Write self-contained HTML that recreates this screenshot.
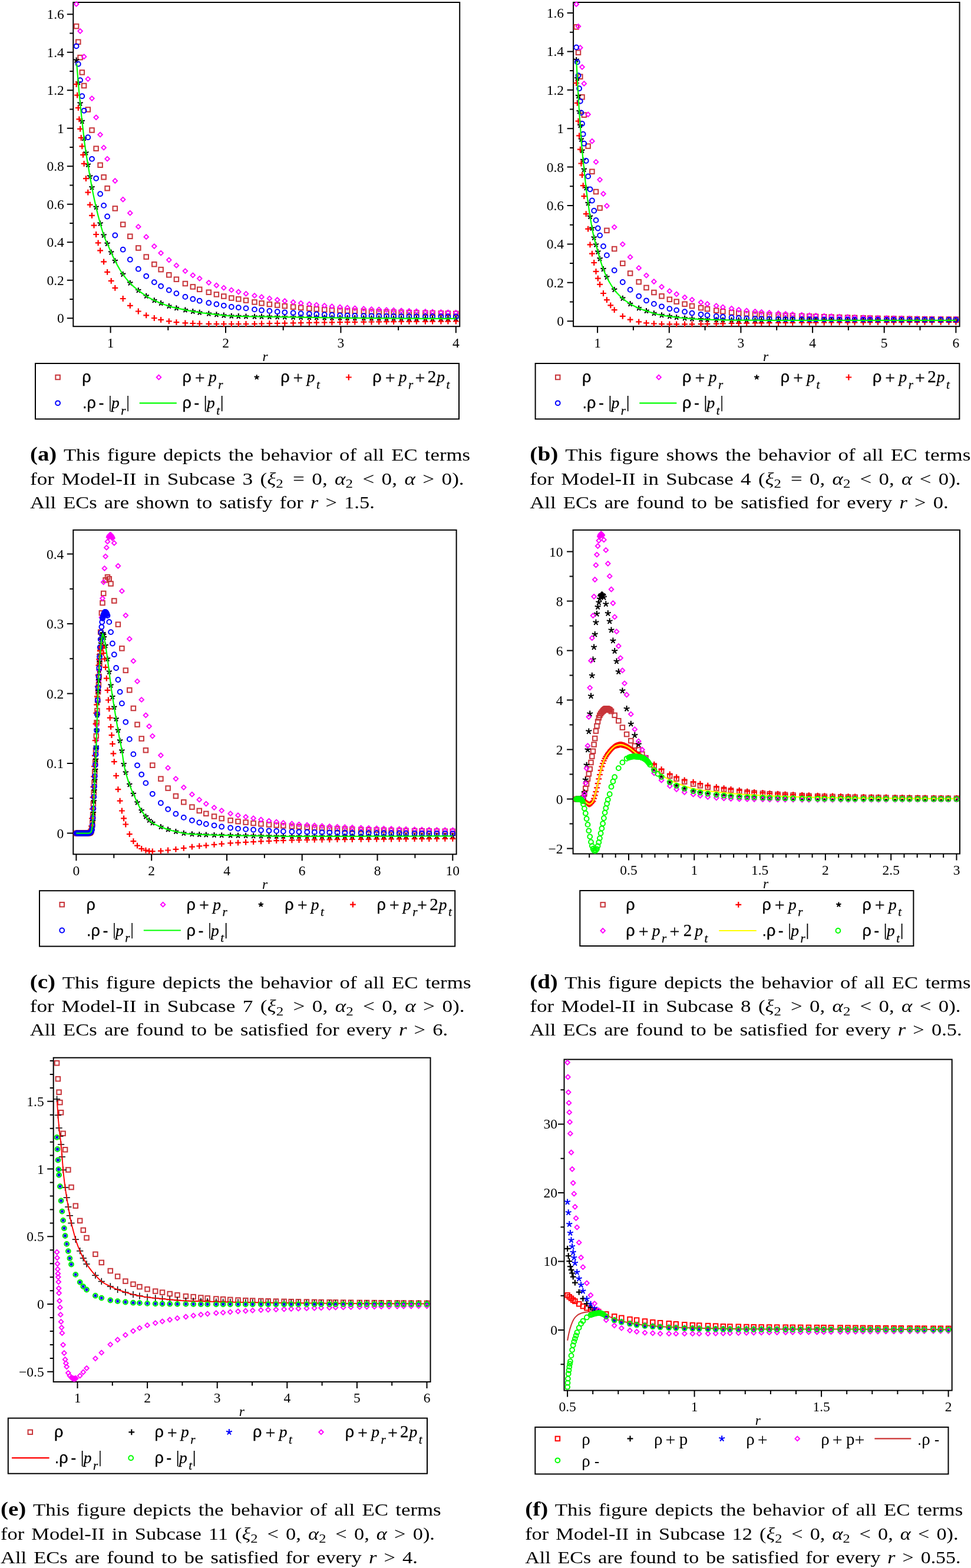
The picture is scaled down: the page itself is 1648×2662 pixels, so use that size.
<!DOCTYPE html>
<html><head><meta charset="utf-8"><title>EC figure</title>
<style>html,body{margin:0;padding:0;background:#fff}svg{display:block}</style></head><body>
<svg width="1648" height="2662" viewBox="0 0 1648 2662">
<rect width="1648" height="2662" fill="#fff"/>
<defs>
<g id="sq"><rect x="-3.75" y="-3.75" width="7.5" height="7.5" fill="none" stroke="currentColor" stroke-width="2"/></g>
<g id="di"><path d="M0 -3.8L3.8 0L0 3.8L-3.8 0Z" fill="none" stroke="currentColor" stroke-width="1.9"/></g>
<g id="ci"><circle r="3.9" fill="none" stroke="currentColor" stroke-width="2"/></g>
<g id="pl"><path d="M-4.9 0H4.9M0 -4.9V4.9" fill="none" stroke="currentColor" stroke-width="2.2"/></g>
<g id="plb"><path d="M-5.6 0H5.6M0 -5.6V5.6" fill="none" stroke="currentColor" stroke-width="1.5"/></g>
<g id="as"><path d="M0 -4.8V0M0 0L-4.6 -1.5M0 0L4.6 -1.5M0 0L-2.8 3.9M0 0L2.8 3.9" fill="none" stroke="currentColor" stroke-width="2.1"/></g>
<g id="asb"><path d="M0 -5.2V0M0 0L-4.9 -1.6M0 0L4.9 -1.6M0 0L-3 4.2M0 0L3 4.2" fill="none" stroke="currentColor" stroke-width="2"/></g>
<g id="asl"><path d="M0 -4.3V0M0 0L-4.1 -1.3M0 0L4.1 -1.3M0 0L-2.5 3.5M0 0L2.5 3.5" fill="none" stroke="currentColor" stroke-width="2.1"/></g>
<g id="ass"><path d="M0 -3.6V3.6M-3.3 -2L3.3 2M-3.3 2L3.3 -2" fill="none" stroke="currentColor" stroke-width="1.6"/></g>
</defs>
<g stroke="#000" stroke-width="2" fill="none">
<rect x="124.3" y="4.0" width="655.9" height="550.2"/>
<path d="M187.6 554.2v11M383.0 554.2v11M578.4 554.2v11M773.8 554.2v11M285.3 554.2v6.5M480.7 554.2v6.5M676.1 554.2v6.5M124.3 540.3h-10.5M124.3 475.8h-10.5M124.3 411.3h-10.5M124.3 346.8h-10.5M124.3 282.3h-10.5M124.3 217.8h-10.5M124.3 153.3h-10.5M124.3 88.8h-10.5M124.3 24.3h-10.5M124.3 508.0h-6M124.3 443.5h-6M124.3 379.0h-6M124.3 314.5h-6M124.3 250.0h-6M124.3 185.5h-6M124.3 121.0h-6M124.3 56.5h-6"/>
</g>
<g font-family="'Liberation Serif',serif" font-size="23.5" fill="#000">
<g text-anchor="middle">
<text x="187.6" y="589.5">1</text>
<text x="383.0" y="589.5">2</text>
<text x="578.4" y="589.5">3</text>
<text x="773.8" y="589.5">4</text>
</g><g text-anchor="end">
<text x="108.8" y="548.2">0</text>
<text x="108.8" y="483.7">0.2</text>
<text x="108.8" y="419.2">0.4</text>
<text x="108.8" y="354.7">0.6</text>
<text x="108.8" y="290.2">0.8</text>
<text x="108.8" y="225.7">1</text>
<text x="108.8" y="161.2">1.2</text>
<text x="108.8" y="96.7">1.4</text>
<text x="108.8" y="32.2">1.6</text>
</g>
<text x="450.0" y="613.0" font-style="italic" font-size="23.5" text-anchor="middle">r</text>
</g>
<g color="#c8353a">
<use href="#sq" x="129.6" y="44.6"/><use href="#sq" x="132.8" y="71.2"/><use href="#sq" x="136.1" y="97.6"/><use href="#sq" x="139.3" y="122.9"/><use href="#sq" x="142.6" y="145.5"/><use href="#sq" x="149.3" y="186.0"/><use href="#sq" x="156.0" y="221.0"/><use href="#sq" x="163.1" y="252.2"/><use href="#sq" x="170.1" y="280.3"/><use href="#sq" x="176.1" y="300.8"/><use href="#sq" x="182.1" y="319.7"/><use href="#sq" x="195.3" y="353.9"/><use href="#sq" x="208.7" y="381.1"/><use href="#sq" x="220.8" y="401.3"/><use href="#sq" x="234.8" y="421.0"/><use href="#sq" x="248.2" y="436.1"/><use href="#sq" x="261.8" y="448.7"/><use href="#sq" x="273.1" y="457.6"/><use href="#sq" x="286.8" y="466.8"/><use href="#sq" x="299.4" y="474.2"/><use href="#sq" x="314.4" y="481.5"/><use href="#sq" x="327.3" y="486.9"/><use href="#sq" x="338.7" y="491.3"/><use href="#sq" x="354.3" y="496.2"/><use href="#sq" x="367.4" y="499.9"/><use href="#sq" x="379.8" y="503.0"/><use href="#sq" x="392.8" y="506.0"/><use href="#sq" x="404.8" y="507.8"/><use href="#sq" x="417.5" y="510.0"/><use href="#sq" x="432.0" y="512.9"/><use href="#sq" x="444.0" y="514.8"/><use href="#sq" x="457.4" y="516.6"/><use href="#sq" x="470.7" y="518.1"/><use href="#sq" x="483.3" y="519.6"/><use href="#sq" x="497.6" y="521.1"/><use href="#sq" x="510.7" y="522.4"/><use href="#sq" x="524.9" y="523.8"/><use href="#sq" x="537.2" y="524.8"/><use href="#sq" x="550.7" y="525.8"/><use href="#sq" x="563.4" y="526.6"/><use href="#sq" x="577.0" y="527.2"/><use href="#sq" x="589.6" y="527.8"/><use href="#sq" x="602.3" y="528.2"/><use href="#sq" x="617.3" y="528.7"/><use href="#sq" x="630.5" y="529.1"/><use href="#sq" x="643.2" y="529.5"/><use href="#sq" x="656.0" y="529.8"/><use href="#sq" x="668.1" y="530.1"/><use href="#sq" x="681.1" y="530.4"/><use href="#sq" x="694.4" y="530.7"/><use href="#sq" x="706.9" y="531.0"/><use href="#sq" x="721.9" y="531.4"/><use href="#sq" x="734.1" y="531.6"/><use href="#sq" x="748.4" y="531.9"/><use href="#sq" x="760.4" y="532.1"/><use href="#sq" x="773.8" y="532.4"/>
</g>
<g color="#ff00ff">
<use href="#di" x="129.6" y="6.9"/><use href="#di" x="136.1" y="52.8"/><use href="#di" x="142.6" y="96.2"/><use href="#di" x="149.3" y="134.1"/><use href="#di" x="156.0" y="167.1"/><use href="#di" x="163.1" y="199.3"/><use href="#di" x="170.1" y="228.6"/><use href="#di" x="176.1" y="250.7"/><use href="#di" x="182.1" y="269.7"/><use href="#di" x="195.3" y="307.0"/><use href="#di" x="208.7" y="338.7"/><use href="#di" x="220.8" y="361.7"/><use href="#di" x="234.8" y="384.9"/><use href="#di" x="248.2" y="402.2"/><use href="#di" x="261.8" y="418.1"/><use href="#di" x="273.1" y="429.6"/><use href="#di" x="286.8" y="441.3"/><use href="#di" x="299.4" y="450.7"/><use href="#di" x="314.4" y="460.1"/><use href="#di" x="327.3" y="467.3"/><use href="#di" x="338.7" y="472.8"/><use href="#di" x="354.3" y="479.8"/><use href="#di" x="367.4" y="484.5"/><use href="#di" x="379.8" y="488.7"/><use href="#di" x="392.8" y="492.4"/><use href="#di" x="404.8" y="495.5"/><use href="#di" x="417.5" y="498.7"/><use href="#di" x="432.0" y="501.9"/><use href="#di" x="444.0" y="504.2"/><use href="#di" x="457.4" y="506.7"/><use href="#di" x="470.7" y="509.0"/><use href="#di" x="483.3" y="511.0"/><use href="#di" x="497.6" y="513.0"/><use href="#di" x="510.7" y="514.6"/><use href="#di" x="524.9" y="516.3"/><use href="#di" x="537.2" y="517.7"/><use href="#di" x="550.7" y="518.9"/><use href="#di" x="563.4" y="520.2"/><use href="#di" x="577.0" y="521.5"/><use href="#di" x="589.6" y="522.4"/><use href="#di" x="602.3" y="523.3"/><use href="#di" x="617.3" y="524.2"/><use href="#di" x="630.5" y="524.9"/><use href="#di" x="643.2" y="525.5"/><use href="#di" x="656.0" y="526.2"/><use href="#di" x="668.1" y="526.7"/><use href="#di" x="681.1" y="527.3"/><use href="#di" x="694.4" y="527.9"/><use href="#di" x="706.9" y="528.4"/><use href="#di" x="721.9" y="529.0"/><use href="#di" x="734.1" y="529.4"/><use href="#di" x="748.4" y="529.9"/><use href="#di" x="760.4" y="530.3"/><use href="#di" x="773.8" y="530.7"/>
</g>
<g color="#000">
<use href="#as" x="129.6" y="102.4"/><use href="#as" x="132.8" y="140.2"/><use href="#as" x="136.1" y="175.6"/><use href="#as" x="139.3" y="205.9"/><use href="#as" x="142.6" y="235.0"/><use href="#as" x="145.9" y="259.5"/><use href="#as" x="149.3" y="279.8"/><use href="#as" x="152.7" y="299.6"/><use href="#as" x="156.0" y="318.3"/><use href="#as" x="163.1" y="351.8"/><use href="#as" x="170.1" y="379.4"/><use href="#as" x="176.1" y="399.4"/><use href="#as" x="182.1" y="413.8"/><use href="#as" x="188.7" y="428.5"/><use href="#as" x="195.3" y="443.0"/><use href="#as" x="208.7" y="465.7"/><use href="#as" x="220.8" y="480.6"/><use href="#as" x="234.8" y="493.0"/><use href="#as" x="248.2" y="502.6"/><use href="#as" x="261.8" y="510.0"/><use href="#as" x="273.1" y="514.8"/><use href="#as" x="286.8" y="519.7"/><use href="#as" x="299.4" y="523.0"/><use href="#as" x="314.4" y="526.3"/><use href="#as" x="327.3" y="528.7"/><use href="#as" x="338.7" y="530.5"/><use href="#as" x="354.3" y="532.6"/><use href="#as" x="367.4" y="534.1"/><use href="#as" x="379.8" y="535.4"/><use href="#as" x="392.8" y="536.5"/><use href="#as" x="404.8" y="536.9"/><use href="#as" x="417.5" y="537.2"/><use href="#as" x="432.0" y="537.5"/><use href="#as" x="444.0" y="537.6"/><use href="#as" x="457.4" y="537.8"/><use href="#as" x="470.7" y="538.0"/><use href="#as" x="483.3" y="538.2"/><use href="#as" x="497.6" y="538.4"/><use href="#as" x="510.7" y="538.7"/><use href="#as" x="524.9" y="538.9"/><use href="#as" x="537.2" y="539.1"/><use href="#as" x="550.7" y="539.3"/><use href="#as" x="563.4" y="539.5"/><use href="#as" x="577.0" y="539.6"/><use href="#as" x="589.6" y="539.8"/><use href="#as" x="602.3" y="539.9"/><use href="#as" x="617.3" y="540.0"/><use href="#as" x="630.5" y="540.2"/><use href="#as" x="643.2" y="540.3"/><use href="#as" x="656.0" y="540.4"/><use href="#as" x="668.1" y="540.5"/><use href="#as" x="681.1" y="540.6"/><use href="#as" x="694.4" y="540.7"/><use href="#as" x="706.9" y="540.7"/><use href="#as" x="721.9" y="540.8"/><use href="#as" x="734.1" y="540.9"/><use href="#as" x="748.4" y="540.9"/><use href="#as" x="760.4" y="540.9"/><use href="#as" x="773.8" y="540.9"/>
</g>
<g color="#ff0000">
<use href="#pl" x="129.6" y="143.0"/><use href="#pl" x="131.2" y="161.6"/><use href="#pl" x="132.8" y="183.2"/><use href="#pl" x="134.4" y="202.3"/><use href="#pl" x="136.1" y="218.8"/><use href="#pl" x="137.7" y="233.9"/><use href="#pl" x="139.3" y="248.4"/><use href="#pl" x="141.0" y="262.9"/><use href="#pl" x="142.6" y="277.9"/><use href="#pl" x="145.9" y="303.2"/><use href="#pl" x="149.3" y="326.6"/><use href="#pl" x="152.7" y="347.7"/><use href="#pl" x="156.0" y="365.9"/><use href="#pl" x="159.5" y="382.6"/><use href="#pl" x="163.1" y="398.0"/><use href="#pl" x="166.6" y="412.3"/><use href="#pl" x="170.1" y="425.4"/><use href="#pl" x="176.1" y="444.4"/><use href="#pl" x="182.1" y="461.8"/><use href="#pl" x="188.7" y="476.9"/><use href="#pl" x="195.3" y="488.8"/><use href="#pl" x="208.7" y="507.0"/><use href="#pl" x="220.8" y="518.8"/><use href="#pl" x="234.8" y="528.5"/><use href="#pl" x="248.2" y="535.3"/><use href="#pl" x="261.8" y="540.0"/><use href="#pl" x="273.1" y="542.9"/><use href="#pl" x="286.8" y="545.4"/><use href="#pl" x="299.4" y="547.1"/><use href="#pl" x="314.4" y="548.4"/><use href="#pl" x="327.3" y="549.0"/><use href="#pl" x="338.7" y="549.5"/><use href="#pl" x="354.3" y="549.9"/><use href="#pl" x="367.4" y="550.0"/><use href="#pl" x="379.8" y="550.0"/><use href="#pl" x="392.8" y="550.0"/><use href="#pl" x="404.8" y="550.0"/><use href="#pl" x="417.5" y="550.0"/><use href="#pl" x="432.0" y="549.8"/><use href="#pl" x="444.0" y="549.5"/><use href="#pl" x="457.4" y="549.2"/><use href="#pl" x="470.7" y="548.8"/><use href="#pl" x="483.3" y="548.6"/><use href="#pl" x="497.6" y="548.4"/><use href="#pl" x="510.7" y="548.1"/><use href="#pl" x="524.9" y="547.9"/><use href="#pl" x="537.2" y="547.7"/><use href="#pl" x="550.7" y="547.5"/><use href="#pl" x="563.4" y="547.3"/><use href="#pl" x="577.0" y="547.1"/><use href="#pl" x="589.6" y="546.9"/><use href="#pl" x="602.3" y="546.8"/><use href="#pl" x="617.3" y="546.6"/><use href="#pl" x="630.5" y="546.5"/><use href="#pl" x="643.2" y="546.3"/><use href="#pl" x="656.0" y="546.2"/><use href="#pl" x="668.1" y="546.1"/><use href="#pl" x="681.1" y="546.0"/><use href="#pl" x="694.4" y="545.9"/><use href="#pl" x="706.9" y="545.8"/><use href="#pl" x="721.9" y="545.8"/><use href="#pl" x="734.1" y="545.7"/><use href="#pl" x="748.4" y="545.6"/><use href="#pl" x="760.4" y="545.6"/><use href="#pl" x="773.8" y="545.5"/>
</g>
<g color="#0000ff">
<use href="#ci" x="129.6" y="78.3"/><use href="#ci" x="132.8" y="108.7"/><use href="#ci" x="136.1" y="136.1"/><use href="#ci" x="139.3" y="163.2"/><use href="#ci" x="142.6" y="187.8"/><use href="#ci" x="149.3" y="233.2"/><use href="#ci" x="156.0" y="269.8"/><use href="#ci" x="163.1" y="302.8"/><use href="#ci" x="170.1" y="329.2"/><use href="#ci" x="176.1" y="348.9"/><use href="#ci" x="182.1" y="367.5"/><use href="#ci" x="195.3" y="399.5"/><use href="#ci" x="208.7" y="423.7"/><use href="#ci" x="220.8" y="440.7"/><use href="#ci" x="234.8" y="456.7"/><use href="#ci" x="248.2" y="468.8"/><use href="#ci" x="261.8" y="479.1"/><use href="#ci" x="273.1" y="485.8"/><use href="#ci" x="286.8" y="492.6"/><use href="#ci" x="299.4" y="498.1"/><use href="#ci" x="314.4" y="503.9"/><use href="#ci" x="327.3" y="507.7"/><use href="#ci" x="338.7" y="510.7"/><use href="#ci" x="354.3" y="514.2"/><use href="#ci" x="367.4" y="516.5"/><use href="#ci" x="379.8" y="518.8"/><use href="#ci" x="392.8" y="521.0"/><use href="#ci" x="404.8" y="522.1"/><use href="#ci" x="417.5" y="523.4"/><use href="#ci" x="432.0" y="525.4"/><use href="#ci" x="444.0" y="526.7"/><use href="#ci" x="457.4" y="527.9"/><use href="#ci" x="470.7" y="529.2"/><use href="#ci" x="483.3" y="530.3"/><use href="#ci" x="497.6" y="531.2"/><use href="#ci" x="510.7" y="532.2"/><use href="#ci" x="524.9" y="532.8"/><use href="#ci" x="537.2" y="533.4"/><use href="#ci" x="550.7" y="534.1"/><use href="#ci" x="563.4" y="534.7"/><use href="#ci" x="577.0" y="535.3"/><use href="#ci" x="589.6" y="535.7"/><use href="#ci" x="602.3" y="536.0"/><use href="#ci" x="617.3" y="536.2"/><use href="#ci" x="630.5" y="536.3"/><use href="#ci" x="643.2" y="536.5"/><use href="#ci" x="656.0" y="536.6"/><use href="#ci" x="668.1" y="536.7"/><use href="#ci" x="681.1" y="536.9"/><use href="#ci" x="694.4" y="537.0"/><use href="#ci" x="706.9" y="537.1"/><use href="#ci" x="721.9" y="537.1"/><use href="#ci" x="734.1" y="537.2"/><use href="#ci" x="748.4" y="537.3"/><use href="#ci" x="760.4" y="537.3"/><use href="#ci" x="773.8" y="537.4"/>
</g>
<polyline points="130.2,108.5 132.3,133.8 134.4,158.5 136.6,180.7 138.7,200.6 140.9,219.5 143.0,238.8 145.2,254.5 147.3,268.0 149.5,280.7 151.6,293.4 153.8,305.9 155.9,317.7 158.0,328.6 160.2,338.9 162.3,348.6 164.5,357.8 166.6,366.4 168.8,374.5 170.9,382.3 173.1,389.7 175.2,396.7 177.4,402.9 179.5,408.2 181.6,412.9 183.8,417.5 185.9,422.3 188.1,427.2 190.2,432.0 192.4,436.7 194.5,441.3 196.7,445.6 198.8,449.6 201.0,453.4 203.1,457.1 205.2,460.5 207.4,463.8 209.5,466.9 211.7,469.8 213.8,472.6 216.0,475.2 218.1,477.7 220.3,480.0 222.4,482.3 224.6,484.4 226.7,486.4 228.8,488.2 231.0,490.0 233.1,491.7 235.3,493.4 237.4,495.0 239.6,496.6 241.7,498.2 243.9,499.7 246.0,501.2 248.2,502.6 250.3,503.9 252.4,505.2 254.6,506.3 256.7,507.5 258.9,508.6 261.0,509.6 263.2,510.6 265.3,511.6 267.5,512.5 269.6,513.4 271.8,514.3 273.9,515.1 276.0,515.9 278.2,516.7 280.3,517.5 282.5,518.2 284.6,519.0 286.8,519.7 288.9,520.4 291.1,521.0 293.2,521.6 295.4,522.1 297.5,522.6 299.6,523.1 301.8,523.5 303.9,524.0 306.1,524.4 308.2,524.9 310.4,525.4 312.5,525.9 314.7,526.3 316.8,526.7 319.0,527.2 321.1,527.6 323.2,528.0 325.4,528.3 327.5,528.7 329.7,529.1 331.8,529.4 334.0,529.7 336.1,530.1 338.3,530.4 340.4,530.7 342.6,531.1 344.7,531.4 346.8,531.6 349.0,531.9 351.1,532.2 353.3,532.4 355.4,532.7 357.6,532.9 359.7,533.2 361.9,533.4 364.0,533.7 366.2,533.9 368.3,534.2 370.4,534.4 372.6,534.6 374.7,534.9 376.9,535.1 379.0,535.3 381.2,535.6 383.3,535.8 385.5,536.0 387.6,536.1 389.8,536.3 391.9,536.4 394.0,536.5 396.2,536.7 398.3,536.7 400.5,536.8 402.6,536.9 404.8,536.9 406.9,537.0 409.1,537.0 411.2,537.1 413.4,537.1 415.5,537.2 417.6,537.2 419.8,537.3 421.9,537.3 424.1,537.3 426.2,537.4 428.4,537.4 430.5,537.5 432.7,537.5 434.8,537.5 437.0,537.5 439.1,537.6 441.2,537.6 443.4,537.6 445.5,537.7 447.7,537.7 449.8,537.7 452.0,537.7 454.1,537.8 456.3,537.8 458.4,537.8 460.6,537.9 462.7,537.9 464.8,537.9 467.0,537.9 469.1,538.0 471.3,538.0 473.4,538.0 475.6,538.1 477.7,538.1 479.9,538.1 482.0,538.2 484.2,538.2 486.3,538.2 488.4,538.3 490.6,538.3 492.7,538.3 494.9,538.4 497.0,538.4 499.2,538.5 501.3,538.5 503.5,538.5 505.6,538.6 507.8,538.6 509.9,538.6 512.0,538.7 514.2,538.7 516.3,538.8 518.5,538.8 520.6,538.8 522.8,538.9 524.9,538.9 527.1,538.9 529.2,539.0 531.4,539.0 533.5,539.0 535.7,539.1 537.8,539.1 539.9,539.1 542.1,539.2 544.2,539.2 546.4,539.2 548.5,539.3 550.7,539.3 552.8,539.3 555.0,539.4 557.1,539.4 559.3,539.4 561.4,539.5 563.5,539.5 565.7,539.5 567.8,539.5 570.0,539.6 572.1,539.6 574.3,539.6 576.4,539.6 578.6,539.7 580.7,539.7 582.9,539.7 585.0,539.7 587.1,539.7 589.3,539.8 591.4,539.8 593.6,539.8 595.7,539.8 597.9,539.8 600.0,539.9 602.2,539.9 604.3,539.9 606.5,539.9 608.6,539.9 610.7,540.0 612.9,540.0 615.0,540.0 617.2,540.0 619.3,540.0 621.5,540.1 623.6,540.1 625.8,540.1 627.9,540.1 630.1,540.1 632.2,540.2 634.3,540.2 636.5,540.2 638.6,540.2 640.8,540.2 642.9,540.3 645.1,540.3 647.2,540.3 649.4,540.3 651.5,540.3 653.7,540.4 655.8,540.4 657.9,540.4 660.1,540.4 662.2,540.4 664.4,540.4 666.5,540.5 668.7,540.5 670.8,540.5 673.0,540.5 675.1,540.5 677.3,540.5 679.4,540.6 681.5,540.6 683.7,540.6 685.8,540.6 688.0,540.6 690.1,540.6 692.3,540.7 694.4,540.7 696.6,540.7 698.7,540.7 700.9,540.7 703.0,540.7 705.1,540.7 707.3,540.7 709.4,540.8 711.6,540.8 713.7,540.8 715.9,540.8 718.0,540.8 720.2,540.8 722.3,540.8 724.5,540.8 726.6,540.8 728.7,540.8 730.9,540.9 733.0,540.9 735.2,540.9 737.3,540.9 739.5,540.9 741.6,540.9 743.8,540.9 745.9,540.9 748.1,540.9 750.2,540.9 752.3,540.9 754.5,540.9 756.6,540.9 758.8,540.9 760.9,540.9 763.1,540.9 765.2,540.9 767.4,540.9 769.5,540.9 771.7,540.9 773.8,540.9" fill="none" stroke="#00ff00" stroke-width="2.2" stroke-linejoin="round"/>
<rect x="60.0" y="617.0" width="719.0" height="94.4" fill="none" stroke="#000" stroke-width="2"/>
<use href="#sq" x="98.1" y="640.5" color="#c8353a"/>
<text x="139.3" y="649.3" font-family="'Liberation Serif',serif" font-size="27.5" fill="#000" stroke="#000" stroke-width="0.25"><tspan font-family="'Liberation Sans',sans-serif" font-size="27" stroke="#000" stroke-width="0.35">ρ</tspan></text>
<use href="#di" x="269.5" y="640.5" color="#ff00ff"/>
<text x="309.5" y="649.3" font-family="'Liberation Serif',serif" font-size="27.5" fill="#000" stroke="#000" stroke-width="0.25"><tspan font-family="'Liberation Sans',sans-serif" font-size="27" stroke="#000" stroke-width="0.35">ρ</tspan><tspan dx="6" font-size="30" dy="1.5">+</tspan><tspan dy="-1.5" font-size="1"> </tspan><tspan dx="6" font-style="italic">p</tspan><tspan dx="2.5" dy="10.5" font-style="italic" font-size="21">r</tspan><tspan dy="-10.5" font-size="1"> </tspan></text>
<use href="#asl" x="435.7" y="640.5" color="#000"/>
<text x="476.2" y="649.3" font-family="'Liberation Serif',serif" font-size="27.5" fill="#000" stroke="#000" stroke-width="0.25"><tspan font-family="'Liberation Sans',sans-serif" font-size="27" stroke="#000" stroke-width="0.35">ρ</tspan><tspan dx="6" font-size="30" dy="1.5">+</tspan><tspan dy="-1.5" font-size="1"> </tspan><tspan dx="6" font-style="italic">p</tspan><tspan dx="2.5" dy="10.5" font-style="italic" font-size="21">t</tspan><tspan dy="-10.5" font-size="1"> </tspan></text>
<use href="#pl" x="591.8" y="640.5" color="#ff0000"/>
<text x="632.3" y="649.3" font-family="'Liberation Serif',serif" font-size="27.5" fill="#000" stroke="#000" stroke-width="0.25"><tspan font-family="'Liberation Sans',sans-serif" font-size="27" stroke="#000" stroke-width="0.35">ρ</tspan><tspan dx="6" font-size="30" dy="1.5">+</tspan><tspan dy="-1.5" font-size="1"> </tspan><tspan dx="6" font-style="italic">p</tspan><tspan dx="2.5" dy="10.5" font-style="italic" font-size="21">r</tspan><tspan dy="-10.5" font-size="1"> </tspan><tspan dx="3" font-size="30" dy="1.5">+</tspan><tspan dy="-1.5" font-size="1"> </tspan><tspan dx="4" font-size="29">2</tspan><tspan dx="1" font-style="italic">p</tspan><tspan dx="2.5" dy="10.5" font-style="italic" font-size="21">t</tspan><tspan dy="-10.5" font-size="1"> </tspan></text>
<use href="#ci" x="98.1" y="684.3" color="#0000ff"/>
<text x="140.0" y="693.3" font-family="'Liberation Serif',serif" font-size="27.5" fill="#000" stroke="#000" stroke-width="0.25"><tspan font-family="'Liberation Sans',sans-serif" font-size="27">.</tspan><tspan font-family="'Liberation Sans',sans-serif" font-size="27" stroke="#000" stroke-width="0.35">ρ</tspan><tspan dx="4.5" font-family="'Liberation Sans',sans-serif" font-size="27">-</tspan><tspan dx="7.5" font-size="29" dy="-1.5">|</tspan><tspan dy="1.5" font-size="1"> </tspan><tspan dx="-1" font-style="italic">p</tspan><tspan dx="2.5" dy="10.5" font-style="italic" font-size="21">r</tspan><tspan dy="-10.5" font-size="1"> </tspan><tspan dx="0.5" font-size="29" dy="-1.5">|</tspan><tspan dy="1.5" font-size="1"> </tspan></text>
<path d="M236.7 684.3H299.8" stroke="#00ff00" stroke-width="2.2" fill="none"/>
<text x="309.5" y="693.3" font-family="'Liberation Serif',serif" font-size="27.5" fill="#000" stroke="#000" stroke-width="0.25"><tspan font-family="'Liberation Sans',sans-serif" font-size="27" stroke="#000" stroke-width="0.35">ρ</tspan><tspan dx="4.5" font-family="'Liberation Sans',sans-serif" font-size="27">-</tspan><tspan dx="7.5" font-size="29" dy="-1.5">|</tspan><tspan dy="1.5" font-size="1"> </tspan><tspan dx="-1" font-style="italic">p</tspan><tspan dx="2.5" dy="10.5" font-style="italic" font-size="21">t</tspan><tspan dy="-10.5" font-size="1"> </tspan><tspan dx="0.5" font-size="29" dy="-1.5">|</tspan><tspan dy="1.5" font-size="1"> </tspan></text>
<text x="51.0" y="782.3" font-family="'Liberation Serif',serif" font-size="29.5" fill="#000" word-spacing="3" textLength="747.0" lengthAdjust="spacingAndGlyphs" xml:space="preserve"><tspan font-weight="bold" font-size="33">(a)</tspan> This figure depicts the behavior of all EC terms</text>
<text x="51.0" y="822.7" font-family="'Liberation Serif',serif" font-size="29.5" fill="#000" word-spacing="3" textLength="736.7" lengthAdjust="spacingAndGlyphs" xml:space="preserve">for Model-II in Subcase 3 (<tspan font-style="italic">ξ</tspan><tspan dy="5.5" font-size="21">2</tspan><tspan dy="-5.5" font-size="1"> </tspan> = 0, <tspan font-style="italic">α</tspan><tspan dy="5.5" font-size="21">2</tspan><tspan dy="-5.5" font-size="1"> </tspan> &lt; 0, <tspan font-style="italic">α</tspan> &gt; 0).</text>
<text x="51.0" y="862.8" font-family="'Liberation Serif',serif" font-size="29.5" fill="#000" word-spacing="3" textLength="584.8" lengthAdjust="spacingAndGlyphs" xml:space="preserve">All ECs are shown to satisfy for <tspan font-style="italic">r</tspan> &gt; 1.5.</text>
<g stroke="#000" stroke-width="2" fill="none">
<rect x="973.1" y="4.0" width="655.5" height="550.2"/>
<path d="M1014.1 554.2v11M1135.8 554.2v11M1257.4 554.2v11M1379.1 554.2v11M1500.7 554.2v11M1622.4 554.2v11M1074.9 554.2v6.5M1196.6 554.2v6.5M1318.2 554.2v6.5M1439.9 554.2v6.5M1561.5 554.2v6.5M973.1 545.2h-10.5M973.1 479.8h-10.5M973.1 414.4h-10.5M973.1 349.0h-10.5M973.1 283.6h-10.5M973.1 218.2h-10.5M973.1 152.8h-10.5M973.1 87.4h-10.5M973.1 22.0h-10.5M973.1 512.5h-6M973.1 447.1h-6M973.1 381.7h-6M973.1 316.3h-6M973.1 250.9h-6M973.1 185.5h-6M973.1 120.1h-6M973.1 54.7h-6"/>
</g>
<g font-family="'Liberation Serif',serif" font-size="23.5" fill="#000">
<g text-anchor="middle">
<text x="1014.1" y="589.5">1</text>
<text x="1135.8" y="589.5">2</text>
<text x="1257.4" y="589.5">3</text>
<text x="1379.1" y="589.5">4</text>
<text x="1500.7" y="589.5">5</text>
<text x="1622.4" y="589.5">6</text>
</g><g text-anchor="end">
<text x="957.1" y="553.1">0</text>
<text x="957.1" y="487.7">0.2</text>
<text x="957.1" y="422.3">0.4</text>
<text x="957.1" y="356.9">0.6</text>
<text x="957.1" y="291.5">0.8</text>
<text x="957.1" y="226.1">1</text>
<text x="957.1" y="160.7">1.2</text>
<text x="957.1" y="95.3">1.4</text>
<text x="957.1" y="29.9">1.6</text>
</g>
<text x="1299.5" y="613.0" font-style="italic" font-size="23.5" text-anchor="middle">r</text>
</g>
<g color="#c8353a">
<use href="#sq" x="978.2" y="45.8"/><use href="#sq" x="981.5" y="89.2"/><use href="#sq" x="984.8" y="130.2"/><use href="#sq" x="988.0" y="164.8"/><use href="#sq" x="991.3" y="195.2"/><use href="#sq" x="998.1" y="248.1"/><use href="#sq" x="1004.9" y="291.3"/><use href="#sq" x="1011.5" y="325.5"/><use href="#sq" x="1018.1" y="353.1"/><use href="#sq" x="1029.9" y="391.3"/><use href="#sq" x="1042.7" y="422.5"/><use href="#sq" x="1056.8" y="447.2"/><use href="#sq" x="1069.6" y="464.0"/><use href="#sq" x="1084.2" y="478.6"/><use href="#sq" x="1097.0" y="488.4"/><use href="#sq" x="1109.9" y="496.5"/><use href="#sq" x="1123.0" y="502.8"/><use href="#sq" x="1136.4" y="508.3"/><use href="#sq" x="1148.2" y="512.1"/><use href="#sq" x="1162.1" y="516.2"/><use href="#sq" x="1174.5" y="519.5"/><use href="#sq" x="1189.6" y="522.6"/><use href="#sq" x="1200.5" y="524.6"/><use href="#sq" x="1215.7" y="527.2"/><use href="#sq" x="1226.9" y="528.8"/><use href="#sq" x="1241.6" y="530.6"/><use href="#sq" x="1253.8" y="531.8"/><use href="#sq" x="1267.2" y="532.7"/><use href="#sq" x="1281.5" y="533.5"/><use href="#sq" x="1292.4" y="534.0"/><use href="#sq" x="1305.7" y="534.5"/><use href="#sq" x="1321.1" y="535.2"/><use href="#sq" x="1333.2" y="535.6"/><use href="#sq" x="1345.2" y="536.1"/><use href="#sq" x="1360.7" y="536.6"/><use href="#sq" x="1373.8" y="537.0"/><use href="#sq" x="1384.7" y="537.4"/><use href="#sq" x="1398.7" y="537.8"/><use href="#sq" x="1411.1" y="538.2"/><use href="#sq" x="1424.7" y="538.6"/><use href="#sq" x="1438.6" y="539.1"/><use href="#sq" x="1450.6" y="539.4"/><use href="#sq" x="1465.1" y="539.8"/><use href="#sq" x="1476.6" y="540.1"/><use href="#sq" x="1490.0" y="540.4"/><use href="#sq" x="1504.9" y="540.7"/><use href="#sq" x="1516.9" y="540.9"/><use href="#sq" x="1530.1" y="541.1"/><use href="#sq" x="1543.7" y="541.3"/><use href="#sq" x="1556.6" y="541.5"/><use href="#sq" x="1569.5" y="541.7"/><use href="#sq" x="1581.7" y="541.8"/><use href="#sq" x="1596.7" y="541.9"/><use href="#sq" x="1610.4" y="542.0"/><use href="#sq" x="1622.4" y="542.1"/>
</g>
<g color="#ff00ff">
<use href="#di" x="978.2" y="7.2"/><use href="#di" x="981.5" y="44.8"/><use href="#di" x="984.8" y="80.9"/><use href="#di" x="988.0" y="113.8"/><use href="#di" x="991.3" y="141.9"/><use href="#di" x="998.1" y="194.3"/><use href="#di" x="1004.9" y="239.7"/><use href="#di" x="1011.5" y="274.9"/><use href="#di" x="1018.1" y="305.1"/><use href="#di" x="1024.0" y="329.0"/><use href="#di" x="1029.9" y="349.5"/><use href="#di" x="1042.7" y="385.6"/><use href="#di" x="1056.8" y="414.6"/><use href="#di" x="1069.6" y="436.4"/><use href="#di" x="1084.2" y="454.9"/><use href="#di" x="1097.0" y="467.6"/><use href="#di" x="1109.9" y="478.0"/><use href="#di" x="1123.0" y="487.0"/><use href="#di" x="1136.4" y="494.2"/><use href="#di" x="1148.2" y="499.3"/><use href="#di" x="1162.1" y="504.8"/><use href="#di" x="1174.5" y="508.8"/><use href="#di" x="1189.6" y="513.3"/><use href="#di" x="1200.5" y="516.0"/><use href="#di" x="1215.7" y="519.2"/><use href="#di" x="1226.9" y="521.4"/><use href="#di" x="1241.6" y="523.7"/><use href="#di" x="1253.8" y="525.8"/><use href="#di" x="1267.2" y="527.4"/><use href="#di" x="1281.5" y="528.8"/><use href="#di" x="1292.4" y="529.8"/><use href="#di" x="1305.7" y="530.9"/><use href="#di" x="1321.1" y="532.0"/><use href="#di" x="1333.2" y="532.8"/><use href="#di" x="1345.2" y="533.6"/><use href="#di" x="1360.7" y="534.6"/><use href="#di" x="1373.8" y="535.3"/><use href="#di" x="1384.7" y="535.8"/><use href="#di" x="1398.7" y="536.4"/><use href="#di" x="1411.1" y="537.0"/><use href="#di" x="1424.7" y="537.6"/><use href="#di" x="1438.6" y="538.1"/><use href="#di" x="1450.6" y="538.6"/><use href="#di" x="1465.1" y="539.1"/><use href="#di" x="1476.6" y="539.4"/><use href="#di" x="1490.0" y="539.7"/><use href="#di" x="1504.9" y="540.0"/><use href="#di" x="1516.9" y="540.3"/><use href="#di" x="1530.1" y="540.5"/><use href="#di" x="1543.7" y="540.7"/><use href="#di" x="1556.6" y="540.9"/><use href="#di" x="1569.5" y="541.1"/><use href="#di" x="1581.7" y="541.2"/><use href="#di" x="1596.7" y="541.3"/><use href="#di" x="1610.4" y="541.4"/><use href="#di" x="1622.4" y="541.4"/>
</g>
<g color="#000">
<use href="#as" x="978.2" y="101.7"/><use href="#as" x="979.8" y="133.2"/><use href="#as" x="981.5" y="163.1"/><use href="#as" x="983.1" y="189.3"/><use href="#as" x="984.8" y="212.9"/><use href="#as" x="986.4" y="236.7"/><use href="#as" x="988.0" y="255.7"/><use href="#as" x="989.7" y="272.0"/><use href="#as" x="991.3" y="287.8"/><use href="#as" x="994.7" y="319.1"/><use href="#as" x="998.1" y="345.1"/><use href="#as" x="1001.5" y="367.7"/><use href="#as" x="1004.9" y="387.5"/><use href="#as" x="1008.2" y="403.6"/><use href="#as" x="1011.5" y="415.5"/><use href="#as" x="1014.8" y="427.6"/><use href="#as" x="1018.1" y="439.3"/><use href="#as" x="1024.0" y="456.9"/><use href="#as" x="1029.9" y="470.6"/><use href="#as" x="1042.7" y="491.8"/><use href="#as" x="1056.8" y="506.6"/><use href="#as" x="1069.6" y="515.9"/><use href="#as" x="1084.2" y="523.2"/><use href="#as" x="1097.0" y="527.8"/><use href="#as" x="1109.9" y="532.0"/><use href="#as" x="1123.0" y="535.1"/><use href="#as" x="1136.4" y="537.1"/><use href="#as" x="1148.2" y="538.7"/><use href="#as" x="1162.1" y="540.2"/><use href="#as" x="1174.5" y="541.2"/><use href="#as" x="1189.6" y="542.1"/><use href="#as" x="1200.5" y="542.5"/><use href="#as" x="1215.7" y="543.0"/><use href="#as" x="1226.9" y="543.2"/><use href="#as" x="1241.6" y="543.5"/><use href="#as" x="1253.8" y="543.6"/><use href="#as" x="1267.2" y="543.7"/><use href="#as" x="1281.5" y="543.7"/><use href="#as" x="1292.4" y="543.8"/><use href="#as" x="1305.7" y="543.8"/><use href="#as" x="1321.1" y="543.8"/><use href="#as" x="1333.2" y="543.9"/><use href="#as" x="1345.2" y="543.9"/><use href="#as" x="1360.7" y="543.9"/><use href="#as" x="1373.8" y="543.9"/><use href="#as" x="1384.7" y="543.9"/><use href="#as" x="1398.7" y="543.9"/><use href="#as" x="1411.1" y="543.9"/><use href="#as" x="1424.7" y="543.9"/><use href="#as" x="1438.6" y="543.9"/><use href="#as" x="1450.6" y="543.9"/><use href="#as" x="1465.1" y="543.9"/><use href="#as" x="1476.6" y="543.9"/><use href="#as" x="1490.0" y="543.9"/><use href="#as" x="1504.9" y="543.9"/><use href="#as" x="1516.9" y="543.9"/><use href="#as" x="1530.1" y="543.9"/><use href="#as" x="1543.7" y="543.9"/><use href="#as" x="1556.6" y="543.9"/><use href="#as" x="1569.5" y="543.9"/><use href="#as" x="1581.7" y="543.9"/><use href="#as" x="1596.7" y="543.9"/><use href="#as" x="1610.4" y="543.9"/><use href="#as" x="1622.4" y="543.9"/>
</g>
<g color="#ff0000">
<use href="#pl" x="978.2" y="141.0"/><use href="#pl" x="979.8" y="174.9"/><use href="#pl" x="981.5" y="205.6"/><use href="#pl" x="983.1" y="230.4"/><use href="#pl" x="984.8" y="253.7"/><use href="#pl" x="986.4" y="277.5"/><use href="#pl" x="988.0" y="297.1"/><use href="#pl" x="989.7" y="315.2"/><use href="#pl" x="991.3" y="333.1"/><use href="#pl" x="994.7" y="363.2"/><use href="#pl" x="998.1" y="388.6"/><use href="#pl" x="1001.5" y="415.4"/><use href="#pl" x="1004.9" y="430.7"/><use href="#pl" x="1008.2" y="446.0"/><use href="#pl" x="1011.5" y="460.9"/><use href="#pl" x="1014.8" y="472.7"/><use href="#pl" x="1018.1" y="482.9"/><use href="#pl" x="1024.0" y="498.0"/><use href="#pl" x="1029.9" y="509.2"/><use href="#pl" x="1036.3" y="518.4"/><use href="#pl" x="1042.7" y="526.1"/><use href="#pl" x="1056.8" y="536.9"/><use href="#pl" x="1069.6" y="542.6"/><use href="#pl" x="1084.2" y="546.3"/><use href="#pl" x="1097.0" y="548.3"/><use href="#pl" x="1109.9" y="549.5"/><use href="#pl" x="1123.0" y="550.2"/><use href="#pl" x="1136.4" y="550.4"/><use href="#pl" x="1148.2" y="550.4"/><use href="#pl" x="1162.1" y="550.4"/><use href="#pl" x="1174.5" y="550.4"/><use href="#pl" x="1189.6" y="550.1"/><use href="#pl" x="1200.5" y="549.9"/><use href="#pl" x="1215.7" y="549.6"/><use href="#pl" x="1226.9" y="549.3"/><use href="#pl" x="1241.6" y="549.0"/><use href="#pl" x="1253.8" y="548.8"/><use href="#pl" x="1267.2" y="548.6"/><use href="#pl" x="1281.5" y="548.5"/><use href="#pl" x="1292.4" y="548.3"/><use href="#pl" x="1305.7" y="548.2"/><use href="#pl" x="1321.1" y="548.0"/><use href="#pl" x="1333.2" y="547.9"/><use href="#pl" x="1345.2" y="547.8"/><use href="#pl" x="1360.7" y="547.7"/><use href="#pl" x="1373.8" y="547.6"/><use href="#pl" x="1384.7" y="547.6"/><use href="#pl" x="1398.7" y="547.5"/><use href="#pl" x="1411.1" y="547.5"/><use href="#pl" x="1424.7" y="547.4"/><use href="#pl" x="1438.6" y="547.4"/><use href="#pl" x="1450.6" y="547.3"/><use href="#pl" x="1465.1" y="547.3"/><use href="#pl" x="1476.6" y="547.2"/><use href="#pl" x="1490.0" y="547.2"/><use href="#pl" x="1504.9" y="547.1"/><use href="#pl" x="1516.9" y="547.1"/><use href="#pl" x="1530.1" y="547.1"/><use href="#pl" x="1543.7" y="547.0"/><use href="#pl" x="1556.6" y="547.0"/><use href="#pl" x="1569.5" y="547.0"/><use href="#pl" x="1581.7" y="546.9"/><use href="#pl" x="1596.7" y="546.9"/><use href="#pl" x="1610.4" y="546.9"/><use href="#pl" x="1622.4" y="546.8"/>
</g>
<g color="#0000ff">
<use href="#ci" x="978.2" y="80.4"/><use href="#ci" x="979.8" y="105.4"/><use href="#ci" x="981.5" y="128.1"/><use href="#ci" x="983.1" y="150.2"/><use href="#ci" x="984.8" y="171.8"/><use href="#ci" x="986.4" y="191.4"/><use href="#ci" x="988.0" y="210.0"/><use href="#ci" x="989.7" y="227.7"/><use href="#ci" x="991.3" y="243.7"/><use href="#ci" x="994.7" y="273.0"/><use href="#ci" x="998.1" y="299.4"/><use href="#ci" x="1001.5" y="321.3"/><use href="#ci" x="1004.9" y="340.5"/><use href="#ci" x="1008.2" y="357.7"/><use href="#ci" x="1011.5" y="373.9"/><use href="#ci" x="1014.8" y="387.5"/><use href="#ci" x="1018.1" y="399.6"/><use href="#ci" x="1024.0" y="418.1"/><use href="#ci" x="1029.9" y="433.4"/><use href="#ci" x="1042.7" y="459.0"/><use href="#ci" x="1056.8" y="479.0"/><use href="#ci" x="1069.6" y="491.9"/><use href="#ci" x="1084.2" y="502.8"/><use href="#ci" x="1097.0" y="510.3"/><use href="#ci" x="1109.9" y="515.9"/><use href="#ci" x="1123.0" y="520.3"/><use href="#ci" x="1136.4" y="524.2"/><use href="#ci" x="1148.2" y="526.6"/><use href="#ci" x="1162.1" y="529.2"/><use href="#ci" x="1174.5" y="531.6"/><use href="#ci" x="1189.6" y="533.8"/><use href="#ci" x="1200.5" y="535.2"/><use href="#ci" x="1215.7" y="537.0"/><use href="#ci" x="1226.9" y="537.8"/><use href="#ci" x="1241.6" y="539.0"/><use href="#ci" x="1253.8" y="539.9"/><use href="#ci" x="1267.2" y="540.6"/><use href="#ci" x="1281.5" y="541.0"/><use href="#ci" x="1292.4" y="541.2"/><use href="#ci" x="1305.7" y="541.5"/><use href="#ci" x="1321.1" y="541.7"/><use href="#ci" x="1333.2" y="541.9"/><use href="#ci" x="1345.2" y="542.0"/><use href="#ci" x="1360.7" y="542.1"/><use href="#ci" x="1373.8" y="542.2"/><use href="#ci" x="1384.7" y="542.3"/><use href="#ci" x="1398.7" y="542.4"/><use href="#ci" x="1411.1" y="542.4"/><use href="#ci" x="1424.7" y="542.5"/><use href="#ci" x="1438.6" y="542.5"/><use href="#ci" x="1450.6" y="542.6"/><use href="#ci" x="1465.1" y="542.6"/><use href="#ci" x="1476.6" y="542.7"/><use href="#ci" x="1490.0" y="542.7"/><use href="#ci" x="1504.9" y="542.8"/><use href="#ci" x="1516.9" y="542.8"/><use href="#ci" x="1530.1" y="542.8"/><use href="#ci" x="1543.7" y="542.9"/><use href="#ci" x="1556.6" y="542.9"/><use href="#ci" x="1569.5" y="543.0"/><use href="#ci" x="1581.7" y="543.0"/><use href="#ci" x="1596.7" y="543.0"/><use href="#ci" x="1610.4" y="543.0"/><use href="#ci" x="1622.4" y="543.1"/>
</g>
<polyline points="978.3,103.8 980.5,145.5 982.6,181.8 984.8,213.2 986.9,243.4 989.1,266.3 991.2,287.0 993.4,307.4 995.5,325.7 997.7,341.9 999.8,356.7 1001.9,370.3 1004.1,382.9 1006.2,394.6 1008.4,404.4 1010.5,412.1 1012.7,419.7 1014.8,427.7 1017.0,435.6 1019.1,442.7 1021.3,449.3 1023.4,455.4 1025.6,461.0 1027.7,466.0 1029.9,470.6 1032.0,474.8 1034.1,478.6 1036.3,482.2 1038.4,485.7 1040.6,488.9 1042.7,492.0 1044.9,494.7 1047.0,497.3 1049.2,499.6 1051.3,501.8 1053.5,503.8 1055.6,505.7 1057.8,507.4 1059.9,509.1 1062.1,510.8 1064.2,512.3 1066.4,513.8 1068.5,515.2 1070.6,516.5 1072.8,517.7 1074.9,518.8 1077.1,519.9 1079.2,521.0 1081.4,522.0 1083.5,522.9 1085.7,523.8 1087.8,524.7 1090.0,525.5 1092.1,526.2 1094.3,526.9 1096.4,527.6 1098.6,528.3 1100.7,529.0 1102.8,529.8 1105.0,530.5 1107.1,531.2 1109.3,531.8 1111.4,532.5 1113.6,533.0 1115.7,533.6 1117.9,534.1 1120.0,534.5 1122.2,535.0 1124.3,535.4 1126.5,535.7 1128.6,536.1 1130.8,536.4 1132.9,536.7 1135.0,536.9 1137.2,537.2 1139.3,537.5 1141.5,537.8 1143.6,538.1 1145.8,538.4 1147.9,538.7 1150.1,538.9 1152.2,539.2 1154.4,539.5 1156.5,539.7 1158.7,539.9 1160.8,540.1 1163.0,540.3 1165.1,540.5 1167.2,540.6 1169.4,540.8 1171.5,541.0 1173.7,541.2 1175.8,541.3 1178.0,541.5 1180.1,541.6 1182.3,541.7 1184.4,541.9 1186.6,542.0 1188.7,542.1 1190.9,542.2 1193.0,542.3 1195.2,542.3 1197.3,542.4 1199.4,542.5 1201.6,542.6 1203.7,542.6 1205.9,542.7 1208.0,542.8 1210.2,542.8 1212.3,542.9 1214.5,543.0 1216.6,543.0 1218.8,543.1 1220.9,543.1 1223.1,543.2 1225.2,543.2 1227.4,543.3 1229.5,543.3 1231.6,543.3 1233.8,543.4 1235.9,543.4 1238.1,543.5 1240.2,543.5 1242.4,543.5 1244.5,543.6 1246.7,543.6 1248.8,543.6 1251.0,543.6 1253.1,543.6 1255.3,543.6 1257.4,543.6 1259.6,543.6 1261.7,543.6 1263.8,543.6 1266.0,543.7 1268.1,543.7 1270.3,543.7 1272.4,543.7 1274.6,543.7 1276.7,543.7 1278.9,543.7 1281.0,543.7 1283.2,543.7 1285.3,543.7 1287.5,543.7 1289.6,543.7 1291.8,543.8 1293.9,543.8 1296.0,543.8 1298.2,543.8 1300.3,543.8 1302.5,543.8 1304.6,543.8 1306.8,543.8 1308.9,543.8 1311.1,543.8 1313.2,543.8 1315.4,543.8 1317.5,543.8 1319.7,543.8 1321.8,543.8 1324.0,543.8 1326.1,543.8 1328.2,543.8 1330.4,543.9 1332.5,543.9 1334.7,543.9 1336.8,543.9 1339.0,543.9 1341.1,543.9 1343.3,543.9 1345.4,543.9 1347.6,543.9 1349.7,543.9 1351.9,543.9 1354.0,543.9 1356.2,543.9 1358.3,543.9 1360.5,543.9 1362.6,543.9 1364.7,543.9 1366.9,543.9 1369.0,543.9 1371.2,543.9 1373.3,543.9 1375.5,543.9 1377.6,543.9 1379.8,543.9 1381.9,543.9 1384.1,543.9 1386.2,543.9 1388.4,543.9 1390.5,543.9 1392.7,543.9 1394.8,543.9 1396.9,543.9 1399.1,543.9 1401.2,543.9 1403.4,543.9 1405.5,543.9 1407.7,543.9 1409.8,543.9 1412.0,543.9 1414.1,543.9 1416.3,543.9 1418.4,543.9 1420.6,543.9 1422.7,543.9 1424.9,543.9 1427.0,543.9 1429.1,543.9 1431.3,543.9 1433.4,543.9 1435.6,543.9 1437.7,543.9 1439.9,543.9 1442.0,543.9 1444.2,543.9 1446.3,543.9 1448.5,543.9 1450.6,543.9 1452.8,543.9 1454.9,543.9 1457.1,543.9 1459.2,543.9 1461.3,543.9 1463.5,543.9 1465.6,543.9 1467.8,543.9 1469.9,543.9 1472.1,543.9 1474.2,543.9 1476.4,543.9 1478.5,543.9 1480.7,543.9 1482.8,543.9 1485.0,543.9 1487.1,543.9 1489.3,543.9 1491.4,543.9 1493.5,543.9 1495.7,543.9 1497.8,543.9 1500.0,543.9 1502.1,543.9 1504.3,543.9 1506.4,543.9 1508.6,543.9 1510.7,543.9 1512.9,543.9 1515.0,543.9 1517.2,543.9 1519.3,543.9 1521.5,543.9 1523.6,543.9 1525.7,543.9 1527.9,543.9 1530.0,543.9 1532.2,543.9 1534.3,543.9 1536.5,543.9 1538.6,543.9 1540.8,543.9 1542.9,543.9 1545.1,543.9 1547.2,543.9 1549.4,543.9 1551.5,543.9 1553.7,543.9 1555.8,543.9 1557.9,543.9 1560.1,543.9 1562.2,543.9 1564.4,543.9 1566.5,543.9 1568.7,543.9 1570.8,543.9 1573.0,543.9 1575.1,543.9 1577.3,543.9 1579.4,543.9 1581.6,543.9 1583.7,543.9 1585.9,543.9 1588.0,543.9 1590.1,543.9 1592.3,543.9 1594.4,543.9 1596.6,543.9 1598.7,543.9 1600.9,543.9 1603.0,543.9 1605.2,543.9 1607.3,543.9 1609.5,543.9 1611.6,543.9 1613.8,543.9 1615.9,543.9 1618.1,543.9 1620.2,543.9 1622.4,543.9" fill="none" stroke="#00ff00" stroke-width="2.2" stroke-linejoin="round"/>
<rect x="908.6" y="617.0" width="719.8" height="94.4" fill="none" stroke="#000" stroke-width="2"/>
<use href="#sq" x="946.7" y="640.5" color="#c8353a"/>
<text x="987.9" y="649.3" font-family="'Liberation Serif',serif" font-size="27.5" fill="#000" stroke="#000" stroke-width="0.25"><tspan font-family="'Liberation Sans',sans-serif" font-size="27" stroke="#000" stroke-width="0.35">ρ</tspan></text>
<use href="#di" x="1118.1" y="640.5" color="#ff00ff"/>
<text x="1158.1" y="649.3" font-family="'Liberation Serif',serif" font-size="27.5" fill="#000" stroke="#000" stroke-width="0.25"><tspan font-family="'Liberation Sans',sans-serif" font-size="27" stroke="#000" stroke-width="0.35">ρ</tspan><tspan dx="6" font-size="30" dy="1.5">+</tspan><tspan dy="-1.5" font-size="1"> </tspan><tspan dx="6" font-style="italic">p</tspan><tspan dx="2.5" dy="10.5" font-style="italic" font-size="21">r</tspan><tspan dy="-10.5" font-size="1"> </tspan></text>
<use href="#asl" x="1284.3" y="640.5" color="#000"/>
<text x="1324.8" y="649.3" font-family="'Liberation Serif',serif" font-size="27.5" fill="#000" stroke="#000" stroke-width="0.25"><tspan font-family="'Liberation Sans',sans-serif" font-size="27" stroke="#000" stroke-width="0.35">ρ</tspan><tspan dx="6" font-size="30" dy="1.5">+</tspan><tspan dy="-1.5" font-size="1"> </tspan><tspan dx="6" font-style="italic">p</tspan><tspan dx="2.5" dy="10.5" font-style="italic" font-size="21">t</tspan><tspan dy="-10.5" font-size="1"> </tspan></text>
<use href="#pl" x="1440.4" y="640.5" color="#ff0000"/>
<text x="1480.9" y="649.3" font-family="'Liberation Serif',serif" font-size="27.5" fill="#000" stroke="#000" stroke-width="0.25"><tspan font-family="'Liberation Sans',sans-serif" font-size="27" stroke="#000" stroke-width="0.35">ρ</tspan><tspan dx="6" font-size="30" dy="1.5">+</tspan><tspan dy="-1.5" font-size="1"> </tspan><tspan dx="6" font-style="italic">p</tspan><tspan dx="2.5" dy="10.5" font-style="italic" font-size="21">r</tspan><tspan dy="-10.5" font-size="1"> </tspan><tspan dx="3" font-size="30" dy="1.5">+</tspan><tspan dy="-1.5" font-size="1"> </tspan><tspan dx="4" font-size="29">2</tspan><tspan dx="1" font-style="italic">p</tspan><tspan dx="2.5" dy="10.5" font-style="italic" font-size="21">t</tspan><tspan dy="-10.5" font-size="1"> </tspan></text>
<use href="#ci" x="946.7" y="684.3" color="#0000ff"/>
<text x="988.6" y="693.3" font-family="'Liberation Serif',serif" font-size="27.5" fill="#000" stroke="#000" stroke-width="0.25"><tspan font-family="'Liberation Sans',sans-serif" font-size="27">.</tspan><tspan font-family="'Liberation Sans',sans-serif" font-size="27" stroke="#000" stroke-width="0.35">ρ</tspan><tspan dx="4.5" font-family="'Liberation Sans',sans-serif" font-size="27">-</tspan><tspan dx="7.5" font-size="29" dy="-1.5">|</tspan><tspan dy="1.5" font-size="1"> </tspan><tspan dx="-1" font-style="italic">p</tspan><tspan dx="2.5" dy="10.5" font-style="italic" font-size="21">r</tspan><tspan dy="-10.5" font-size="1"> </tspan><tspan dx="0.5" font-size="29" dy="-1.5">|</tspan><tspan dy="1.5" font-size="1"> </tspan></text>
<path d="M1085.3 684.3H1148.4" stroke="#00ff00" stroke-width="2.2" fill="none"/>
<text x="1158.1" y="693.3" font-family="'Liberation Serif',serif" font-size="27.5" fill="#000" stroke="#000" stroke-width="0.25"><tspan font-family="'Liberation Sans',sans-serif" font-size="27" stroke="#000" stroke-width="0.35">ρ</tspan><tspan dx="4.5" font-family="'Liberation Sans',sans-serif" font-size="27">-</tspan><tspan dx="7.5" font-size="29" dy="-1.5">|</tspan><tspan dy="1.5" font-size="1"> </tspan><tspan dx="-1" font-style="italic">p</tspan><tspan dx="2.5" dy="10.5" font-style="italic" font-size="21">t</tspan><tspan dy="-10.5" font-size="1"> </tspan><tspan dx="0.5" font-size="29" dy="-1.5">|</tspan><tspan dy="1.5" font-size="1"> </tspan></text>
<text x="899.3" y="782.3" font-family="'Liberation Serif',serif" font-size="29.5" fill="#000" word-spacing="3" textLength="748.2" lengthAdjust="spacingAndGlyphs" xml:space="preserve"><tspan font-weight="bold" font-size="33">(b)</tspan> This figure shows the behavior of all EC terms</text>
<text x="899.3" y="822.7" font-family="'Liberation Serif',serif" font-size="29.5" fill="#000" word-spacing="3" textLength="731.3" lengthAdjust="spacingAndGlyphs" xml:space="preserve">for Model-II in Subcase 4 (<tspan font-style="italic">ξ</tspan><tspan dy="5.5" font-size="21">2</tspan><tspan dy="-5.5" font-size="1"> </tspan> = 0, <tspan font-style="italic">α</tspan><tspan dy="5.5" font-size="21">2</tspan><tspan dy="-5.5" font-size="1"> </tspan> &lt; 0, <tspan font-style="italic">α</tspan> &lt; 0).</text>
<text x="899.3" y="862.8" font-family="'Liberation Serif',serif" font-size="29.5" fill="#000" word-spacing="3" textLength="710.5" lengthAdjust="spacingAndGlyphs" xml:space="preserve">All ECs are found to be satisfied for every <tspan font-style="italic">r</tspan> &gt; 0.</text>
<g stroke="#000" stroke-width="2" fill="none">
<rect x="124.3" y="899.8" width="650.3" height="550.5"/>
<path d="M129.4 1450.3v11M257.2 1450.3v11M385.0 1450.3v11M512.7 1450.3v11M640.5 1450.3v11M768.3 1450.3v11M193.3 1450.3v6.5M321.1 1450.3v6.5M448.9 1450.3v6.5M576.6 1450.3v6.5M704.4 1450.3v6.5M124.3 1414.6h-10.5M124.3 1296.1h-10.5M124.3 1177.6h-10.5M124.3 1059.1h-10.5M124.3 940.6h-10.5M124.3 1355.3h-6M124.3 1236.8h-6M124.3 1118.3h-6M124.3 999.8h-6"/>
</g>
<g font-family="'Liberation Serif',serif" font-size="23.5" fill="#000">
<g text-anchor="middle">
<text x="129.4" y="1485.6">0</text>
<text x="257.2" y="1485.6">2</text>
<text x="385.0" y="1485.6">4</text>
<text x="512.7" y="1485.6">6</text>
<text x="640.5" y="1485.6">8</text>
<text x="768.3" y="1485.6">10</text>
</g><g text-anchor="end">
<text x="108.3" y="1422.5">0</text>
<text x="108.3" y="1304.0">0.1</text>
<text x="108.3" y="1185.5">0.2</text>
<text x="108.3" y="1067.0">0.3</text>
<text x="108.3" y="948.5">0.4</text>
</g>
<text x="449.7" y="1509.0" font-style="italic" font-size="23.5" text-anchor="middle">r</text>
</g>
<g color="#c8353a">
<use href="#sq" x="129.4" y="1414.6"/><use href="#sq" x="130.2" y="1414.6"/><use href="#sq" x="131.0" y="1414.6"/><use href="#sq" x="131.7" y="1414.6"/><use href="#sq" x="132.5" y="1414.6"/><use href="#sq" x="133.3" y="1414.6"/><use href="#sq" x="134.1" y="1414.6"/><use href="#sq" x="134.8" y="1414.6"/><use href="#sq" x="135.6" y="1414.6"/><use href="#sq" x="136.4" y="1414.6"/><use href="#sq" x="137.2" y="1414.6"/><use href="#sq" x="137.9" y="1414.6"/><use href="#sq" x="138.7" y="1414.6"/><use href="#sq" x="139.5" y="1414.6"/><use href="#sq" x="140.3" y="1414.6"/><use href="#sq" x="141.0" y="1414.6"/><use href="#sq" x="141.8" y="1414.6"/><use href="#sq" x="142.7" y="1414.6"/><use href="#sq" x="143.6" y="1414.6"/><use href="#sq" x="144.5" y="1414.6"/><use href="#sq" x="145.3" y="1414.6"/><use href="#sq" x="146.2" y="1414.6"/><use href="#sq" x="147.1" y="1414.6"/><use href="#sq" x="148.0" y="1414.6"/><use href="#sq" x="148.9" y="1414.6"/><use href="#sq" x="149.8" y="1414.6"/><use href="#sq" x="150.7" y="1414.5"/><use href="#sq" x="151.5" y="1414.2"/><use href="#sq" x="152.4" y="1413.8"/><use href="#sq" x="153.3" y="1413.2"/><use href="#sq" x="154.2" y="1412.1"/><use href="#sq" x="155.1" y="1410.2"/><use href="#sq" x="156.0" y="1406.5"/><use href="#sq" x="156.8" y="1396.8"/><use href="#sq" x="157.6" y="1383.6"/><use href="#sq" x="158.4" y="1364.7"/><use href="#sq" x="159.2" y="1345.9"/><use href="#sq" x="160.0" y="1328.4"/><use href="#sq" x="160.8" y="1310.8"/><use href="#sq" x="161.7" y="1293.3"/><use href="#sq" x="162.5" y="1273.7"/><use href="#sq" x="163.3" y="1249.5"/><use href="#sq" x="164.1" y="1226.7"/><use href="#sq" x="164.9" y="1206.6"/><use href="#sq" x="165.7" y="1188.7"/><use href="#sq" x="166.6" y="1174.5"/><use href="#sq" x="167.4" y="1162.4"/><use href="#sq" x="168.2" y="1148.4"/><use href="#sq" x="169.0" y="1127.4"/><use href="#sq" x="170.7" y="1073.1"/><use href="#sq" x="172.4" y="1040.7"/><use href="#sq" x="174.0" y="1023.6"/><use href="#sq" x="175.7" y="1007.4"/><use href="#sq" x="179.1" y="984.8"/><use href="#sq" x="182.5" y="979.7"/><use href="#sq" x="185.3" y="982.7"/><use href="#sq" x="188.1" y="991.0"/><use href="#sq" x="193.8" y="1020.0"/><use href="#sq" x="200.4" y="1060.1"/><use href="#sq" x="206.9" y="1100.8"/><use href="#sq" x="213.3" y="1138.1"/><use href="#sq" x="219.8" y="1171.6"/><use href="#sq" x="226.4" y="1202.5"/><use href="#sq" x="233.0" y="1230.1"/><use href="#sq" x="240.2" y="1254.0"/><use href="#sq" x="247.4" y="1273.7"/><use href="#sq" x="258.8" y="1299.2"/><use href="#sq" x="272.9" y="1322.2"/><use href="#sq" x="285.1" y="1338.1"/><use href="#sq" x="298.4" y="1351.5"/><use href="#sq" x="311.8" y="1361.8"/><use href="#sq" x="325.9" y="1370.1"/><use href="#sq" x="338.3" y="1376.4"/><use href="#sq" x="349.8" y="1381.3"/><use href="#sq" x="363.5" y="1386.0"/><use href="#sq" x="376.2" y="1389.6"/><use href="#sq" x="391.1" y="1392.8"/><use href="#sq" x="404.0" y="1394.6"/><use href="#sq" x="417.1" y="1396.1"/><use href="#sq" x="430.1" y="1397.6"/><use href="#sq" x="443.0" y="1398.8"/><use href="#sq" x="456.5" y="1400.0"/><use href="#sq" x="469.2" y="1401.0"/><use href="#sq" x="480.8" y="1401.9"/><use href="#sq" x="495.4" y="1402.9"/><use href="#sq" x="507.5" y="1403.6"/><use href="#sq" x="521.2" y="1404.4"/><use href="#sq" x="533.8" y="1405.1"/><use href="#sq" x="546.5" y="1405.7"/><use href="#sq" x="559.3" y="1406.4"/><use href="#sq" x="572.5" y="1407.0"/><use href="#sq" x="585.3" y="1407.5"/><use href="#sq" x="597.8" y="1408.0"/><use href="#sq" x="612.7" y="1408.5"/><use href="#sq" x="625.7" y="1408.9"/><use href="#sq" x="639.2" y="1409.2"/><use href="#sq" x="651.4" y="1409.5"/><use href="#sq" x="664.1" y="1409.8"/><use href="#sq" x="677.7" y="1410.1"/><use href="#sq" x="689.1" y="1410.4"/><use href="#sq" x="703.6" y="1410.6"/><use href="#sq" x="716.0" y="1410.8"/><use href="#sq" x="728.3" y="1411.0"/><use href="#sq" x="741.4" y="1411.2"/><use href="#sq" x="755.3" y="1411.3"/><use href="#sq" x="768.3" y="1411.4"/>
</g>
<g color="#ff00ff">
<use href="#di" x="129.4" y="1414.6"/><use href="#di" x="130.2" y="1414.6"/><use href="#di" x="131.0" y="1414.6"/><use href="#di" x="131.7" y="1414.6"/><use href="#di" x="132.5" y="1414.6"/><use href="#di" x="133.3" y="1414.6"/><use href="#di" x="134.1" y="1414.6"/><use href="#di" x="134.8" y="1414.6"/><use href="#di" x="135.6" y="1414.6"/><use href="#di" x="136.4" y="1414.6"/><use href="#di" x="137.2" y="1414.6"/><use href="#di" x="137.9" y="1414.6"/><use href="#di" x="138.7" y="1414.6"/><use href="#di" x="139.5" y="1414.6"/><use href="#di" x="140.3" y="1414.6"/><use href="#di" x="141.0" y="1414.6"/><use href="#di" x="141.8" y="1414.6"/><use href="#di" x="142.7" y="1414.6"/><use href="#di" x="143.6" y="1414.6"/><use href="#di" x="144.5" y="1414.6"/><use href="#di" x="145.3" y="1414.6"/><use href="#di" x="146.2" y="1414.6"/><use href="#di" x="147.1" y="1414.6"/><use href="#di" x="148.0" y="1414.6"/><use href="#di" x="148.9" y="1414.6"/><use href="#di" x="149.8" y="1414.6"/><use href="#di" x="150.7" y="1414.6"/><use href="#di" x="151.5" y="1414.3"/><use href="#di" x="152.4" y="1414.0"/><use href="#di" x="153.3" y="1413.4"/><use href="#di" x="154.2" y="1412.6"/><use href="#di" x="155.1" y="1411.0"/><use href="#di" x="156.0" y="1408.5"/><use href="#di" x="156.8" y="1401.3"/><use href="#di" x="157.6" y="1388.9"/><use href="#di" x="158.4" y="1372.7"/><use href="#di" x="159.2" y="1352.9"/><use href="#di" x="160.0" y="1335.2"/><use href="#di" x="160.8" y="1317.7"/><use href="#di" x="161.7" y="1300.4"/><use href="#di" x="162.5" y="1282.1"/><use href="#di" x="163.3" y="1256.8"/><use href="#di" x="164.1" y="1231.1"/><use href="#di" x="164.9" y="1210.4"/><use href="#di" x="165.7" y="1191.3"/><use href="#di" x="166.6" y="1173.1"/><use href="#di" x="167.4" y="1155.8"/><use href="#di" x="168.2" y="1138.3"/><use href="#di" x="169.0" y="1120.7"/><use href="#di" x="170.7" y="1084.2"/><use href="#di" x="172.4" y="1048.2"/><use href="#di" x="174.0" y="1015.8"/><use href="#di" x="175.7" y="988.3"/><use href="#di" x="177.4" y="964.9"/><use href="#di" x="179.1" y="944.6"/><use href="#di" x="180.8" y="929.7"/><use href="#di" x="182.5" y="919.4"/><use href="#di" x="184.6" y="912.2"/><use href="#di" x="184.9" y="911.3"/><use href="#di" x="185.3" y="910.5"/><use href="#di" x="185.6" y="909.7"/><use href="#di" x="186.0" y="909.1"/><use href="#di" x="186.4" y="908.6"/><use href="#di" x="186.7" y="908.3"/><use href="#di" x="187.1" y="908.0"/><use href="#di" x="187.4" y="908.0"/><use href="#di" x="187.8" y="908.2"/><use href="#di" x="188.1" y="908.5"/><use href="#di" x="188.5" y="908.9"/><use href="#di" x="188.8" y="909.5"/><use href="#di" x="189.2" y="910.1"/><use href="#di" x="189.5" y="910.8"/><use href="#di" x="189.9" y="911.6"/><use href="#di" x="190.2" y="912.3"/><use href="#di" x="190.6" y="913.1"/><use href="#di" x="190.9" y="913.8"/><use href="#di" x="193.8" y="921.9"/><use href="#di" x="200.4" y="960.8"/><use href="#di" x="206.9" y="1003.4"/><use href="#di" x="213.3" y="1044.8"/><use href="#di" x="219.8" y="1084.7"/><use href="#di" x="226.4" y="1122.2"/><use href="#di" x="233.0" y="1156.7"/><use href="#di" x="240.2" y="1187.9"/><use href="#di" x="247.4" y="1214.3"/><use href="#di" x="253.1" y="1233.1"/><use href="#di" x="258.8" y="1249.6"/><use href="#di" x="272.9" y="1282.3"/><use href="#di" x="285.1" y="1303.7"/><use href="#di" x="298.4" y="1322.1"/><use href="#di" x="311.8" y="1336.8"/><use href="#di" x="325.9" y="1348.7"/><use href="#di" x="338.3" y="1357.7"/><use href="#di" x="349.8" y="1364.6"/><use href="#di" x="363.5" y="1371.1"/><use href="#di" x="376.2" y="1376.1"/><use href="#di" x="391.1" y="1381.2"/><use href="#di" x="404.0" y="1384.2"/><use href="#di" x="417.1" y="1386.8"/><use href="#di" x="430.1" y="1389.2"/><use href="#di" x="443.0" y="1391.5"/><use href="#di" x="456.5" y="1393.6"/><use href="#di" x="469.2" y="1395.4"/><use href="#di" x="480.8" y="1396.9"/><use href="#di" x="495.4" y="1398.5"/><use href="#di" x="507.5" y="1399.6"/><use href="#di" x="521.2" y="1400.6"/><use href="#di" x="533.8" y="1401.5"/><use href="#di" x="546.5" y="1402.3"/><use href="#di" x="559.3" y="1403.0"/><use href="#di" x="572.5" y="1403.7"/><use href="#di" x="585.3" y="1404.2"/><use href="#di" x="597.8" y="1404.8"/><use href="#di" x="612.7" y="1405.4"/><use href="#di" x="625.7" y="1405.8"/><use href="#di" x="639.2" y="1406.3"/><use href="#di" x="651.4" y="1406.6"/><use href="#di" x="664.1" y="1407.0"/><use href="#di" x="677.7" y="1407.4"/><use href="#di" x="689.1" y="1407.7"/><use href="#di" x="703.6" y="1408.1"/><use href="#di" x="716.0" y="1408.4"/><use href="#di" x="728.3" y="1408.7"/><use href="#di" x="741.4" y="1408.9"/><use href="#di" x="755.3" y="1409.1"/><use href="#di" x="768.3" y="1409.3"/>
</g>
<g color="#000">
<use href="#as" x="129.4" y="1414.6"/><use href="#as" x="130.2" y="1414.6"/><use href="#as" x="131.0" y="1414.6"/><use href="#as" x="131.7" y="1414.6"/><use href="#as" x="132.5" y="1414.6"/><use href="#as" x="133.3" y="1414.6"/><use href="#as" x="134.1" y="1414.6"/><use href="#as" x="134.8" y="1414.6"/><use href="#as" x="135.6" y="1414.6"/><use href="#as" x="136.4" y="1414.6"/><use href="#as" x="137.2" y="1414.6"/><use href="#as" x="137.9" y="1414.6"/><use href="#as" x="138.7" y="1414.6"/><use href="#as" x="139.5" y="1414.6"/><use href="#as" x="140.3" y="1414.6"/><use href="#as" x="141.0" y="1414.6"/><use href="#as" x="141.8" y="1414.6"/><use href="#as" x="142.7" y="1414.6"/><use href="#as" x="143.6" y="1414.6"/><use href="#as" x="144.5" y="1414.6"/><use href="#as" x="145.3" y="1414.6"/><use href="#as" x="146.2" y="1414.6"/><use href="#as" x="147.1" y="1414.6"/><use href="#as" x="148.0" y="1414.6"/><use href="#as" x="148.9" y="1414.6"/><use href="#as" x="149.8" y="1414.6"/><use href="#as" x="150.7" y="1414.6"/><use href="#as" x="151.5" y="1414.4"/><use href="#as" x="152.4" y="1414.1"/><use href="#as" x="153.3" y="1413.6"/><use href="#as" x="154.2" y="1413.0"/><use href="#as" x="155.1" y="1411.7"/><use href="#as" x="156.0" y="1409.5"/><use href="#as" x="156.8" y="1404.9"/><use href="#as" x="157.6" y="1394.1"/><use href="#as" x="158.4" y="1380.1"/><use href="#as" x="159.2" y="1360.3"/><use href="#as" x="160.0" y="1342.1"/><use href="#as" x="160.8" y="1324.6"/><use href="#as" x="161.7" y="1307.1"/><use href="#as" x="162.5" y="1289.7"/><use href="#as" x="163.3" y="1267.8"/><use href="#as" x="164.1" y="1239.0"/><use href="#as" x="164.9" y="1214.1"/><use href="#as" x="165.7" y="1192.5"/><use href="#as" x="166.6" y="1173.1"/><use href="#as" x="167.4" y="1155.0"/><use href="#as" x="168.2" y="1138.1"/><use href="#as" x="169.0" y="1123.4"/><use href="#as" x="169.8" y="1111.4"/><use href="#as" x="170.7" y="1101.2"/><use href="#as" x="171.5" y="1092.7"/><use href="#as" x="172.4" y="1086.1"/><use href="#as" x="173.2" y="1079.9"/><use href="#as" x="174.0" y="1075.7"/><use href="#as" x="174.9" y="1075.3"/><use href="#as" x="175.7" y="1077.9"/><use href="#as" x="176.6" y="1082.2"/><use href="#as" x="179.1" y="1096.1"/><use href="#as" x="182.5" y="1118.6"/><use href="#as" x="185.3" y="1140.6"/><use href="#as" x="188.1" y="1163.5"/><use href="#as" x="190.9" y="1183.1"/><use href="#as" x="193.8" y="1200.7"/><use href="#as" x="197.1" y="1220.5"/><use href="#as" x="200.4" y="1239.8"/><use href="#as" x="203.6" y="1257.6"/><use href="#as" x="206.9" y="1274.6"/><use href="#as" x="210.1" y="1297.3"/><use href="#as" x="213.3" y="1311.5"/><use href="#as" x="219.8" y="1331.9"/><use href="#as" x="226.4" y="1348.1"/><use href="#as" x="233.0" y="1362.5"/><use href="#as" x="240.2" y="1376.3"/><use href="#as" x="247.4" y="1386.3"/><use href="#as" x="253.1" y="1392.6"/><use href="#as" x="258.8" y="1397.1"/><use href="#as" x="272.9" y="1403.8"/><use href="#as" x="285.1" y="1408.2"/><use href="#as" x="298.4" y="1411.7"/><use href="#as" x="311.8" y="1414.6"/><use href="#as" x="325.9" y="1416.1"/><use href="#as" x="338.3" y="1416.8"/><use href="#as" x="349.8" y="1417.2"/><use href="#as" x="363.5" y="1417.7"/><use href="#as" x="376.2" y="1418.0"/><use href="#as" x="391.1" y="1418.3"/><use href="#as" x="404.0" y="1418.6"/><use href="#as" x="417.1" y="1418.8"/><use href="#as" x="430.1" y="1419.1"/><use href="#as" x="443.0" y="1419.3"/><use href="#as" x="456.5" y="1419.5"/><use href="#as" x="469.2" y="1419.7"/><use href="#as" x="480.8" y="1419.8"/><use href="#as" x="495.4" y="1419.9"/><use href="#as" x="507.5" y="1419.9"/><use href="#as" x="521.2" y="1419.9"/><use href="#as" x="533.8" y="1419.9"/><use href="#as" x="546.5" y="1419.9"/><use href="#as" x="559.3" y="1419.9"/><use href="#as" x="572.5" y="1419.9"/><use href="#as" x="585.3" y="1419.8"/><use href="#as" x="597.8" y="1419.8"/><use href="#as" x="612.7" y="1419.8"/><use href="#as" x="625.7" y="1419.7"/><use href="#as" x="639.2" y="1419.7"/><use href="#as" x="651.4" y="1419.7"/><use href="#as" x="664.1" y="1419.6"/><use href="#as" x="677.7" y="1419.6"/><use href="#as" x="689.1" y="1419.6"/><use href="#as" x="703.6" y="1419.5"/><use href="#as" x="716.0" y="1419.5"/><use href="#as" x="728.3" y="1419.5"/><use href="#as" x="741.4" y="1419.4"/><use href="#as" x="755.3" y="1419.4"/><use href="#as" x="768.3" y="1419.3"/>
</g>
<g color="#ff0000">
<use href="#pl" x="129.4" y="1414.6"/><use href="#pl" x="130.2" y="1414.6"/><use href="#pl" x="131.0" y="1414.6"/><use href="#pl" x="131.7" y="1414.6"/><use href="#pl" x="132.5" y="1414.6"/><use href="#pl" x="133.3" y="1414.6"/><use href="#pl" x="134.1" y="1414.6"/><use href="#pl" x="134.8" y="1414.6"/><use href="#pl" x="135.6" y="1414.6"/><use href="#pl" x="136.4" y="1414.6"/><use href="#pl" x="137.2" y="1414.6"/><use href="#pl" x="137.9" y="1414.6"/><use href="#pl" x="138.7" y="1414.6"/><use href="#pl" x="139.5" y="1414.6"/><use href="#pl" x="140.3" y="1414.6"/><use href="#pl" x="141.0" y="1414.6"/><use href="#pl" x="141.8" y="1414.6"/><use href="#pl" x="142.7" y="1414.6"/><use href="#pl" x="143.6" y="1414.6"/><use href="#pl" x="144.5" y="1414.6"/><use href="#pl" x="145.3" y="1414.6"/><use href="#pl" x="146.2" y="1414.6"/><use href="#pl" x="147.1" y="1414.6"/><use href="#pl" x="148.0" y="1414.6"/><use href="#pl" x="148.9" y="1414.6"/><use href="#pl" x="149.8" y="1414.4"/><use href="#pl" x="150.7" y="1414.0"/><use href="#pl" x="151.5" y="1413.6"/><use href="#pl" x="152.4" y="1412.8"/><use href="#pl" x="153.3" y="1411.4"/><use href="#pl" x="154.2" y="1409.1"/><use href="#pl" x="155.1" y="1402.5"/><use href="#pl" x="156.0" y="1389.5"/><use href="#pl" x="156.8" y="1373.5"/><use href="#pl" x="157.6" y="1353.6"/><use href="#pl" x="158.4" y="1335.9"/><use href="#pl" x="159.2" y="1318.4"/><use href="#pl" x="160.0" y="1301.1"/><use href="#pl" x="160.8" y="1282.9"/><use href="#pl" x="161.7" y="1257.2"/><use href="#pl" x="162.5" y="1228.8"/><use href="#pl" x="163.3" y="1210.6"/><use href="#pl" x="164.1" y="1196.3"/><use href="#pl" x="164.9" y="1182.4"/><use href="#pl" x="165.7" y="1165.5"/><use href="#pl" x="166.6" y="1146.2"/><use href="#pl" x="167.4" y="1129.6"/><use href="#pl" x="168.2" y="1119.2"/><use href="#pl" x="169.0" y="1111.2"/><use href="#pl" x="169.8" y="1105.1"/><use href="#pl" x="170.3" y="1103.1"/><use href="#pl" x="170.7" y="1101.4"/><use href="#pl" x="171.1" y="1099.9"/><use href="#pl" x="171.5" y="1098.5"/><use href="#pl" x="171.9" y="1097.6"/><use href="#pl" x="172.4" y="1097.1"/><use href="#pl" x="172.8" y="1097.1"/><use href="#pl" x="173.2" y="1097.7"/><use href="#pl" x="173.6" y="1098.8"/><use href="#pl" x="174.0" y="1100.3"/><use href="#pl" x="175.7" y="1108.8"/><use href="#pl" x="177.4" y="1118.6"/><use href="#pl" x="179.1" y="1132.8"/><use href="#pl" x="180.8" y="1151.7"/><use href="#pl" x="182.5" y="1171.8"/><use href="#pl" x="183.9" y="1188.5"/><use href="#pl" x="185.3" y="1203.3"/><use href="#pl" x="186.7" y="1218.6"/><use href="#pl" x="188.1" y="1233.9"/><use href="#pl" x="189.5" y="1248.2"/><use href="#pl" x="190.9" y="1262.9"/><use href="#pl" x="192.4" y="1279.4"/><use href="#pl" x="193.8" y="1293.2"/><use href="#pl" x="197.1" y="1317.0"/><use href="#pl" x="200.4" y="1340.2"/><use href="#pl" x="203.6" y="1359.6"/><use href="#pl" x="206.9" y="1376.5"/><use href="#pl" x="210.1" y="1389.3"/><use href="#pl" x="213.3" y="1399.5"/><use href="#pl" x="219.8" y="1416.1"/><use href="#pl" x="226.4" y="1428.2"/><use href="#pl" x="233.0" y="1435.7"/><use href="#pl" x="240.2" y="1440.9"/><use href="#pl" x="247.4" y="1443.7"/><use href="#pl" x="253.1" y="1444.9"/><use href="#pl" x="258.8" y="1445.3"/><use href="#pl" x="272.9" y="1444.6"/><use href="#pl" x="285.1" y="1443.5"/><use href="#pl" x="298.4" y="1441.9"/><use href="#pl" x="311.8" y="1439.9"/><use href="#pl" x="325.9" y="1437.6"/><use href="#pl" x="338.3" y="1436.4"/><use href="#pl" x="349.8" y="1435.4"/><use href="#pl" x="363.5" y="1433.9"/><use href="#pl" x="376.2" y="1432.6"/><use href="#pl" x="391.1" y="1431.4"/><use href="#pl" x="404.0" y="1430.6"/><use href="#pl" x="417.1" y="1429.8"/><use href="#pl" x="430.1" y="1429.1"/><use href="#pl" x="443.0" y="1428.4"/><use href="#pl" x="456.5" y="1427.8"/><use href="#pl" x="469.2" y="1427.2"/><use href="#pl" x="480.8" y="1426.8"/><use href="#pl" x="495.4" y="1426.4"/><use href="#pl" x="507.5" y="1426.1"/><use href="#pl" x="521.2" y="1425.8"/><use href="#pl" x="533.8" y="1425.7"/><use href="#pl" x="546.5" y="1425.5"/><use href="#pl" x="559.3" y="1425.4"/><use href="#pl" x="572.5" y="1425.2"/><use href="#pl" x="585.3" y="1425.1"/><use href="#pl" x="597.8" y="1425.0"/><use href="#pl" x="612.7" y="1424.9"/><use href="#pl" x="625.7" y="1424.8"/><use href="#pl" x="639.2" y="1424.7"/><use href="#pl" x="651.4" y="1424.6"/><use href="#pl" x="664.1" y="1424.5"/><use href="#pl" x="677.7" y="1424.4"/><use href="#pl" x="689.1" y="1424.3"/><use href="#pl" x="703.6" y="1424.2"/><use href="#pl" x="716.0" y="1424.1"/><use href="#pl" x="728.3" y="1424.1"/><use href="#pl" x="741.4" y="1424.0"/><use href="#pl" x="755.3" y="1423.9"/><use href="#pl" x="768.3" y="1423.8"/>
</g>
<g color="#0000ff">
<use href="#ci" x="129.4" y="1414.6"/><use href="#ci" x="130.2" y="1414.6"/><use href="#ci" x="131.0" y="1414.6"/><use href="#ci" x="131.7" y="1414.6"/><use href="#ci" x="132.5" y="1414.6"/><use href="#ci" x="133.3" y="1414.6"/><use href="#ci" x="134.1" y="1414.6"/><use href="#ci" x="134.8" y="1414.6"/><use href="#ci" x="135.6" y="1414.6"/><use href="#ci" x="136.4" y="1414.6"/><use href="#ci" x="137.2" y="1414.6"/><use href="#ci" x="137.9" y="1414.6"/><use href="#ci" x="138.7" y="1414.6"/><use href="#ci" x="139.5" y="1414.6"/><use href="#ci" x="140.3" y="1414.6"/><use href="#ci" x="141.0" y="1414.6"/><use href="#ci" x="141.8" y="1414.6"/><use href="#ci" x="142.7" y="1414.6"/><use href="#ci" x="143.6" y="1414.6"/><use href="#ci" x="144.5" y="1414.6"/><use href="#ci" x="145.3" y="1414.6"/><use href="#ci" x="146.2" y="1414.6"/><use href="#ci" x="147.1" y="1414.6"/><use href="#ci" x="148.0" y="1414.6"/><use href="#ci" x="148.9" y="1414.6"/><use href="#ci" x="149.8" y="1414.6"/><use href="#ci" x="150.7" y="1414.6"/><use href="#ci" x="151.5" y="1414.3"/><use href="#ci" x="152.4" y="1414.0"/><use href="#ci" x="153.3" y="1413.4"/><use href="#ci" x="154.2" y="1412.6"/><use href="#ci" x="155.1" y="1411.0"/><use href="#ci" x="156.0" y="1408.5"/><use href="#ci" x="156.8" y="1401.3"/><use href="#ci" x="157.6" y="1388.9"/><use href="#ci" x="158.4" y="1372.7"/><use href="#ci" x="159.2" y="1352.9"/><use href="#ci" x="160.0" y="1335.2"/><use href="#ci" x="160.8" y="1317.7"/><use href="#ci" x="161.7" y="1298.6"/><use href="#ci" x="162.5" y="1280.7"/><use href="#ci" x="163.3" y="1270.1"/><use href="#ci" x="164.1" y="1240.1"/><use href="#ci" x="164.9" y="1212.8"/><use href="#ci" x="165.7" y="1188.7"/><use href="#ci" x="166.6" y="1166.7"/><use href="#ci" x="167.4" y="1148.5"/><use href="#ci" x="168.2" y="1134.0"/><use href="#ci" x="169.0" y="1115.0"/><use href="#ci" x="169.8" y="1098.7"/><use href="#ci" x="170.7" y="1085.4"/><use href="#ci" x="171.5" y="1073.9"/><use href="#ci" x="172.4" y="1064.3"/><use href="#ci" x="173.2" y="1056.0"/><use href="#ci" x="174.0" y="1049.9"/><use href="#ci" x="174.5" y="1048.3"/><use href="#ci" x="174.9" y="1046.7"/><use href="#ci" x="175.3" y="1045.2"/><use href="#ci" x="175.7" y="1043.8"/><use href="#ci" x="176.2" y="1042.6"/><use href="#ci" x="176.6" y="1041.5"/><use href="#ci" x="177.0" y="1040.6"/><use href="#ci" x="177.4" y="1039.9"/><use href="#ci" x="177.8" y="1039.3"/><use href="#ci" x="178.3" y="1039.0"/><use href="#ci" x="178.7" y="1039.0"/><use href="#ci" x="179.1" y="1039.1"/><use href="#ci" x="179.5" y="1039.4"/><use href="#ci" x="179.9" y="1039.9"/><use href="#ci" x="180.4" y="1040.5"/><use href="#ci" x="180.8" y="1041.3"/><use href="#ci" x="181.2" y="1042.1"/><use href="#ci" x="181.6" y="1043.1"/><use href="#ci" x="182.5" y="1045.1"/><use href="#ci" x="185.3" y="1055.9"/><use href="#ci" x="188.1" y="1073.1"/><use href="#ci" x="190.9" y="1092.5"/><use href="#ci" x="193.8" y="1111.2"/><use href="#ci" x="197.1" y="1134.0"/><use href="#ci" x="200.4" y="1154.0"/><use href="#ci" x="203.6" y="1174.6"/><use href="#ci" x="206.9" y="1194.2"/><use href="#ci" x="213.3" y="1225.8"/><use href="#ci" x="219.8" y="1254.9"/><use href="#ci" x="226.4" y="1280.4"/><use href="#ci" x="233.0" y="1299.3"/><use href="#ci" x="240.2" y="1314.8"/><use href="#ci" x="247.4" y="1329.4"/><use href="#ci" x="258.8" y="1347.8"/><use href="#ci" x="272.9" y="1363.2"/><use href="#ci" x="285.1" y="1373.8"/><use href="#ci" x="298.4" y="1381.7"/><use href="#ci" x="311.8" y="1387.9"/><use href="#ci" x="325.9" y="1392.8"/><use href="#ci" x="338.3" y="1396.5"/><use href="#ci" x="349.8" y="1399.0"/><use href="#ci" x="363.5" y="1401.3"/><use href="#ci" x="376.2" y="1403.5"/><use href="#ci" x="391.1" y="1405.5"/><use href="#ci" x="404.0" y="1406.8"/><use href="#ci" x="417.1" y="1407.8"/><use href="#ci" x="430.1" y="1408.7"/><use href="#ci" x="443.0" y="1409.5"/><use href="#ci" x="456.5" y="1410.3"/><use href="#ci" x="469.2" y="1410.9"/><use href="#ci" x="480.8" y="1411.5"/><use href="#ci" x="495.4" y="1412.0"/><use href="#ci" x="507.5" y="1412.3"/><use href="#ci" x="521.2" y="1412.7"/><use href="#ci" x="533.8" y="1412.9"/><use href="#ci" x="546.5" y="1413.1"/><use href="#ci" x="559.3" y="1413.3"/><use href="#ci" x="572.5" y="1413.5"/><use href="#ci" x="585.3" y="1413.7"/><use href="#ci" x="597.8" y="1413.8"/><use href="#ci" x="612.7" y="1414.0"/><use href="#ci" x="625.7" y="1414.1"/><use href="#ci" x="639.2" y="1414.2"/><use href="#ci" x="651.4" y="1414.3"/><use href="#ci" x="664.1" y="1414.4"/><use href="#ci" x="677.7" y="1414.6"/><use href="#ci" x="689.1" y="1414.6"/><use href="#ci" x="703.6" y="1414.8"/><use href="#ci" x="716.0" y="1414.8"/><use href="#ci" x="728.3" y="1414.9"/><use href="#ci" x="741.4" y="1415.0"/><use href="#ci" x="755.3" y="1415.0"/><use href="#ci" x="768.3" y="1415.1"/>
</g>
<polyline points="129.4,1414.6 131.5,1414.6 133.7,1414.6 135.8,1414.6 137.9,1414.6 140.0,1414.6 142.2,1414.6 144.3,1414.6 146.4,1414.6 148.6,1414.6 150.7,1414.6 152.8,1413.9 155.0,1411.9 157.1,1401.4 159.2,1360.4 161.3,1313.9 163.5,1261.6 165.6,1195.9 167.7,1147.2 169.9,1111.1 172.0,1088.9 174.1,1075.5 176.3,1080.4 178.4,1092.0 180.5,1105.1 182.6,1119.9 184.8,1136.3 186.9,1153.9 189.0,1170.2 191.2,1184.5 193.3,1197.7 195.4,1210.6 197.5,1223.4 199.7,1235.9 201.8,1248.0 203.9,1259.1 206.1,1269.8 208.2,1283.4 210.3,1298.3 212.5,1308.0 214.6,1316.0 216.7,1322.9 218.8,1329.3 221.0,1335.2 223.1,1340.6 225.2,1345.6 227.4,1350.3 229.5,1354.9 231.6,1359.5 233.8,1364.1 235.9,1368.5 238.0,1372.6 240.1,1376.2 242.3,1379.4 244.4,1382.4 246.5,1385.2 248.7,1387.9 250.8,1390.3 252.9,1392.5 255.1,1394.4 257.2,1396.0 259.3,1397.4 261.4,1398.6 263.6,1399.8 265.7,1400.8 267.8,1401.8 270.0,1402.7 272.1,1403.5 274.2,1404.3 276.3,1405.1 278.5,1405.9 280.6,1406.7 282.7,1407.4 284.9,1408.1 287.0,1408.7 289.1,1409.4 291.3,1410.0 293.4,1410.5 295.5,1411.0 297.6,1411.5 299.8,1412.0 301.9,1412.5 304.0,1413.0 306.2,1413.5 308.3,1413.9 310.4,1414.4 312.6,1414.7 314.7,1415.1 316.8,1415.4 318.9,1415.6 321.1,1415.8 323.2,1415.9 325.3,1416.1 327.5,1416.2 329.6,1416.3 331.7,1416.4 333.8,1416.5 336.0,1416.7 338.1,1416.8 340.2,1416.9 342.4,1416.9 344.5,1417.0 346.6,1417.1 348.8,1417.2 350.9,1417.3 353.0,1417.3 355.1,1417.4 357.3,1417.5 359.4,1417.5 361.5,1417.6 363.7,1417.7 365.8,1417.7 367.9,1417.8 370.1,1417.8 372.2,1417.9 374.3,1417.9 376.4,1418.0 378.6,1418.0 380.7,1418.1 382.8,1418.1 385.0,1418.2 387.1,1418.2 389.2,1418.2 391.3,1418.3 393.5,1418.3 395.6,1418.4 397.7,1418.4 399.9,1418.5 402.0,1418.5 404.1,1418.6 406.3,1418.6 408.4,1418.6 410.5,1418.7 412.6,1418.7 414.8,1418.8 416.9,1418.8 419.0,1418.9 421.2,1418.9 423.3,1418.9 425.4,1419.0 427.6,1419.0 429.7,1419.1 431.8,1419.1 433.9,1419.1 436.1,1419.2 438.2,1419.2 440.3,1419.2 442.5,1419.3 444.6,1419.3 446.7,1419.4 448.9,1419.4 451.0,1419.4 453.1,1419.4 455.2,1419.5 457.4,1419.5 459.5,1419.5 461.6,1419.6 463.8,1419.6 465.9,1419.6 468.0,1419.6 470.1,1419.7 472.3,1419.7 474.4,1419.7 476.5,1419.7 478.7,1419.8 480.8,1419.8 482.9,1419.8 485.1,1419.8 487.2,1419.8 489.3,1419.8 491.4,1419.9 493.6,1419.9 495.7,1419.9 497.8,1419.9 500.0,1419.9 502.1,1419.9 504.2,1419.9 506.4,1419.9 508.5,1419.9 510.6,1419.9 512.7,1419.9 514.9,1419.9 517.0,1419.9 519.1,1419.9 521.3,1419.9 523.4,1419.9 525.5,1419.9 527.6,1419.9 529.8,1419.9 531.9,1419.9 534.0,1419.9 536.2,1419.9 538.3,1419.9 540.4,1419.9 542.6,1419.9 544.7,1419.9 546.8,1419.9 548.9,1419.9 551.1,1419.9 553.2,1419.9 555.3,1419.9 557.5,1419.9 559.6,1419.9 561.7,1419.9 563.9,1419.9 566.0,1419.9 568.1,1419.9 570.2,1419.9 572.4,1419.9 574.5,1419.9 576.6,1419.8 578.8,1419.8 580.9,1419.8 583.0,1419.8 585.1,1419.8 587.3,1419.8 589.4,1419.8 591.5,1419.8 593.7,1419.8 595.8,1419.8 597.9,1419.8 600.1,1419.8 602.2,1419.8 604.3,1419.8 606.4,1419.8 608.6,1419.8 610.7,1419.8 612.8,1419.8 615.0,1419.8 617.1,1419.8 619.2,1419.7 621.4,1419.7 623.5,1419.7 625.6,1419.7 627.7,1419.7 629.9,1419.7 632.0,1419.7 634.1,1419.7 636.3,1419.7 638.4,1419.7 640.5,1419.7 642.6,1419.7 644.8,1419.7 646.9,1419.7 649.0,1419.7 651.2,1419.7 653.3,1419.7 655.4,1419.7 657.6,1419.7 659.7,1419.7 661.8,1419.6 663.9,1419.6 666.1,1419.6 668.2,1419.6 670.3,1419.6 672.5,1419.6 674.6,1419.6 676.7,1419.6 678.9,1419.6 681.0,1419.6 683.1,1419.6 685.2,1419.6 687.4,1419.6 689.5,1419.6 691.6,1419.6 693.8,1419.6 695.9,1419.6 698.0,1419.6 700.2,1419.5 702.3,1419.5 704.4,1419.5 706.5,1419.5 708.7,1419.5 710.8,1419.5 712.9,1419.5 715.1,1419.5 717.2,1419.5 719.3,1419.5 721.4,1419.5 723.6,1419.5 725.7,1419.5 727.8,1419.5 730.0,1419.5 732.1,1419.5 734.2,1419.4 736.4,1419.4 738.5,1419.4 740.6,1419.4 742.7,1419.4 744.9,1419.4 747.0,1419.4 749.1,1419.4 751.3,1419.4 753.4,1419.4 755.5,1419.4 757.7,1419.4 759.8,1419.4 761.9,1419.4 764.0,1419.4 766.2,1419.3 768.3,1419.3" fill="none" stroke="#00ff00" stroke-width="2.2" stroke-linejoin="round"/>
<rect x="67.0" y="1512.2" width="705.2" height="94.4" fill="none" stroke="#000" stroke-width="2"/>
<use href="#sq" x="105.2" y="1535.7" color="#c8353a"/>
<text x="146.4" y="1544.5" font-family="'Liberation Serif',serif" font-size="27.5" fill="#000" stroke="#000" stroke-width="0.25"><tspan font-family="'Liberation Sans',sans-serif" font-size="27" stroke="#000" stroke-width="0.35">ρ</tspan></text>
<use href="#di" x="276.6" y="1535.7" color="#ff00ff"/>
<text x="316.6" y="1544.5" font-family="'Liberation Serif',serif" font-size="27.5" fill="#000" stroke="#000" stroke-width="0.25"><tspan font-family="'Liberation Sans',sans-serif" font-size="27" stroke="#000" stroke-width="0.35">ρ</tspan><tspan dx="6" font-size="30" dy="1.5">+</tspan><tspan dy="-1.5" font-size="1"> </tspan><tspan dx="6" font-style="italic">p</tspan><tspan dx="2.5" dy="10.5" font-style="italic" font-size="21">r</tspan><tspan dy="-10.5" font-size="1"> </tspan></text>
<use href="#asl" x="442.8" y="1535.7" color="#000"/>
<text x="483.3" y="1544.5" font-family="'Liberation Serif',serif" font-size="27.5" fill="#000" stroke="#000" stroke-width="0.25"><tspan font-family="'Liberation Sans',sans-serif" font-size="27" stroke="#000" stroke-width="0.35">ρ</tspan><tspan dx="6" font-size="30" dy="1.5">+</tspan><tspan dy="-1.5" font-size="1"> </tspan><tspan dx="6" font-style="italic">p</tspan><tspan dx="2.5" dy="10.5" font-style="italic" font-size="21">t</tspan><tspan dy="-10.5" font-size="1"> </tspan></text>
<use href="#pl" x="598.9" y="1535.7" color="#ff0000"/>
<text x="639.4" y="1544.5" font-family="'Liberation Serif',serif" font-size="27.5" fill="#000" stroke="#000" stroke-width="0.25"><tspan font-family="'Liberation Sans',sans-serif" font-size="27" stroke="#000" stroke-width="0.35">ρ</tspan><tspan dx="6" font-size="30" dy="1.5">+</tspan><tspan dy="-1.5" font-size="1"> </tspan><tspan dx="6" font-style="italic">p</tspan><tspan dx="2.5" dy="10.5" font-style="italic" font-size="21">r</tspan><tspan dy="-10.5" font-size="1"> </tspan><tspan dx="-0.5" font-size="30" dy="1.5">+</tspan><tspan dy="-1.5" font-size="1"> </tspan><tspan dx="4" font-size="29">2</tspan><tspan dx="1" font-style="italic">p</tspan><tspan dx="2.5" dy="10.5" font-style="italic" font-size="21">t</tspan><tspan dy="-10.5" font-size="1"> </tspan></text>
<use href="#ci" x="105.2" y="1579.5" color="#0000ff"/>
<text x="147.1" y="1588.5" font-family="'Liberation Serif',serif" font-size="27.5" fill="#000" stroke="#000" stroke-width="0.25"><tspan font-family="'Liberation Sans',sans-serif" font-size="27">.</tspan><tspan font-family="'Liberation Sans',sans-serif" font-size="27" stroke="#000" stroke-width="0.35">ρ</tspan><tspan dx="4.5" font-family="'Liberation Sans',sans-serif" font-size="27">-</tspan><tspan dx="7.5" font-size="29" dy="-1.5">|</tspan><tspan dy="1.5" font-size="1"> </tspan><tspan dx="-1" font-style="italic">p</tspan><tspan dx="2.5" dy="10.5" font-style="italic" font-size="21">r</tspan><tspan dy="-10.5" font-size="1"> </tspan><tspan dx="0.5" font-size="29" dy="-1.5">|</tspan><tspan dy="1.5" font-size="1"> </tspan></text>
<path d="M243.8 1579.5H306.9" stroke="#00ff00" stroke-width="2.2" fill="none"/>
<text x="316.6" y="1588.5" font-family="'Liberation Serif',serif" font-size="27.5" fill="#000" stroke="#000" stroke-width="0.25"><tspan font-family="'Liberation Sans',sans-serif" font-size="27" stroke="#000" stroke-width="0.35">ρ</tspan><tspan dx="4.5" font-family="'Liberation Sans',sans-serif" font-size="27">-</tspan><tspan dx="7.5" font-size="29" dy="-1.5">|</tspan><tspan dy="1.5" font-size="1"> </tspan><tspan dx="-1" font-style="italic">p</tspan><tspan dx="2.5" dy="10.5" font-style="italic" font-size="21">t</tspan><tspan dy="-10.5" font-size="1"> </tspan><tspan dx="0.5" font-size="29" dy="-1.5">|</tspan><tspan dy="1.5" font-size="1"> </tspan></text>
<text x="50.7" y="1677.6" font-family="'Liberation Serif',serif" font-size="29.5" fill="#000" word-spacing="3" textLength="748.8" lengthAdjust="spacingAndGlyphs" xml:space="preserve"><tspan font-weight="bold" font-size="33">(c)</tspan> This figure depicts the behavior of all EC terms</text>
<text x="50.7" y="1718.0" font-family="'Liberation Serif',serif" font-size="29.5" fill="#000" word-spacing="3" textLength="737.9" lengthAdjust="spacingAndGlyphs" xml:space="preserve">for Model-II in Subcase 7 (<tspan font-style="italic">ξ</tspan><tspan dy="5.5" font-size="21">2</tspan><tspan dy="-5.5" font-size="1"> </tspan> &gt; 0, <tspan font-style="italic">α</tspan><tspan dy="5.5" font-size="21">2</tspan><tspan dy="-5.5" font-size="1"> </tspan> &lt; 0, <tspan font-style="italic">α</tspan> &gt; 0).</text>
<text x="50.7" y="1757.9" font-family="'Liberation Serif',serif" font-size="29.5" fill="#000" word-spacing="3" textLength="709.5" lengthAdjust="spacingAndGlyphs" xml:space="preserve">All ECs are found to be satisfied for every <tspan font-style="italic">r</tspan> &gt; 6.</text>
<g stroke="#000" stroke-width="2" fill="none">
<rect x="972.6" y="899.8" width="656.4" height="549.7"/>
<path d="M1067.0 1449.5v11M1178.3 1449.5v11M1289.6 1449.5v11M1400.9 1449.5v11M1512.2 1449.5v11M1623.5 1449.5v11M1000.2 1449.5v6.5M1022.5 1449.5v6.5M1044.7 1449.5v6.5M1089.3 1449.5v6.5M1111.5 1449.5v6.5M1133.8 1449.5v6.5M1156.0 1449.5v6.5M1200.6 1449.5v6.5M1222.8 1449.5v6.5M1245.1 1449.5v6.5M1267.3 1449.5v6.5M1311.9 1449.5v6.5M1334.1 1449.5v6.5M1356.4 1449.5v6.5M1378.6 1449.5v6.5M1423.2 1449.5v6.5M1445.4 1449.5v6.5M1467.7 1449.5v6.5M1489.9 1449.5v6.5M1534.5 1449.5v6.5M1556.7 1449.5v6.5M1579.0 1449.5v6.5M1601.2 1449.5v6.5M972.6 1440.6h-10.5M972.6 1356.6h-10.5M972.6 1272.6h-10.5M972.6 1188.6h-10.5M972.6 1104.6h-10.5M972.6 1020.6h-10.5M972.6 936.6h-10.5M972.6 1398.6h-6M972.6 1314.6h-6M972.6 1230.6h-6M972.6 1146.6h-6M972.6 1062.6h-6M972.6 978.6h-6"/>
</g>
<g font-family="'Liberation Serif',serif" font-size="23.5" fill="#000">
<g text-anchor="middle">
<text x="1067.0" y="1484.8">0.5</text>
<text x="1178.3" y="1484.8">1</text>
<text x="1289.6" y="1484.8">1.5</text>
<text x="1400.9" y="1484.8">2</text>
<text x="1512.2" y="1484.8">2.5</text>
<text x="1623.5" y="1484.8">3</text>
</g><g text-anchor="end">
<text x="955.6" y="1448.5">−2</text>
<text x="955.6" y="1364.5">0</text>
<text x="955.6" y="1280.5">2</text>
<text x="955.6" y="1196.5">4</text>
<text x="955.6" y="1112.5">6</text>
<text x="955.6" y="1028.5">8</text>
<text x="955.6" y="944.5">10</text>
</g>
<text x="1299.6" y="1508.0" font-style="italic" font-size="23.5" text-anchor="middle">r</text>
</g>
<g color="#c8353a">
<use href="#sq" x="978.0" y="1356.6"/><use href="#sq" x="979.5" y="1356.6"/><use href="#sq" x="981.0" y="1356.6"/><use href="#sq" x="982.5" y="1356.6"/><use href="#sq" x="984.0" y="1356.6"/><use href="#sq" x="985.5" y="1356.6"/><use href="#sq" x="987.1" y="1356.6"/><use href="#sq" x="988.6" y="1356.6"/><use href="#sq" x="990.1" y="1354.8"/><use href="#sq" x="991.9" y="1347.7"/><use href="#sq" x="993.8" y="1338.6"/><use href="#sq" x="995.6" y="1331.0"/><use href="#sq" x="997.5" y="1322.1"/><use href="#sq" x="999.3" y="1313.8"/><use href="#sq" x="1001.2" y="1305.6"/><use href="#sq" x="1003.0" y="1294.5"/><use href="#sq" x="1004.8" y="1284.1"/><use href="#sq" x="1006.5" y="1275.3"/><use href="#sq" x="1008.1" y="1264.0"/><use href="#sq" x="1009.7" y="1253.6"/><use href="#sq" x="1011.4" y="1241.1"/><use href="#sq" x="1013.0" y="1232.6"/><use href="#sq" x="1014.6" y="1225.1"/><use href="#sq" x="1016.3" y="1218.6"/><use href="#sq" x="1017.9" y="1214.4"/><use href="#sq" x="1019.6" y="1211.4"/><use href="#sq" x="1021.4" y="1209.1"/><use href="#sq" x="1023.1" y="1207.3"/><use href="#sq" x="1024.0" y="1206.4"/><use href="#sq" x="1024.9" y="1205.6"/><use href="#sq" x="1025.7" y="1204.8"/><use href="#sq" x="1026.6" y="1204.0"/><use href="#sq" x="1027.5" y="1203.5"/><use href="#sq" x="1028.3" y="1203.1"/><use href="#sq" x="1029.2" y="1202.9"/><use href="#sq" x="1030.1" y="1203.0"/><use href="#sq" x="1030.9" y="1203.2"/><use href="#sq" x="1031.8" y="1203.6"/><use href="#sq" x="1032.5" y="1204.0"/><use href="#sq" x="1033.2" y="1204.4"/><use href="#sq" x="1034.0" y="1204.8"/><use href="#sq" x="1034.7" y="1205.2"/><use href="#sq" x="1035.4" y="1205.7"/><use href="#sq" x="1037.5" y="1207.6"/><use href="#sq" x="1043.2" y="1214.3"/><use href="#sq" x="1049.8" y="1223.7"/><use href="#sq" x="1056.4" y="1235.1"/><use href="#sq" x="1063.6" y="1246.6"/><use href="#sq" x="1070.8" y="1257.6"/><use href="#sq" x="1077.3" y="1266.3"/><use href="#sq" x="1083.8" y="1273.0"/><use href="#sq" x="1089.9" y="1280.2"/><use href="#sq" x="1096.0" y="1286.6"/><use href="#sq" x="1110.2" y="1300.0"/><use href="#sq" x="1122.6" y="1309.1"/><use href="#sq" x="1136.8" y="1317.3"/><use href="#sq" x="1148.2" y="1322.2"/><use href="#sq" x="1161.7" y="1327.1"/><use href="#sq" x="1176.6" y="1331.0"/><use href="#sq" x="1188.4" y="1333.8"/><use href="#sq" x="1201.3" y="1336.6"/><use href="#sq" x="1215.9" y="1338.8"/><use href="#sq" x="1228.6" y="1340.4"/><use href="#sq" x="1240.5" y="1342.0"/><use href="#sq" x="1254.8" y="1343.6"/><use href="#sq" x="1268.2" y="1345.0"/><use href="#sq" x="1280.1" y="1346.0"/><use href="#sq" x="1294.5" y="1347.0"/><use href="#sq" x="1306.3" y="1347.7"/><use href="#sq" x="1320.1" y="1348.6"/><use href="#sq" x="1332.6" y="1349.3"/><use href="#sq" x="1346.1" y="1350.0"/><use href="#sq" x="1361.3" y="1350.7"/><use href="#sq" x="1372.9" y="1351.2"/><use href="#sq" x="1387.7" y="1351.7"/><use href="#sq" x="1399.4" y="1352.1"/><use href="#sq" x="1413.0" y="1352.4"/><use href="#sq" x="1426.9" y="1352.8"/><use href="#sq" x="1439.6" y="1353.1"/><use href="#sq" x="1451.2" y="1353.3"/><use href="#sq" x="1465.6" y="1353.6"/><use href="#sq" x="1478.9" y="1353.8"/><use href="#sq" x="1490.9" y="1354.0"/><use href="#sq" x="1503.9" y="1354.2"/><use href="#sq" x="1519.1" y="1354.4"/><use href="#sq" x="1531.3" y="1354.5"/><use href="#sq" x="1543.6" y="1354.7"/><use href="#sq" x="1557.5" y="1354.8"/><use href="#sq" x="1570.1" y="1355.0"/><use href="#sq" x="1584.8" y="1355.1"/><use href="#sq" x="1597.2" y="1355.2"/><use href="#sq" x="1609.3" y="1355.3"/><use href="#sq" x="1623.5" y="1355.3"/>
</g>
<g color="#ff0000">
<use href="#pl" x="978.0" y="1356.6"/><use href="#pl" x="979.5" y="1356.6"/><use href="#pl" x="981.0" y="1356.7"/><use href="#pl" x="982.5" y="1356.9"/><use href="#pl" x="984.0" y="1357.1"/><use href="#pl" x="985.5" y="1357.4"/><use href="#pl" x="987.1" y="1357.7"/><use href="#pl" x="988.6" y="1358.4"/><use href="#pl" x="990.1" y="1359.3"/><use href="#pl" x="991.9" y="1360.4"/><use href="#pl" x="993.8" y="1361.5"/><use href="#pl" x="995.6" y="1362.9"/><use href="#pl" x="997.5" y="1364.3"/><use href="#pl" x="999.3" y="1365.3"/><use href="#pl" x="1001.2" y="1365.3"/><use href="#pl" x="1003.0" y="1364.2"/><use href="#pl" x="1004.8" y="1362.5"/><use href="#pl" x="1006.5" y="1360.3"/><use href="#pl" x="1008.1" y="1355.7"/><use href="#pl" x="1009.7" y="1350.3"/><use href="#pl" x="1011.4" y="1344.2"/><use href="#pl" x="1013.0" y="1337.4"/><use href="#pl" x="1014.6" y="1330.2"/><use href="#pl" x="1016.3" y="1322.4"/><use href="#pl" x="1017.9" y="1315.1"/><use href="#pl" x="1019.6" y="1307.9"/><use href="#pl" x="1021.4" y="1301.4"/><use href="#pl" x="1023.1" y="1296.0"/><use href="#pl" x="1024.9" y="1291.5"/><use href="#pl" x="1026.6" y="1287.6"/><use href="#pl" x="1028.3" y="1284.3"/><use href="#pl" x="1030.1" y="1281.5"/><use href="#pl" x="1031.8" y="1279.1"/><use href="#pl" x="1033.2" y="1277.3"/><use href="#pl" x="1034.7" y="1275.5"/><use href="#pl" x="1036.1" y="1273.7"/><use href="#pl" x="1037.5" y="1272.1"/><use href="#pl" x="1038.9" y="1270.7"/><use href="#pl" x="1040.4" y="1269.4"/><use href="#pl" x="1041.8" y="1268.1"/><use href="#pl" x="1043.2" y="1267.1"/><use href="#pl" x="1044.9" y="1266.2"/><use href="#pl" x="1046.5" y="1265.6"/><use href="#pl" x="1047.3" y="1265.3"/><use href="#pl" x="1048.2" y="1265.1"/><use href="#pl" x="1049.0" y="1264.8"/><use href="#pl" x="1049.8" y="1264.6"/><use href="#pl" x="1050.6" y="1264.5"/><use href="#pl" x="1051.4" y="1264.3"/><use href="#pl" x="1052.3" y="1264.2"/><use href="#pl" x="1053.1" y="1264.2"/><use href="#pl" x="1053.9" y="1264.2"/><use href="#pl" x="1054.7" y="1264.3"/><use href="#pl" x="1055.5" y="1264.4"/><use href="#pl" x="1056.4" y="1264.6"/><use href="#pl" x="1057.3" y="1264.8"/><use href="#pl" x="1058.2" y="1265.1"/><use href="#pl" x="1059.1" y="1265.4"/><use href="#pl" x="1060.0" y="1265.7"/><use href="#pl" x="1061.8" y="1266.4"/><use href="#pl" x="1063.6" y="1267.2"/><use href="#pl" x="1065.4" y="1268.1"/><use href="#pl" x="1067.2" y="1269.2"/><use href="#pl" x="1069.0" y="1270.4"/><use href="#pl" x="1070.8" y="1271.7"/><use href="#pl" x="1072.4" y="1272.9"/><use href="#pl" x="1074.0" y="1274.2"/><use href="#pl" x="1075.7" y="1275.6"/><use href="#pl" x="1077.3" y="1276.9"/><use href="#pl" x="1078.9" y="1278.2"/><use href="#pl" x="1080.5" y="1279.4"/><use href="#pl" x="1082.1" y="1280.6"/><use href="#pl" x="1083.8" y="1281.6"/><use href="#pl" x="1085.3" y="1282.6"/><use href="#pl" x="1086.8" y="1283.6"/><use href="#pl" x="1088.4" y="1284.5"/><use href="#pl" x="1089.9" y="1285.5"/><use href="#pl" x="1091.4" y="1286.4"/><use href="#pl" x="1093.0" y="1287.4"/><use href="#pl" x="1094.5" y="1288.3"/><use href="#pl" x="1096.0" y="1289.2"/><use href="#pl" x="1097.8" y="1290.3"/><use href="#pl" x="1110.2" y="1297.6"/><use href="#pl" x="1122.6" y="1306.1"/><use href="#pl" x="1136.8" y="1314.4"/><use href="#pl" x="1148.2" y="1319.3"/><use href="#pl" x="1161.7" y="1324.3"/><use href="#pl" x="1176.6" y="1327.7"/><use href="#pl" x="1188.4" y="1330.6"/><use href="#pl" x="1201.3" y="1333.7"/><use href="#pl" x="1215.9" y="1336.2"/><use href="#pl" x="1228.6" y="1338.2"/><use href="#pl" x="1240.5" y="1339.8"/><use href="#pl" x="1254.8" y="1341.6"/><use href="#pl" x="1268.2" y="1343.5"/><use href="#pl" x="1280.1" y="1344.8"/><use href="#pl" x="1294.5" y="1346.0"/><use href="#pl" x="1306.3" y="1346.8"/><use href="#pl" x="1320.1" y="1347.7"/><use href="#pl" x="1332.6" y="1348.4"/><use href="#pl" x="1346.1" y="1349.1"/><use href="#pl" x="1361.3" y="1349.7"/><use href="#pl" x="1372.9" y="1350.2"/><use href="#pl" x="1387.7" y="1350.7"/><use href="#pl" x="1399.4" y="1351.1"/><use href="#pl" x="1413.0" y="1351.5"/><use href="#pl" x="1426.9" y="1351.9"/><use href="#pl" x="1439.6" y="1352.2"/><use href="#pl" x="1451.2" y="1352.5"/><use href="#pl" x="1465.6" y="1352.8"/><use href="#pl" x="1478.9" y="1353.1"/><use href="#pl" x="1490.9" y="1353.3"/><use href="#pl" x="1503.9" y="1353.5"/><use href="#pl" x="1519.1" y="1353.8"/><use href="#pl" x="1531.3" y="1353.9"/><use href="#pl" x="1543.6" y="1354.1"/><use href="#pl" x="1557.5" y="1354.3"/><use href="#pl" x="1570.1" y="1354.4"/><use href="#pl" x="1584.8" y="1354.6"/><use href="#pl" x="1597.2" y="1354.7"/><use href="#pl" x="1609.3" y="1354.8"/><use href="#pl" x="1623.5" y="1354.9"/>
</g>
<g color="#000">
<use href="#asb" x="978.0" y="1356.6"/><use href="#asb" x="979.5" y="1356.6"/><use href="#asb" x="981.0" y="1356.6"/><use href="#asb" x="982.5" y="1356.6"/><use href="#asb" x="984.0" y="1356.6"/><use href="#asb" x="985.5" y="1356.6"/><use href="#asb" x="987.1" y="1356.6"/><use href="#asb" x="988.6" y="1355.6"/><use href="#asb" x="990.1" y="1353.1"/><use href="#asb" x="991.9" y="1345.5"/><use href="#asb" x="993.8" y="1323.9"/><use href="#asb" x="995.6" y="1298.9"/><use href="#asb" x="997.5" y="1272.8"/><use href="#asb" x="999.3" y="1241.6"/><use href="#asb" x="1001.2" y="1211.7"/><use href="#asb" x="1003.0" y="1181.6"/><use href="#asb" x="1004.8" y="1147.0"/><use href="#asb" x="1006.5" y="1119.6"/><use href="#asb" x="1008.1" y="1098.7"/><use href="#asb" x="1009.7" y="1076.9"/><use href="#asb" x="1011.4" y="1056.6"/><use href="#asb" x="1013.0" y="1042.1"/><use href="#asb" x="1014.6" y="1030.3"/><use href="#asb" x="1016.3" y="1022.7"/><use href="#asb" x="1017.9" y="1016.8"/><use href="#asb" x="1019.2" y="1012.9"/><use href="#asb" x="1019.6" y="1011.9"/><use href="#asb" x="1020.1" y="1011.1"/><use href="#asb" x="1020.5" y="1010.4"/><use href="#asb" x="1020.9" y="1010.0"/><use href="#asb" x="1021.4" y="1009.7"/><use href="#asb" x="1021.8" y="1009.7"/><use href="#asb" x="1022.2" y="1009.9"/><use href="#asb" x="1022.7" y="1010.3"/><use href="#asb" x="1023.1" y="1010.8"/><use href="#asb" x="1023.5" y="1011.5"/><use href="#asb" x="1024.9" y="1014.1"/><use href="#asb" x="1028.3" y="1025.5"/><use href="#asb" x="1031.8" y="1041.3"/><use href="#asb" x="1034.7" y="1054.7"/><use href="#asb" x="1037.5" y="1069.7"/><use href="#asb" x="1040.4" y="1087.8"/><use href="#asb" x="1043.2" y="1105.3"/><use href="#asb" x="1046.5" y="1122.7"/><use href="#asb" x="1049.8" y="1140.3"/><use href="#asb" x="1056.4" y="1172.6"/><use href="#asb" x="1063.6" y="1203.2"/><use href="#asb" x="1070.8" y="1229.0"/><use href="#asb" x="1077.3" y="1248.3"/><use href="#asb" x="1083.8" y="1263.8"/><use href="#asb" x="1096.0" y="1288.2"/><use href="#asb" x="1110.2" y="1307.7"/><use href="#asb" x="1122.6" y="1318.9"/><use href="#asb" x="1136.8" y="1328.0"/><use href="#asb" x="1148.2" y="1333.8"/><use href="#asb" x="1161.7" y="1338.9"/><use href="#asb" x="1176.6" y="1343.2"/><use href="#asb" x="1188.4" y="1345.5"/><use href="#asb" x="1201.3" y="1347.5"/><use href="#asb" x="1215.9" y="1349.4"/><use href="#asb" x="1228.6" y="1350.7"/><use href="#asb" x="1240.5" y="1351.9"/><use href="#asb" x="1254.8" y="1352.8"/><use href="#asb" x="1268.2" y="1353.4"/><use href="#asb" x="1280.1" y="1353.8"/><use href="#asb" x="1294.5" y="1354.3"/><use href="#asb" x="1306.3" y="1354.6"/><use href="#asb" x="1320.1" y="1354.9"/><use href="#asb" x="1332.6" y="1355.2"/><use href="#asb" x="1346.1" y="1355.5"/><use href="#asb" x="1361.3" y="1355.7"/><use href="#asb" x="1372.9" y="1355.9"/><use href="#asb" x="1387.7" y="1356.0"/><use href="#asb" x="1399.4" y="1356.1"/><use href="#asb" x="1413.0" y="1356.1"/><use href="#asb" x="1426.9" y="1356.2"/><use href="#asb" x="1439.6" y="1356.3"/><use href="#asb" x="1451.2" y="1356.3"/><use href="#asb" x="1465.6" y="1356.3"/><use href="#asb" x="1478.9" y="1356.4"/><use href="#asb" x="1490.9" y="1356.4"/><use href="#asb" x="1503.9" y="1356.4"/><use href="#asb" x="1519.1" y="1356.5"/><use href="#asb" x="1531.3" y="1356.5"/><use href="#asb" x="1543.6" y="1356.5"/><use href="#asb" x="1557.5" y="1356.6"/><use href="#asb" x="1570.1" y="1356.6"/><use href="#asb" x="1584.8" y="1356.6"/><use href="#asb" x="1597.2" y="1356.6"/><use href="#asb" x="1609.3" y="1356.6"/><use href="#asb" x="1623.5" y="1356.6"/>
</g>
<g color="#ff00ff">
<use href="#di" x="978.0" y="1356.6"/><use href="#di" x="979.5" y="1356.6"/><use href="#di" x="981.0" y="1356.6"/><use href="#di" x="982.5" y="1356.6"/><use href="#di" x="984.0" y="1356.6"/><use href="#di" x="985.5" y="1356.6"/><use href="#di" x="987.1" y="1356.6"/><use href="#di" x="988.6" y="1355.5"/><use href="#di" x="990.1" y="1353.1"/><use href="#di" x="991.9" y="1347.5"/><use href="#di" x="993.8" y="1329.6"/><use href="#di" x="995.6" y="1304.5"/><use href="#di" x="997.5" y="1266.2"/><use href="#di" x="999.3" y="1217.0"/><use href="#di" x="1001.2" y="1167.6"/><use href="#di" x="1003.0" y="1121.7"/><use href="#di" x="1004.8" y="1083.2"/><use href="#di" x="1006.5" y="1045.1"/><use href="#di" x="1008.1" y="1012.8"/><use href="#di" x="1009.7" y="984.0"/><use href="#di" x="1011.4" y="959.4"/><use href="#di" x="1013.0" y="941.6"/><use href="#di" x="1014.6" y="927.0"/><use href="#di" x="1016.3" y="917.8"/><use href="#di" x="1017.9" y="911.1"/><use href="#di" x="1018.3" y="909.6"/><use href="#di" x="1018.8" y="908.4"/><use href="#di" x="1019.2" y="907.4"/><use href="#di" x="1019.6" y="906.7"/><use href="#di" x="1020.1" y="906.4"/><use href="#di" x="1020.5" y="906.4"/><use href="#di" x="1020.9" y="906.7"/><use href="#di" x="1021.4" y="907.2"/><use href="#di" x="1021.8" y="908.0"/><use href="#di" x="1022.2" y="908.9"/><use href="#di" x="1024.9" y="916.4"/><use href="#di" x="1028.3" y="933.9"/><use href="#di" x="1031.8" y="956.8"/><use href="#di" x="1034.7" y="978.2"/><use href="#di" x="1037.5" y="1000.5"/><use href="#di" x="1040.4" y="1024.0"/><use href="#di" x="1043.2" y="1047.4"/><use href="#di" x="1046.5" y="1072.2"/><use href="#di" x="1049.8" y="1096.8"/><use href="#di" x="1053.1" y="1117.1"/><use href="#di" x="1056.4" y="1138.2"/><use href="#di" x="1060.0" y="1160.1"/><use href="#di" x="1063.6" y="1179.5"/><use href="#di" x="1070.8" y="1212.4"/><use href="#di" x="1077.3" y="1238.2"/><use href="#di" x="1083.8" y="1258.4"/><use href="#di" x="1089.9" y="1272.7"/><use href="#di" x="1096.0" y="1286.3"/><use href="#di" x="1110.2" y="1312.6"/><use href="#di" x="1122.6" y="1324.7"/><use href="#di" x="1136.8" y="1334.4"/><use href="#di" x="1148.2" y="1340.1"/><use href="#di" x="1161.7" y="1345.0"/><use href="#di" x="1176.6" y="1348.7"/><use href="#di" x="1188.4" y="1350.9"/><use href="#di" x="1201.3" y="1353.0"/><use href="#di" x="1215.9" y="1354.6"/><use href="#di" x="1228.6" y="1355.4"/><use href="#di" x="1240.5" y="1356.2"/><use href="#di" x="1254.8" y="1356.7"/><use href="#di" x="1268.2" y="1356.9"/><use href="#di" x="1280.1" y="1357.1"/><use href="#di" x="1294.5" y="1357.2"/><use href="#di" x="1306.3" y="1357.4"/><use href="#di" x="1320.1" y="1357.5"/><use href="#di" x="1332.6" y="1357.6"/><use href="#di" x="1346.1" y="1357.7"/><use href="#di" x="1361.3" y="1357.8"/><use href="#di" x="1372.9" y="1357.8"/><use href="#di" x="1387.7" y="1357.8"/><use href="#di" x="1399.4" y="1357.9"/><use href="#di" x="1413.0" y="1357.9"/><use href="#di" x="1426.9" y="1357.9"/><use href="#di" x="1439.6" y="1357.9"/><use href="#di" x="1451.2" y="1357.9"/><use href="#di" x="1465.6" y="1357.8"/><use href="#di" x="1478.9" y="1357.8"/><use href="#di" x="1490.9" y="1357.8"/><use href="#di" x="1503.9" y="1357.8"/><use href="#di" x="1519.1" y="1357.8"/><use href="#di" x="1531.3" y="1357.8"/><use href="#di" x="1543.6" y="1357.7"/><use href="#di" x="1557.5" y="1357.7"/><use href="#di" x="1570.1" y="1357.7"/><use href="#di" x="1584.8" y="1357.6"/><use href="#di" x="1597.2" y="1357.6"/><use href="#di" x="1609.3" y="1357.5"/><use href="#di" x="1623.5" y="1357.4"/>
</g>
<polyline points="978.0,1356.6 980.1,1356.7 982.3,1356.9 984.4,1357.2 986.6,1357.6 988.7,1358.5 990.9,1359.7 993.0,1361.1 995.2,1362.5 997.3,1364.2 999.5,1365.3 1001.6,1365.1 1003.8,1363.6 1005.9,1361.2 1008.1,1355.8 1010.2,1348.5 1012.4,1340.0 1014.5,1330.6 1016.7,1320.3 1018.8,1311.1 1021.0,1302.7 1023.1,1295.9 1025.3,1290.4 1027.5,1285.9 1029.6,1282.2 1031.8,1279.2 1033.9,1276.4 1036.1,1273.8 1038.2,1271.4 1040.4,1269.4 1042.5,1267.6 1044.7,1266.3 1046.8,1265.5 1049.0,1264.8 1051.1,1264.4 1053.3,1264.2 1055.4,1264.4 1057.6,1264.9 1059.7,1265.7 1061.9,1266.5 1064.0,1267.4 1066.2,1268.6 1068.3,1270.0 1070.5,1271.4 1072.6,1273.0 1074.8,1274.8 1076.9,1276.6 1079.1,1278.3 1081.2,1280.0 1083.4,1281.5 1085.5,1283.1 1087.7,1284.6 1089.9,1286.1 1092.0,1287.7 1094.2,1289.2 1096.3,1290.8 1098.5,1292.4 1100.6,1294.1 1102.8,1296.0 1104.9,1298.2 1107.1,1300.5 1109.2,1302.8 1111.4,1305.0 1113.5,1307.0 1115.7,1308.9 1117.8,1310.8 1120.0,1312.6 1122.1,1314.4 1124.3,1316.1 1126.4,1317.8 1128.6,1319.3 1130.7,1320.8 1132.9,1322.1 1135.0,1323.3 1137.2,1324.4 1139.3,1325.5 1141.5,1326.5 1143.6,1327.4 1145.8,1328.3 1148.0,1329.2 1150.1,1330.0 1152.3,1330.8 1154.4,1331.6 1156.6,1332.4 1158.7,1333.2 1160.9,1334.0 1163.0,1334.8 1165.2,1335.5 1167.3,1336.2 1169.5,1336.9 1171.6,1337.6 1173.8,1338.2 1175.9,1338.7 1178.1,1339.2 1180.2,1339.6 1182.4,1340.0 1184.5,1340.4 1186.7,1340.7 1188.8,1341.1 1191.0,1341.4 1193.1,1341.8 1195.3,1342.1 1197.4,1342.4 1199.6,1342.6 1201.7,1342.9 1203.9,1343.2 1206.1,1343.4 1208.2,1343.7 1210.4,1343.9 1212.5,1344.2 1214.7,1344.4 1216.8,1344.6 1219.0,1344.9 1221.1,1345.1 1223.3,1345.3 1225.4,1345.5 1227.6,1345.7 1229.7,1345.9 1231.9,1346.2 1234.0,1346.4 1236.2,1346.6 1238.3,1346.8 1240.5,1347.0 1242.6,1347.2 1244.8,1347.3 1246.9,1347.5 1249.1,1347.7 1251.2,1347.9 1253.4,1348.0 1255.5,1348.2 1257.7,1348.4 1259.8,1348.5 1262.0,1348.7 1264.1,1348.8 1266.3,1349.0 1268.5,1349.1 1270.6,1349.2 1272.8,1349.4 1274.9,1349.5 1277.1,1349.6 1279.2,1349.7 1281.4,1349.8 1283.5,1349.9 1285.7,1350.0 1287.8,1350.1 1290.0,1350.3 1292.1,1350.4 1294.3,1350.5 1296.4,1350.6 1298.6,1350.7 1300.7,1350.8 1302.9,1350.9 1305.0,1351.0 1307.2,1351.1 1309.3,1351.2 1311.5,1351.3 1313.6,1351.4 1315.8,1351.5 1317.9,1351.5 1320.1,1351.6 1322.2,1351.7 1324.4,1351.8 1326.6,1351.9 1328.7,1352.0 1330.9,1352.1 1333.0,1352.2 1335.2,1352.2 1337.3,1352.3 1339.5,1352.4 1341.6,1352.5 1343.8,1352.6 1345.9,1352.6 1348.1,1352.7 1350.2,1352.8 1352.4,1352.9 1354.5,1352.9 1356.7,1353.0 1358.8,1353.1 1361.0,1353.1 1363.1,1353.2 1365.3,1353.3 1367.4,1353.3 1369.6,1353.4 1371.7,1353.4 1373.9,1353.5 1376.0,1353.5 1378.2,1353.6 1380.3,1353.7 1382.5,1353.7 1384.7,1353.8 1386.8,1353.8 1389.0,1353.9 1391.1,1353.9 1393.3,1353.9 1395.4,1354.0 1397.6,1354.0 1399.7,1354.1 1401.9,1354.1 1404.0,1354.1 1406.2,1354.2 1408.3,1354.2 1410.5,1354.2 1412.6,1354.3 1414.8,1354.3 1416.9,1354.3 1419.1,1354.4 1421.2,1354.4 1423.4,1354.4 1425.5,1354.5 1427.7,1354.5 1429.8,1354.5 1432.0,1354.5 1434.1,1354.6 1436.3,1354.6 1438.4,1354.6 1440.6,1354.7 1442.7,1354.7 1444.9,1354.7 1447.1,1354.7 1449.2,1354.8 1451.4,1354.8 1453.5,1354.8 1455.7,1354.8 1457.8,1354.9 1460.0,1354.9 1462.1,1354.9 1464.3,1354.9 1466.4,1354.9 1468.6,1355.0 1470.7,1355.0 1472.9,1355.0 1475.0,1355.0 1477.2,1355.0 1479.3,1355.1 1481.5,1355.1 1483.6,1355.1 1485.8,1355.1 1487.9,1355.1 1490.1,1355.2 1492.2,1355.2 1494.4,1355.2 1496.5,1355.2 1498.7,1355.2 1500.8,1355.3 1503.0,1355.3 1505.2,1355.3 1507.3,1355.3 1509.5,1355.3 1511.6,1355.3 1513.8,1355.4 1515.9,1355.4 1518.1,1355.4 1520.2,1355.4 1522.4,1355.4 1524.5,1355.4 1526.7,1355.4 1528.8,1355.5 1531.0,1355.5 1533.1,1355.5 1535.3,1355.5 1537.4,1355.5 1539.6,1355.5 1541.7,1355.6 1543.9,1355.6 1546.0,1355.6 1548.2,1355.6 1550.3,1355.6 1552.5,1355.6 1554.6,1355.6 1556.8,1355.7 1558.9,1355.7 1561.1,1355.7 1563.2,1355.7 1565.4,1355.7 1567.6,1355.7 1569.7,1355.7 1571.9,1355.7 1574.0,1355.8 1576.2,1355.8 1578.3,1355.8 1580.5,1355.8 1582.6,1355.8 1584.8,1355.8 1586.9,1355.8 1589.1,1355.8 1591.2,1355.8 1593.4,1355.9 1595.5,1355.9 1597.7,1355.9 1599.8,1355.9 1602.0,1355.9 1604.1,1355.9 1606.3,1355.9 1608.4,1355.9 1610.6,1355.9 1612.7,1355.9 1614.9,1355.9 1617.0,1356.0 1619.2,1356.0 1621.3,1356.0 1623.5,1356.0" fill="none" stroke="#ffff00" stroke-width="2.2" stroke-linejoin="round"/>
<g color="#00ff00">
<use href="#ci" x="978.0" y="1356.6"/><use href="#ci" x="978.3" y="1356.6"/><use href="#ci" x="978.7" y="1356.6"/><use href="#ci" x="979.1" y="1356.6"/><use href="#ci" x="979.5" y="1356.6"/><use href="#ci" x="979.9" y="1356.6"/><use href="#ci" x="980.2" y="1356.6"/><use href="#ci" x="980.6" y="1356.6"/><use href="#ci" x="981.0" y="1356.6"/><use href="#ci" x="981.4" y="1356.6"/><use href="#ci" x="981.8" y="1356.6"/><use href="#ci" x="982.1" y="1356.6"/><use href="#ci" x="982.5" y="1356.6"/><use href="#ci" x="982.9" y="1356.6"/><use href="#ci" x="983.3" y="1356.6"/><use href="#ci" x="983.6" y="1356.6"/><use href="#ci" x="984.0" y="1356.6"/><use href="#ci" x="984.4" y="1356.6"/><use href="#ci" x="984.8" y="1356.6"/><use href="#ci" x="985.2" y="1356.7"/><use href="#ci" x="985.5" y="1356.8"/><use href="#ci" x="985.9" y="1357.1"/><use href="#ci" x="986.3" y="1357.4"/><use href="#ci" x="986.7" y="1357.7"/><use href="#ci" x="987.1" y="1358.2"/><use href="#ci" x="988.6" y="1360.2"/><use href="#ci" x="990.1" y="1365.2"/><use href="#ci" x="991.9" y="1372.6"/><use href="#ci" x="993.8" y="1380.7"/><use href="#ci" x="995.6" y="1390.0"/><use href="#ci" x="997.5" y="1399.9"/><use href="#ci" x="999.3" y="1410.3"/><use href="#ci" x="1001.2" y="1420.3"/><use href="#ci" x="1003.0" y="1429.4"/><use href="#ci" x="1004.8" y="1436.1"/><use href="#ci" x="1006.5" y="1441.0"/><use href="#ci" x="1008.1" y="1444.0"/><use href="#ci" x="1009.7" y="1444.7"/><use href="#ci" x="1011.4" y="1443.5"/><use href="#ci" x="1013.0" y="1441.3"/><use href="#ci" x="1014.6" y="1436.3"/><use href="#ci" x="1016.3" y="1430.0"/><use href="#ci" x="1017.9" y="1423.1"/><use href="#ci" x="1019.6" y="1414.7"/><use href="#ci" x="1021.4" y="1406.4"/><use href="#ci" x="1023.1" y="1398.2"/><use href="#ci" x="1024.9" y="1389.0"/><use href="#ci" x="1026.6" y="1379.6"/><use href="#ci" x="1028.3" y="1371.9"/><use href="#ci" x="1030.1" y="1364.5"/><use href="#ci" x="1031.8" y="1357.6"/><use href="#ci" x="1034.7" y="1348.2"/><use href="#ci" x="1037.5" y="1335.7"/><use href="#ci" x="1040.4" y="1326.7"/><use href="#ci" x="1043.2" y="1319.2"/><use href="#ci" x="1049.8" y="1304.1"/><use href="#ci" x="1056.4" y="1294.4"/><use href="#ci" x="1063.6" y="1287.8"/><use href="#ci" x="1067.2" y="1286.1"/><use href="#ci" x="1068.1" y="1285.8"/><use href="#ci" x="1069.0" y="1285.5"/><use href="#ci" x="1069.9" y="1285.2"/><use href="#ci" x="1070.8" y="1285.0"/><use href="#ci" x="1071.6" y="1284.8"/><use href="#ci" x="1072.4" y="1284.6"/><use href="#ci" x="1073.2" y="1284.5"/><use href="#ci" x="1074.0" y="1284.4"/><use href="#ci" x="1074.9" y="1284.4"/><use href="#ci" x="1075.7" y="1284.4"/><use href="#ci" x="1076.5" y="1284.4"/><use href="#ci" x="1077.3" y="1284.4"/><use href="#ci" x="1078.1" y="1284.4"/><use href="#ci" x="1078.9" y="1284.5"/><use href="#ci" x="1079.7" y="1284.5"/><use href="#ci" x="1080.5" y="1284.6"/><use href="#ci" x="1081.3" y="1284.7"/><use href="#ci" x="1082.1" y="1284.7"/><use href="#ci" x="1083.0" y="1284.8"/><use href="#ci" x="1083.8" y="1284.9"/><use href="#ci" x="1084.5" y="1285.0"/><use href="#ci" x="1085.3" y="1285.1"/><use href="#ci" x="1086.1" y="1285.2"/><use href="#ci" x="1086.8" y="1285.4"/><use href="#ci" x="1087.6" y="1285.5"/><use href="#ci" x="1088.4" y="1285.8"/><use href="#ci" x="1089.1" y="1286.0"/><use href="#ci" x="1089.9" y="1286.3"/><use href="#ci" x="1090.7" y="1286.6"/><use href="#ci" x="1091.4" y="1287.0"/><use href="#ci" x="1092.2" y="1287.3"/><use href="#ci" x="1093.0" y="1287.7"/><use href="#ci" x="1093.7" y="1288.1"/><use href="#ci" x="1094.5" y="1288.6"/><use href="#ci" x="1095.2" y="1289.2"/><use href="#ci" x="1096.0" y="1289.8"/><use href="#ci" x="1096.9" y="1290.6"/><use href="#ci" x="1097.8" y="1291.4"/><use href="#ci" x="1098.7" y="1292.4"/><use href="#ci" x="1099.6" y="1293.3"/><use href="#ci" x="1100.4" y="1294.4"/><use href="#ci" x="1101.3" y="1295.6"/><use href="#ci" x="1103.1" y="1298.2"/><use href="#ci" x="1110.2" y="1307.7"/><use href="#ci" x="1116.4" y="1313.8"/><use href="#ci" x="1122.6" y="1318.9"/><use href="#ci" x="1136.8" y="1328.0"/><use href="#ci" x="1148.2" y="1333.8"/><use href="#ci" x="1161.7" y="1338.9"/><use href="#ci" x="1176.6" y="1343.2"/><use href="#ci" x="1188.4" y="1345.5"/><use href="#ci" x="1201.3" y="1347.5"/><use href="#ci" x="1215.9" y="1349.4"/><use href="#ci" x="1228.6" y="1350.7"/><use href="#ci" x="1240.5" y="1351.9"/><use href="#ci" x="1254.8" y="1352.8"/><use href="#ci" x="1268.2" y="1353.4"/><use href="#ci" x="1280.1" y="1353.8"/><use href="#ci" x="1294.5" y="1354.3"/><use href="#ci" x="1306.3" y="1354.6"/><use href="#ci" x="1320.1" y="1354.9"/><use href="#ci" x="1332.6" y="1355.2"/><use href="#ci" x="1346.1" y="1355.5"/><use href="#ci" x="1361.3" y="1355.7"/><use href="#ci" x="1372.9" y="1355.9"/><use href="#ci" x="1387.7" y="1356.0"/><use href="#ci" x="1399.4" y="1356.1"/><use href="#ci" x="1413.0" y="1356.1"/><use href="#ci" x="1426.9" y="1356.2"/><use href="#ci" x="1439.6" y="1356.3"/><use href="#ci" x="1451.2" y="1356.3"/><use href="#ci" x="1465.6" y="1356.3"/><use href="#ci" x="1478.9" y="1356.4"/><use href="#ci" x="1490.9" y="1356.4"/><use href="#ci" x="1503.9" y="1356.4"/><use href="#ci" x="1519.1" y="1356.5"/><use href="#ci" x="1531.3" y="1356.5"/><use href="#ci" x="1543.6" y="1356.5"/><use href="#ci" x="1557.5" y="1356.6"/><use href="#ci" x="1570.1" y="1356.6"/><use href="#ci" x="1584.8" y="1356.6"/><use href="#ci" x="1597.2" y="1356.6"/><use href="#ci" x="1609.3" y="1356.6"/><use href="#ci" x="1623.5" y="1356.6"/>
</g>
<rect x="984.3" y="1512.0" width="566.1" height="94.0" fill="none" stroke="#000" stroke-width="2"/>
<use href="#sq" x="1023.2" y="1535.9" color="#c8353a"/>
<text x="1062.3" y="1544.7" font-family="'Liberation Serif',serif" font-size="27.5" fill="#000" stroke="#000" stroke-width="0.25"><tspan font-family="'Liberation Sans',sans-serif" font-size="27" stroke="#000" stroke-width="0.35">ρ</tspan></text>
<use href="#pl" x="1253.3" y="1535.9" color="#ff0000"/>
<text x="1293.4" y="1544.7" font-family="'Liberation Serif',serif" font-size="27.5" fill="#000" stroke="#000" stroke-width="0.25"><tspan font-family="'Liberation Sans',sans-serif" font-size="27" stroke="#000" stroke-width="0.35">ρ</tspan><tspan dx="6" font-size="30" dy="1.5">+</tspan><tspan dy="-1.5" font-size="1"> </tspan><tspan dx="6" font-style="italic">p</tspan><tspan dx="2.5" dy="10.5" font-style="italic" font-size="21">r</tspan><tspan dy="-10.5" font-size="1"> </tspan></text>
<use href="#asl" x="1423.4" y="1535.9" color="#000"/>
<text x="1463.5" y="1544.7" font-family="'Liberation Serif',serif" font-size="27.5" fill="#000" stroke="#000" stroke-width="0.25"><tspan font-family="'Liberation Sans',sans-serif" font-size="27" stroke="#000" stroke-width="0.35">ρ</tspan><tspan dx="6" font-size="30" dy="1.5">+</tspan><tspan dy="-1.5" font-size="1"> </tspan><tspan dx="6" font-style="italic">p</tspan><tspan dx="2.5" dy="10.5" font-style="italic" font-size="21">t</tspan><tspan dy="-10.5" font-size="1"> </tspan></text>
<use href="#di" x="1023.2" y="1580.0" color="#ff00ff"/>
<text x="1062.3" y="1589.0" font-family="'Liberation Serif',serif" font-size="27.5" fill="#000" stroke="#000" stroke-width="0.25"><tspan font-family="'Liberation Sans',sans-serif" font-size="27" stroke="#000" stroke-width="0.35">ρ</tspan><tspan dx="6" font-size="30" dy="1.5">+</tspan><tspan dy="-1.5" font-size="1"> </tspan><tspan dx="6" font-style="italic">p</tspan><tspan dx="2.5" dy="10.5" font-style="italic" font-size="21">r</tspan><tspan dy="-10.5" font-size="1"> </tspan><tspan dx="5" font-size="30" dy="1.5">+</tspan><tspan dy="-1.5" font-size="1"> </tspan><tspan dx="6" font-size="29">2</tspan><tspan dx="5" font-style="italic">p</tspan><tspan dx="2.5" dy="10.5" font-style="italic" font-size="21">t</tspan><tspan dy="-10.5" font-size="1"> </tspan></text>
<path d="M1220.3 1580.0H1283.8" stroke="#ffff00" stroke-width="2.2" fill="none"/>
<text x="1293.4" y="1589.0" font-family="'Liberation Serif',serif" font-size="27.5" fill="#000" stroke="#000" stroke-width="0.25"><tspan font-family="'Liberation Sans',sans-serif" font-size="27">.</tspan><tspan font-family="'Liberation Sans',sans-serif" font-size="27" stroke="#000" stroke-width="0.35">ρ</tspan><tspan dx="4.5" font-family="'Liberation Sans',sans-serif" font-size="27">-</tspan><tspan dx="7.5" font-size="29" dy="-1.5">|</tspan><tspan dy="1.5" font-size="1"> </tspan><tspan dx="-1" font-style="italic">p</tspan><tspan dx="2.5" dy="10.5" font-style="italic" font-size="21">r</tspan><tspan dy="-10.5" font-size="1"> </tspan><tspan dx="0.5" font-size="29" dy="-1.5">|</tspan><tspan dy="1.5" font-size="1"> </tspan></text>
<use href="#ci" x="1422.4" y="1580.0" color="#00ff00"/>
<text x="1463.5" y="1589.0" font-family="'Liberation Serif',serif" font-size="27.5" fill="#000" stroke="#000" stroke-width="0.25"><tspan font-family="'Liberation Sans',sans-serif" font-size="27" stroke="#000" stroke-width="0.35">ρ</tspan><tspan dx="4.5" font-family="'Liberation Sans',sans-serif" font-size="27">-</tspan><tspan dx="7.5" font-size="29" dy="-1.5">|</tspan><tspan dy="1.5" font-size="1"> </tspan><tspan dx="-1" font-style="italic">p</tspan><tspan dx="2.5" dy="10.5" font-style="italic" font-size="21">t</tspan><tspan dy="-10.5" font-size="1"> </tspan><tspan dx="0.5" font-size="29" dy="-1.5">|</tspan><tspan dy="1.5" font-size="1"> </tspan></text>
<text x="899.3" y="1677.6" font-family="'Liberation Serif',serif" font-size="29.5" fill="#000" word-spacing="3" textLength="748.2" lengthAdjust="spacingAndGlyphs" xml:space="preserve"><tspan font-weight="bold" font-size="33">(d)</tspan> This figure depicts the behavior of all EC terms</text>
<text x="899.3" y="1718.0" font-family="'Liberation Serif',serif" font-size="29.5" fill="#000" word-spacing="3" textLength="731.3" lengthAdjust="spacingAndGlyphs" xml:space="preserve">for Model-II in Subcase 8 (<tspan font-style="italic">ξ</tspan><tspan dy="5.5" font-size="21">2</tspan><tspan dy="-5.5" font-size="1"> </tspan> &gt; 0, <tspan font-style="italic">α</tspan><tspan dy="5.5" font-size="21">2</tspan><tspan dy="-5.5" font-size="1"> </tspan> &lt; 0, <tspan font-style="italic">α</tspan> &lt; 0).</text>
<text x="899.3" y="1757.9" font-family="'Liberation Serif',serif" font-size="29.5" fill="#000" word-spacing="3" textLength="733.4" lengthAdjust="spacingAndGlyphs" xml:space="preserve">All ECs are found to be satisfied for every <tspan font-style="italic">r</tspan> &gt; 0.5.</text>
<g stroke="#000" stroke-width="2" fill="none">
<rect x="90.7" y="1795.7" width="639.8" height="550.3"/>
<path d="M131.5 2346.0v11M250.1 2346.0v11M368.7 2346.0v11M487.3 2346.0v11M605.9 2346.0v11M724.5 2346.0v11M190.8 2346.0v6.5M309.4 2346.0v6.5M428.0 2346.0v6.5M546.6 2346.0v6.5M665.2 2346.0v6.5M90.7 2328.8h-10.5M90.7 2214.1h-10.5M90.7 2099.3h-10.5M90.7 1984.6h-10.5M90.7 1869.8h-10.5M90.7 2305.9h-6M90.7 2282.9h-6M90.7 2260.0h-6M90.7 2237.0h-6M90.7 2191.2h-6M90.7 2168.2h-6M90.7 2145.2h-6M90.7 2122.3h-6M90.7 2076.4h-6M90.7 2053.4h-6M90.7 2030.5h-6M90.7 2007.5h-6M90.7 1961.6h-6M90.7 1938.7h-6M90.7 1915.8h-6M90.7 1892.8h-6M90.7 1846.9h-6M90.7 1823.9h-6M90.7 1801.0h-6"/>
</g>
<g font-family="'Liberation Serif',serif" font-size="23.5" fill="#000">
<g text-anchor="middle">
<text x="131.5" y="2381.3">1</text>
<text x="250.1" y="2381.3">2</text>
<text x="368.7" y="2381.3">3</text>
<text x="487.3" y="2381.3">4</text>
<text x="605.9" y="2381.3">5</text>
<text x="724.5" y="2381.3">6</text>
</g><g text-anchor="end">
<text x="74.7" y="2336.8">−0.5</text>
<text x="74.7" y="2222.0">0</text>
<text x="74.7" y="2107.2">0.5</text>
<text x="74.7" y="1992.5">1</text>
<text x="74.7" y="1877.8">1.5</text>
</g>
<text x="410.4" y="2404.0" font-style="italic" font-size="23.5" text-anchor="middle">r</text>
</g>
<g color="#c8353a">
<use href="#sq" x="96.6" y="1804.8"/><use href="#sq" x="98.4" y="1831.7"/><use href="#sq" x="100.1" y="1854.2"/><use href="#sq" x="101.9" y="1871.6"/><use href="#sq" x="103.6" y="1888.7"/><use href="#sq" x="107.1" y="1924.3"/><use href="#sq" x="110.6" y="1951.8"/><use href="#sq" x="115.8" y="1986.0"/><use href="#sq" x="121.0" y="2015.6"/><use href="#sq" x="128.3" y="2047.2"/><use href="#sq" x="135.7" y="2072.4"/><use href="#sq" x="141.3" y="2088.4"/><use href="#sq" x="147.0" y="2101.5"/><use href="#sq" x="161.9" y="2129.3"/><use href="#sq" x="172.3" y="2143.4"/><use href="#sq" x="187.3" y="2157.5"/><use href="#sq" x="199.6" y="2167.0"/><use href="#sq" x="212.9" y="2175.1"/><use href="#sq" x="226.0" y="2180.2"/><use href="#sq" x="236.9" y="2184.6"/><use href="#sq" x="250.0" y="2188.7"/><use href="#sq" x="263.7" y="2192.1"/><use href="#sq" x="275.5" y="2194.1"/><use href="#sq" x="288.2" y="2196.5"/><use href="#sq" x="301.0" y="2198.6"/><use href="#sq" x="315.4" y="2200.6"/><use href="#sq" x="328.2" y="2201.6"/><use href="#sq" x="340.9" y="2203.0"/><use href="#sq" x="352.2" y="2203.9"/><use href="#sq" x="366.8" y="2205.0"/><use href="#sq" x="378.6" y="2205.6"/><use href="#sq" x="390.7" y="2206.4"/><use href="#sq" x="404.0" y="2207.1"/><use href="#sq" x="416.8" y="2207.7"/><use href="#sq" x="428.7" y="2208.1"/><use href="#sq" x="442.8" y="2208.5"/><use href="#sq" x="455.1" y="2208.8"/><use href="#sq" x="468.4" y="2209.1"/><use href="#sq" x="482.1" y="2209.4"/><use href="#sq" x="494.2" y="2209.7"/><use href="#sq" x="506.4" y="2209.9"/><use href="#sq" x="520.4" y="2210.1"/><use href="#sq" x="533.6" y="2210.4"/><use href="#sq" x="545.1" y="2210.6"/><use href="#sq" x="559.1" y="2210.8"/><use href="#sq" x="569.5" y="2210.9"/><use href="#sq" x="582.6" y="2211.1"/><use href="#sq" x="595.5" y="2211.2"/><use href="#sq" x="610.3" y="2211.4"/><use href="#sq" x="622.5" y="2211.5"/><use href="#sq" x="635.4" y="2211.6"/><use href="#sq" x="647.1" y="2211.7"/><use href="#sq" x="660.4" y="2211.9"/><use href="#sq" x="674.2" y="2212.0"/><use href="#sq" x="685.0" y="2212.0"/><use href="#sq" x="697.9" y="2212.1"/><use href="#sq" x="710.5" y="2212.2"/><use href="#sq" x="724.5" y="2212.3"/>
</g>
<g color="#000">
<use href="#plb" x="96.6" y="1866.1"/><use href="#plb" x="98.4" y="1893.3"/><use href="#plb" x="100.1" y="1914.9"/><use href="#plb" x="101.9" y="1929.0"/><use href="#plb" x="103.6" y="1943.0"/><use href="#plb" x="105.4" y="1963.9"/><use href="#plb" x="107.1" y="1986.2"/><use href="#plb" x="110.6" y="2016.0"/><use href="#plb" x="113.2" y="2033.3"/><use href="#plb" x="115.8" y="2048.9"/><use href="#plb" x="118.4" y="2063.8"/><use href="#plb" x="121.0" y="2076.5"/><use href="#plb" x="128.3" y="2104.2"/><use href="#plb" x="135.7" y="2123.7"/><use href="#plb" x="141.3" y="2135.9"/><use href="#plb" x="147.0" y="2145.9"/><use href="#plb" x="161.9" y="2165.2"/><use href="#plb" x="172.3" y="2175.4"/><use href="#plb" x="187.3" y="2183.9"/><use href="#plb" x="199.6" y="2189.3"/><use href="#plb" x="212.9" y="2193.9"/><use href="#plb" x="226.0" y="2197.7"/><use href="#plb" x="236.9" y="2200.1"/><use href="#plb" x="250.0" y="2202.2"/><use href="#plb" x="263.7" y="2203.8"/><use href="#plb" x="275.5" y="2205.0"/><use href="#plb" x="288.2" y="2206.4"/><use href="#plb" x="301.0" y="2207.4"/><use href="#plb" x="315.4" y="2208.4"/><use href="#plb" x="328.2" y="2208.9"/><use href="#plb" x="340.9" y="2209.2"/><use href="#plb" x="352.2" y="2209.5"/><use href="#plb" x="366.8" y="2210.1"/><use href="#plb" x="378.6" y="2210.4"/><use href="#plb" x="390.7" y="2210.6"/><use href="#plb" x="404.0" y="2210.8"/><use href="#plb" x="416.8" y="2211.0"/><use href="#plb" x="428.7" y="2211.2"/><use href="#plb" x="442.8" y="2211.4"/><use href="#plb" x="455.1" y="2211.6"/><use href="#plb" x="468.4" y="2211.8"/><use href="#plb" x="482.1" y="2212.0"/><use href="#plb" x="494.2" y="2212.1"/><use href="#plb" x="506.4" y="2212.2"/><use href="#plb" x="520.4" y="2212.4"/><use href="#plb" x="533.6" y="2212.5"/><use href="#plb" x="545.1" y="2212.6"/><use href="#plb" x="559.1" y="2212.7"/><use href="#plb" x="569.5" y="2212.7"/><use href="#plb" x="582.6" y="2212.8"/><use href="#plb" x="595.5" y="2212.9"/><use href="#plb" x="610.3" y="2213.0"/><use href="#plb" x="622.5" y="2213.0"/><use href="#plb" x="635.4" y="2213.1"/><use href="#plb" x="647.1" y="2213.2"/><use href="#plb" x="660.4" y="2213.2"/><use href="#plb" x="674.2" y="2213.3"/><use href="#plb" x="685.0" y="2213.3"/><use href="#plb" x="697.9" y="2213.3"/><use href="#plb" x="710.5" y="2213.4"/><use href="#plb" x="724.5" y="2213.4"/>
</g>
<polyline points="96.9,1869.8 99.0,1901.0 101.1,1923.2 103.1,1938.2 105.2,1962.0 107.3,1988.4 109.4,2007.1 111.5,2022.1 113.6,2035.6 115.7,2048.1 117.8,2060.2 119.9,2071.6 122.0,2080.4 124.1,2088.5 126.2,2096.6 128.3,2103.9 130.3,2110.2 132.4,2115.9 134.5,2121.0 136.6,2125.9 138.7,2130.5 140.8,2134.8 142.9,2138.8 145.0,2142.5 147.1,2146.0 149.2,2149.2 151.3,2152.1 153.4,2154.9 155.4,2157.6 157.5,2160.2 159.6,2162.6 161.7,2164.9 163.8,2167.2 165.9,2169.4 168.0,2171.5 170.1,2173.5 172.2,2175.3 174.3,2176.9 176.4,2178.2 178.5,2179.5 180.6,2180.6 182.6,2181.7 184.7,2182.7 186.8,2183.7 188.9,2184.7 191.0,2185.6 193.1,2186.6 195.2,2187.5 197.3,2188.4 199.4,2189.2 201.5,2190.0 203.6,2190.8 205.7,2191.5 207.8,2192.2 209.8,2192.9 211.9,2193.6 214.0,2194.2 216.1,2194.8 218.2,2195.5 220.3,2196.1 222.4,2196.7 224.5,2197.3 226.6,2197.8 228.7,2198.3 230.8,2198.8 232.9,2199.3 234.9,2199.7 237.0,2200.1 239.1,2200.5 241.2,2200.9 243.3,2201.2 245.4,2201.6 247.5,2201.9 249.6,2202.2 251.7,2202.5 253.8,2202.7 255.9,2203.0 258.0,2203.2 260.1,2203.4 262.1,2203.7 264.2,2203.9 266.3,2204.1 268.4,2204.3 270.5,2204.5 272.6,2204.7 274.7,2205.0 276.8,2205.2 278.9,2205.4 281.0,2205.6 283.1,2205.8 285.2,2206.1 287.3,2206.3 289.3,2206.5 291.4,2206.6 293.5,2206.8 295.6,2207.0 297.7,2207.2 299.8,2207.3 301.9,2207.5 304.0,2207.7 306.1,2207.8 308.2,2208.0 310.3,2208.1 312.4,2208.3 314.4,2208.4 316.5,2208.5 318.6,2208.6 320.7,2208.7 322.8,2208.7 324.9,2208.8 327.0,2208.8 329.1,2208.9 331.2,2208.9 333.3,2209.0 335.4,2209.0 337.5,2209.1 339.6,2209.1 341.6,2209.2 343.7,2209.2 345.8,2209.3 347.9,2209.4 350.0,2209.5 352.1,2209.5 354.2,2209.6 356.3,2209.7 358.4,2209.8 360.5,2209.9 362.6,2209.9 364.7,2210.0 366.8,2210.1 368.8,2210.1 370.9,2210.2 373.0,2210.2 375.1,2210.3 377.2,2210.3 379.3,2210.4 381.4,2210.4 383.5,2210.4 385.6,2210.5 387.7,2210.5 389.8,2210.5 391.9,2210.6 393.9,2210.6 396.0,2210.6 398.1,2210.7 400.2,2210.7 402.3,2210.7 404.4,2210.8 406.5,2210.8 408.6,2210.8 410.7,2210.9 412.8,2210.9 414.9,2211.0 417.0,2211.0 419.1,2211.0 421.1,2211.1 423.2,2211.1 425.3,2211.1 427.4,2211.2 429.5,2211.2 431.6,2211.2 433.7,2211.3 435.8,2211.3 437.9,2211.3 440.0,2211.4 442.1,2211.4 444.2,2211.4 446.3,2211.5 448.3,2211.5 450.4,2211.5 452.5,2211.6 454.6,2211.6 456.7,2211.6 458.8,2211.7 460.9,2211.7 463.0,2211.7 465.1,2211.8 467.2,2211.8 469.3,2211.8 471.4,2211.8 473.4,2211.9 475.5,2211.9 477.6,2211.9 479.7,2212.0 481.8,2212.0 483.9,2212.0 486.0,2212.0 488.1,2212.0 490.2,2212.1 492.3,2212.1 494.4,2212.1 496.5,2212.1 498.6,2212.1 500.6,2212.2 502.7,2212.2 504.8,2212.2 506.9,2212.2 509.0,2212.2 511.1,2212.3 513.2,2212.3 515.3,2212.3 517.4,2212.3 519.5,2212.3 521.6,2212.4 523.7,2212.4 525.8,2212.4 527.8,2212.4 529.9,2212.4 532.0,2212.5 534.1,2212.5 536.2,2212.5 538.3,2212.5 540.4,2212.5 542.5,2212.5 544.6,2212.6 546.7,2212.6 548.8,2212.6 550.9,2212.6 552.9,2212.6 555.0,2212.6 557.1,2212.7 559.2,2212.7 561.3,2212.7 563.4,2212.7 565.5,2212.7 567.6,2212.7 569.7,2212.7 571.8,2212.8 573.9,2212.8 576.0,2212.8 578.1,2212.8 580.1,2212.8 582.2,2212.8 584.3,2212.8 586.4,2212.8 588.5,2212.9 590.6,2212.9 592.7,2212.9 594.8,2212.9 596.9,2212.9 599.0,2212.9 601.1,2212.9 603.2,2212.9 605.3,2212.9 607.3,2213.0 609.4,2213.0 611.5,2213.0 613.6,2213.0 615.7,2213.0 617.8,2213.0 619.9,2213.0 622.0,2213.0 624.1,2213.0 626.2,2213.1 628.3,2213.1 630.4,2213.1 632.4,2213.1 634.5,2213.1 636.6,2213.1 638.7,2213.1 640.8,2213.1 642.9,2213.1 645.0,2213.1 647.1,2213.2 649.2,2213.2 651.3,2213.2 653.4,2213.2 655.5,2213.2 657.6,2213.2 659.6,2213.2 661.7,2213.2 663.8,2213.2 665.9,2213.2 668.0,2213.2 670.1,2213.2 672.2,2213.3 674.3,2213.3 676.4,2213.3 678.5,2213.3 680.6,2213.3 682.7,2213.3 684.8,2213.3 686.8,2213.3 688.9,2213.3 691.0,2213.3 693.1,2213.3 695.2,2213.3 697.3,2213.3 699.4,2213.3 701.5,2213.4 703.6,2213.4 705.7,2213.4 707.8,2213.4 709.9,2213.4 711.9,2213.4 714.0,2213.4 716.1,2213.4 718.2,2213.4 720.3,2213.4 722.4,2213.4 724.5,2213.4" fill="none" stroke="#ff0000" stroke-width="1.9" stroke-linejoin="round"/>
<g color="#0000ff">
<use href="#ass" x="96.6" y="1930.9"/><use href="#ass" x="97.5" y="1951.0"/><use href="#ass" x="98.4" y="1969.5"/><use href="#ass" x="99.3" y="1985.2"/><use href="#ass" x="100.1" y="1994.8"/><use href="#ass" x="101.9" y="2014.2"/><use href="#ass" x="103.6" y="2038.5"/><use href="#ass" x="105.4" y="2056.6"/><use href="#ass" x="107.1" y="2071.9"/><use href="#ass" x="108.9" y="2085.2"/><use href="#ass" x="110.6" y="2098.0"/><use href="#ass" x="113.2" y="2111.9"/><use href="#ass" x="115.8" y="2124.1"/><use href="#ass" x="118.4" y="2136.2"/><use href="#ass" x="121.0" y="2146.5"/><use href="#ass" x="128.3" y="2163.9"/><use href="#ass" x="135.7" y="2176.8"/><use href="#ass" x="141.3" y="2184.1"/><use href="#ass" x="147.0" y="2189.5"/><use href="#ass" x="161.9" y="2199.7"/><use href="#ass" x="172.3" y="2203.6"/><use href="#ass" x="187.3" y="2207.5"/><use href="#ass" x="199.6" y="2209.1"/><use href="#ass" x="212.9" y="2210.5"/><use href="#ass" x="226.0" y="2211.7"/><use href="#ass" x="236.9" y="2212.1"/><use href="#ass" x="250.0" y="2212.9"/><use href="#ass" x="263.7" y="2213.3"/><use href="#ass" x="275.5" y="2213.5"/><use href="#ass" x="288.2" y="2213.7"/><use href="#ass" x="301.0" y="2213.8"/><use href="#ass" x="315.4" y="2213.9"/><use href="#ass" x="328.2" y="2214.1"/><use href="#ass" x="340.9" y="2214.2"/><use href="#ass" x="352.2" y="2214.3"/><use href="#ass" x="366.8" y="2214.3"/><use href="#ass" x="378.6" y="2214.3"/><use href="#ass" x="390.7" y="2214.3"/><use href="#ass" x="404.0" y="2214.3"/><use href="#ass" x="416.8" y="2214.3"/><use href="#ass" x="428.7" y="2214.3"/><use href="#ass" x="442.8" y="2214.3"/><use href="#ass" x="455.1" y="2214.3"/><use href="#ass" x="468.4" y="2214.3"/><use href="#ass" x="482.1" y="2214.3"/><use href="#ass" x="494.2" y="2214.3"/><use href="#ass" x="506.4" y="2214.3"/><use href="#ass" x="520.4" y="2214.3"/><use href="#ass" x="533.6" y="2214.3"/><use href="#ass" x="545.1" y="2214.3"/><use href="#ass" x="559.1" y="2214.3"/><use href="#ass" x="569.5" y="2214.3"/><use href="#ass" x="582.6" y="2214.3"/><use href="#ass" x="595.5" y="2214.3"/><use href="#ass" x="610.3" y="2214.3"/><use href="#ass" x="622.5" y="2214.2"/><use href="#ass" x="635.4" y="2214.2"/><use href="#ass" x="647.1" y="2214.2"/><use href="#ass" x="660.4" y="2214.2"/><use href="#ass" x="674.2" y="2214.2"/><use href="#ass" x="685.0" y="2214.2"/><use href="#ass" x="697.9" y="2214.1"/><use href="#ass" x="710.5" y="2214.1"/><use href="#ass" x="724.5" y="2214.1"/>
</g>
<g color="#ff00ff">
<use href="#di" x="96.6" y="2125.7"/><use href="#di" x="97.1" y="2135.4"/><use href="#di" x="97.5" y="2145.5"/><use href="#di" x="97.9" y="2154.7"/><use href="#di" x="98.4" y="2162.2"/><use href="#di" x="98.8" y="2168.1"/><use href="#di" x="99.3" y="2176.3"/><use href="#di" x="99.7" y="2187.1"/><use href="#di" x="100.1" y="2195.3"/><use href="#di" x="101.0" y="2208.5"/><use href="#di" x="101.9" y="2219.7"/><use href="#di" x="102.8" y="2231.9"/><use href="#di" x="103.6" y="2243.9"/><use href="#di" x="104.5" y="2253.8"/><use href="#di" x="105.4" y="2263.2"/><use href="#di" x="107.1" y="2283.1"/><use href="#di" x="108.9" y="2297.0"/><use href="#di" x="110.6" y="2308.0"/><use href="#di" x="111.9" y="2314.4"/><use href="#di" x="113.2" y="2320.3"/><use href="#di" x="115.8" y="2330.8"/><use href="#di" x="118.4" y="2335.6"/><use href="#di" x="121.0" y="2338.5"/><use href="#di" x="122.4" y="2339.6"/><use href="#di" x="122.8" y="2339.9"/><use href="#di" x="123.3" y="2340.1"/><use href="#di" x="123.8" y="2340.4"/><use href="#di" x="124.2" y="2340.5"/><use href="#di" x="124.7" y="2340.7"/><use href="#di" x="125.1" y="2340.7"/><use href="#di" x="125.6" y="2340.8"/><use href="#di" x="126.1" y="2340.8"/><use href="#di" x="126.5" y="2340.7"/><use href="#di" x="127.0" y="2340.6"/><use href="#di" x="127.4" y="2340.5"/><use href="#di" x="127.9" y="2340.4"/><use href="#di" x="128.3" y="2340.2"/><use href="#di" x="128.8" y="2340.0"/><use href="#di" x="135.7" y="2335.6"/><use href="#di" x="141.3" y="2329.5"/><use href="#di" x="147.0" y="2322.8"/><use href="#di" x="161.9" y="2306.3"/><use href="#di" x="172.3" y="2296.4"/><use href="#di" x="187.3" y="2282.6"/><use href="#di" x="199.6" y="2274.5"/><use href="#di" x="212.9" y="2266.4"/><use href="#di" x="226.0" y="2259.6"/><use href="#di" x="236.9" y="2254.6"/><use href="#di" x="250.0" y="2249.9"/><use href="#di" x="263.7" y="2246.1"/><use href="#di" x="275.5" y="2243.3"/><use href="#di" x="288.2" y="2240.5"/><use href="#di" x="301.0" y="2237.9"/><use href="#di" x="315.4" y="2235.5"/><use href="#di" x="328.2" y="2233.5"/><use href="#di" x="340.9" y="2231.8"/><use href="#di" x="352.2" y="2230.5"/><use href="#di" x="366.8" y="2229.2"/><use href="#di" x="378.6" y="2228.4"/><use href="#di" x="390.7" y="2227.3"/><use href="#di" x="404.0" y="2226.3"/><use href="#di" x="416.8" y="2225.5"/><use href="#di" x="428.7" y="2224.8"/><use href="#di" x="442.8" y="2224.1"/><use href="#di" x="455.1" y="2223.6"/><use href="#di" x="468.4" y="2223.1"/><use href="#di" x="482.1" y="2222.6"/><use href="#di" x="494.2" y="2222.1"/><use href="#di" x="506.4" y="2221.7"/><use href="#di" x="520.4" y="2221.2"/><use href="#di" x="533.6" y="2220.8"/><use href="#di" x="545.1" y="2220.4"/><use href="#di" x="559.1" y="2220.0"/><use href="#di" x="569.5" y="2219.7"/><use href="#di" x="582.6" y="2219.4"/><use href="#di" x="595.5" y="2219.1"/><use href="#di" x="610.3" y="2218.8"/><use href="#di" x="622.5" y="2218.6"/><use href="#di" x="635.4" y="2218.4"/><use href="#di" x="647.1" y="2218.2"/><use href="#di" x="660.4" y="2218.0"/><use href="#di" x="674.2" y="2217.8"/><use href="#di" x="685.0" y="2217.7"/><use href="#di" x="697.9" y="2217.5"/><use href="#di" x="710.5" y="2217.4"/><use href="#di" x="724.5" y="2217.3"/>
</g>
<g color="#00ff00">
<use href="#ci" x="96.6" y="1930.9"/><use href="#ci" x="97.5" y="1951.0"/><use href="#ci" x="98.4" y="1969.5"/><use href="#ci" x="99.3" y="1985.2"/><use href="#ci" x="100.1" y="1994.8"/><use href="#ci" x="101.9" y="2014.2"/><use href="#ci" x="103.6" y="2038.5"/><use href="#ci" x="105.4" y="2056.6"/><use href="#ci" x="107.1" y="2071.9"/><use href="#ci" x="108.9" y="2085.2"/><use href="#ci" x="110.6" y="2098.0"/><use href="#ci" x="113.2" y="2111.9"/><use href="#ci" x="115.8" y="2124.1"/><use href="#ci" x="118.4" y="2136.2"/><use href="#ci" x="121.0" y="2146.5"/><use href="#ci" x="128.3" y="2163.9"/><use href="#ci" x="135.7" y="2176.8"/><use href="#ci" x="141.3" y="2184.1"/><use href="#ci" x="147.0" y="2189.5"/><use href="#ci" x="161.9" y="2199.7"/><use href="#ci" x="172.3" y="2203.6"/><use href="#ci" x="187.3" y="2207.5"/><use href="#ci" x="199.6" y="2209.1"/><use href="#ci" x="212.9" y="2210.5"/><use href="#ci" x="226.0" y="2211.7"/><use href="#ci" x="236.9" y="2212.1"/><use href="#ci" x="250.0" y="2212.9"/><use href="#ci" x="263.7" y="2213.3"/><use href="#ci" x="275.5" y="2213.5"/><use href="#ci" x="288.2" y="2213.7"/><use href="#ci" x="301.0" y="2213.8"/><use href="#ci" x="315.4" y="2213.9"/><use href="#ci" x="328.2" y="2214.1"/><use href="#ci" x="340.9" y="2214.2"/><use href="#ci" x="352.2" y="2214.3"/><use href="#ci" x="366.8" y="2214.3"/><use href="#ci" x="378.6" y="2214.3"/><use href="#ci" x="390.7" y="2214.3"/><use href="#ci" x="404.0" y="2214.3"/><use href="#ci" x="416.8" y="2214.3"/><use href="#ci" x="428.7" y="2214.3"/><use href="#ci" x="442.8" y="2214.3"/><use href="#ci" x="455.1" y="2214.3"/><use href="#ci" x="468.4" y="2214.3"/><use href="#ci" x="482.1" y="2214.3"/><use href="#ci" x="494.2" y="2214.3"/><use href="#ci" x="506.4" y="2214.3"/><use href="#ci" x="520.4" y="2214.3"/><use href="#ci" x="533.6" y="2214.3"/><use href="#ci" x="545.1" y="2214.3"/><use href="#ci" x="559.1" y="2214.3"/><use href="#ci" x="569.5" y="2214.3"/><use href="#ci" x="582.6" y="2214.3"/><use href="#ci" x="595.5" y="2214.3"/><use href="#ci" x="610.3" y="2214.3"/><use href="#ci" x="622.5" y="2214.2"/><use href="#ci" x="635.4" y="2214.2"/><use href="#ci" x="647.1" y="2214.2"/><use href="#ci" x="660.4" y="2214.2"/><use href="#ci" x="674.2" y="2214.2"/><use href="#ci" x="685.0" y="2214.2"/><use href="#ci" x="697.9" y="2214.1"/><use href="#ci" x="710.5" y="2214.1"/><use href="#ci" x="724.5" y="2214.1"/>
</g>
<rect x="13.8" y="2407.6" width="711.2" height="94.1" fill="none" stroke="#000" stroke-width="2"/>
<use href="#sq" x="51.3" y="2431.3" color="#c8353a"/>
<text x="92.1" y="2440.1" font-family="'Liberation Serif',serif" font-size="27.5" fill="#000" stroke="#000" stroke-width="0.25"><tspan font-family="'Liberation Sans',sans-serif" font-size="27" stroke="#000" stroke-width="0.35">ρ</tspan></text>
<use href="#pl" x="223.3" y="2431.3" color="#000"/>
<text x="262.5" y="2440.1" font-family="'Liberation Serif',serif" font-size="27.5" fill="#000" stroke="#000" stroke-width="0.25"><tspan font-family="'Liberation Sans',sans-serif" font-size="27" stroke="#000" stroke-width="0.35">ρ</tspan><tspan dx="6" font-size="30" dy="1.5">+</tspan><tspan dy="-1.5" font-size="1"> </tspan><tspan dx="6" font-style="italic">p</tspan><tspan dx="2.5" dy="10.5" font-style="italic" font-size="21">r</tspan><tspan dy="-10.5" font-size="1"> </tspan></text>
<use href="#asb" x="388.9" y="2431.3" color="#0000ff"/>
<text x="429.1" y="2440.1" font-family="'Liberation Serif',serif" font-size="27.5" fill="#000" stroke="#000" stroke-width="0.25"><tspan font-family="'Liberation Sans',sans-serif" font-size="27" stroke="#000" stroke-width="0.35">ρ</tspan><tspan dx="6" font-size="30" dy="1.5">+</tspan><tspan dy="-1.5" font-size="1"> </tspan><tspan dx="6" font-style="italic">p</tspan><tspan dx="2.5" dy="10.5" font-style="italic" font-size="21">t</tspan><tspan dy="-10.5" font-size="1"> </tspan></text>
<use href="#di" x="545.0" y="2431.3" color="#ff00ff"/>
<text x="585.7" y="2440.1" font-family="'Liberation Serif',serif" font-size="27.5" fill="#000" stroke="#000" stroke-width="0.25"><tspan font-family="'Liberation Sans',sans-serif" font-size="27" stroke="#000" stroke-width="0.35">ρ</tspan><tspan dx="6" font-size="30" dy="1.5">+</tspan><tspan dy="-1.5" font-size="1"> </tspan><tspan dx="6" font-style="italic">p</tspan><tspan dx="2.5" dy="10.5" font-style="italic" font-size="21">r</tspan><tspan dy="-10.5" font-size="1"> </tspan><tspan dx="3" font-size="30" dy="1.5">+</tspan><tspan dy="-1.5" font-size="1"> </tspan><tspan dx="4" font-size="29">2</tspan><tspan dx="1" font-style="italic">p</tspan><tspan dx="2.5" dy="10.5" font-style="italic" font-size="21">t</tspan><tspan dy="-10.5" font-size="1"> </tspan></text>
<path d="M20.0 2475.2H83.6" stroke="#ff0000" stroke-width="2.2" fill="none"/>
<text x="92.8" y="2484.2" font-family="'Liberation Serif',serif" font-size="27.5" fill="#000" stroke="#000" stroke-width="0.25"><tspan font-family="'Liberation Sans',sans-serif" font-size="27">.</tspan><tspan font-family="'Liberation Sans',sans-serif" font-size="27" stroke="#000" stroke-width="0.35">ρ</tspan><tspan dx="4.5" font-family="'Liberation Sans',sans-serif" font-size="27">-</tspan><tspan dx="7.5" font-size="29" dy="-1.5">|</tspan><tspan dy="1.5" font-size="1"> </tspan><tspan dx="-1" font-style="italic">p</tspan><tspan dx="2.5" dy="10.5" font-style="italic" font-size="21">r</tspan><tspan dy="-10.5" font-size="1"> </tspan><tspan dx="0.5" font-size="29" dy="-1.5">|</tspan><tspan dy="1.5" font-size="1"> </tspan></text>
<use href="#ci" x="222.2" y="2475.2" color="#00ff00"/>
<text x="262.5" y="2484.2" font-family="'Liberation Serif',serif" font-size="27.5" fill="#000" stroke="#000" stroke-width="0.25"><tspan font-family="'Liberation Sans',sans-serif" font-size="27" stroke="#000" stroke-width="0.35">ρ</tspan><tspan dx="4.5" font-family="'Liberation Sans',sans-serif" font-size="27">-</tspan><tspan dx="7.5" font-size="29" dy="-1.5">|</tspan><tspan dy="1.5" font-size="1"> </tspan><tspan dx="-1" font-style="italic">p</tspan><tspan dx="2.5" dy="10.5" font-style="italic" font-size="21">t</tspan><tspan dy="-10.5" font-size="1"> </tspan><tspan dx="0.5" font-size="29" dy="-1.5">|</tspan><tspan dy="1.5" font-size="1"> </tspan></text>
<text x="1.0" y="2573.0" font-family="'Liberation Serif',serif" font-size="29.5" fill="#000" word-spacing="3" textLength="747.7" lengthAdjust="spacingAndGlyphs" xml:space="preserve"><tspan font-weight="bold" font-size="33">(e)</tspan> This figure depicts the behavior of all EC terms</text>
<text x="1.0" y="2613.7" font-family="'Liberation Serif',serif" font-size="29.5" fill="#000" word-spacing="3" textLength="737.0" lengthAdjust="spacingAndGlyphs" xml:space="preserve">for Model-II in Subcase 11 (<tspan font-style="italic">ξ</tspan><tspan dy="5.5" font-size="21">2</tspan><tspan dy="-5.5" font-size="1"> </tspan> &lt; 0, <tspan font-style="italic">α</tspan><tspan dy="5.5" font-size="21">2</tspan><tspan dy="-5.5" font-size="1"> </tspan> &lt; 0, <tspan font-style="italic">α</tspan> &gt; 0).</text>
<text x="1.0" y="2653.7" font-family="'Liberation Serif',serif" font-size="29.5" fill="#000" word-spacing="3" textLength="708.0" lengthAdjust="spacingAndGlyphs" xml:space="preserve">All ECs are found to be satisfied for every <tspan font-style="italic">r</tspan> &gt; 4.</text>
<g stroke="#000" stroke-width="2" fill="none">
<rect x="957.5" y="1798.6" width="658.2" height="562.0"/>
<path d="M963.1 2360.6v11M1178.6 2360.6v11M1394.1 2360.6v11M1609.6 2360.6v11M1006.2 2360.6v6.5M1049.3 2360.6v6.5M1092.4 2360.6v6.5M1135.5 2360.6v6.5M1221.7 2360.6v6.5M1264.8 2360.6v6.5M1307.9 2360.6v6.5M1351.0 2360.6v6.5M1437.2 2360.6v6.5M1480.3 2360.6v6.5M1523.4 2360.6v6.5M1566.5 2360.6v6.5M957.5 2257.9h-10.5M957.5 2141.4h-10.5M957.5 2024.9h-10.5M957.5 1908.4h-10.5M957.5 2316.2h-6M957.5 2199.7h-6M957.5 2083.2h-6M957.5 1966.7h-6M957.5 1850.2h-6"/>
</g>
<g font-family="'Liberation Serif',serif" font-size="23.5" fill="#000">
<g text-anchor="middle">
<text x="963.1" y="2395.9">0.5</text>
<text x="1178.6" y="2395.9">1</text>
<text x="1394.1" y="2395.9">1.5</text>
<text x="1609.6" y="2395.9">2</text>
</g><g text-anchor="end">
<text x="946.0" y="2265.8">0</text>
<text x="946.0" y="2149.3">10</text>
<text x="946.0" y="2032.8">20</text>
<text x="946.0" y="1916.3">30</text>
</g>
<text x="1286.4" y="2418.8" font-style="italic" font-size="23.5" text-anchor="middle">r</text>
</g>
<g color="#ff0000">
<use href="#sq" x="963.1" y="2198.8"/><use href="#sq" x="966.3" y="2201.7"/><use href="#sq" x="969.5" y="2204.3"/><use href="#sq" x="972.7" y="2207.1"/><use href="#sq" x="975.9" y="2209.1"/><use href="#sq" x="982.7" y="2213.8"/><use href="#sq" x="989.4" y="2217.6"/><use href="#sq" x="995.9" y="2220.7"/><use href="#sq" x="1002.5" y="2223.1"/><use href="#sq" x="1009.1" y="2225.0"/><use href="#sq" x="1015.7" y="2226.7"/><use href="#sq" x="1028.8" y="2230.9"/><use href="#sq" x="1042.7" y="2234.8"/><use href="#sq" x="1054.8" y="2237.3"/><use href="#sq" x="1069.0" y="2239.6"/><use href="#sq" x="1080.6" y="2241.1"/><use href="#sq" x="1094.5" y="2243.0"/><use href="#sq" x="1107.8" y="2244.7"/><use href="#sq" x="1120.5" y="2245.7"/><use href="#sq" x="1135.3" y="2246.8"/><use href="#sq" x="1147.3" y="2247.8"/><use href="#sq" x="1161.8" y="2248.8"/><use href="#sq" x="1175.4" y="2249.6"/><use href="#sq" x="1186.7" y="2250.1"/><use href="#sq" x="1201.6" y="2250.6"/><use href="#sq" x="1214.6" y="2251.1"/><use href="#sq" x="1227.4" y="2251.7"/><use href="#sq" x="1238.9" y="2252.0"/><use href="#sq" x="1253.3" y="2252.2"/><use href="#sq" x="1266.9" y="2252.5"/><use href="#sq" x="1279.2" y="2252.7"/><use href="#sq" x="1292.2" y="2252.9"/><use href="#sq" x="1305.6" y="2253.0"/><use href="#sq" x="1318.7" y="2253.1"/><use href="#sq" x="1333.3" y="2253.2"/><use href="#sq" x="1345.3" y="2253.3"/><use href="#sq" x="1358.7" y="2253.4"/><use href="#sq" x="1372.5" y="2253.5"/><use href="#sq" x="1386.5" y="2253.6"/><use href="#sq" x="1398.0" y="2253.7"/><use href="#sq" x="1410.5" y="2253.8"/><use href="#sq" x="1426.1" y="2254.0"/><use href="#sq" x="1439.0" y="2254.1"/><use href="#sq" x="1452.0" y="2254.2"/><use href="#sq" x="1464.5" y="2254.3"/><use href="#sq" x="1477.0" y="2254.4"/><use href="#sq" x="1489.9" y="2254.5"/><use href="#sq" x="1503.5" y="2254.6"/><use href="#sq" x="1517.1" y="2254.7"/><use href="#sq" x="1529.3" y="2254.8"/><use href="#sq" x="1544.2" y="2254.9"/><use href="#sq" x="1557.4" y="2255.0"/><use href="#sq" x="1568.7" y="2255.1"/><use href="#sq" x="1584.1" y="2255.2"/><use href="#sq" x="1596.4" y="2255.2"/><use href="#sq" x="1609.6" y="2255.3"/>
</g>
<g color="#000">
<use href="#pl" x="963.1" y="2119.8"/><use href="#pl" x="964.7" y="2132.1"/><use href="#pl" x="966.3" y="2141.2"/><use href="#pl" x="967.9" y="2150.1"/><use href="#pl" x="969.5" y="2155.8"/><use href="#pl" x="971.1" y="2161.5"/><use href="#pl" x="972.7" y="2167.7"/><use href="#pl" x="975.9" y="2177.7"/><use href="#pl" x="982.7" y="2193.7"/><use href="#pl" x="989.4" y="2204.6"/><use href="#pl" x="995.9" y="2213.3"/><use href="#pl" x="1002.5" y="2220.0"/><use href="#pl" x="1009.1" y="2224.3"/><use href="#pl" x="1015.7" y="2227.5"/><use href="#pl" x="1028.8" y="2235.2"/><use href="#pl" x="1042.7" y="2240.9"/><use href="#pl" x="1054.8" y="2244.1"/><use href="#pl" x="1069.0" y="2246.9"/><use href="#pl" x="1080.6" y="2248.8"/><use href="#pl" x="1094.5" y="2250.5"/><use href="#pl" x="1107.8" y="2251.7"/><use href="#pl" x="1120.5" y="2252.6"/><use href="#pl" x="1135.3" y="2253.6"/><use href="#pl" x="1147.3" y="2254.1"/><use href="#pl" x="1161.8" y="2254.7"/><use href="#pl" x="1175.4" y="2255.0"/><use href="#pl" x="1186.7" y="2255.4"/><use href="#pl" x="1201.6" y="2255.8"/><use href="#pl" x="1214.6" y="2256.0"/><use href="#pl" x="1227.4" y="2256.2"/><use href="#pl" x="1238.9" y="2256.3"/><use href="#pl" x="1253.3" y="2256.4"/><use href="#pl" x="1266.9" y="2256.5"/><use href="#pl" x="1279.2" y="2256.5"/><use href="#pl" x="1292.2" y="2256.6"/><use href="#pl" x="1305.6" y="2256.6"/><use href="#pl" x="1318.7" y="2256.7"/><use href="#pl" x="1333.3" y="2256.7"/><use href="#pl" x="1345.3" y="2256.7"/><use href="#pl" x="1358.7" y="2256.8"/><use href="#pl" x="1372.5" y="2256.8"/><use href="#pl" x="1386.5" y="2256.8"/><use href="#pl" x="1398.0" y="2256.9"/><use href="#pl" x="1410.5" y="2256.9"/><use href="#pl" x="1426.1" y="2256.9"/><use href="#pl" x="1439.0" y="2257.0"/><use href="#pl" x="1452.0" y="2257.0"/><use href="#pl" x="1464.5" y="2257.0"/><use href="#pl" x="1477.0" y="2257.0"/><use href="#pl" x="1489.9" y="2257.1"/><use href="#pl" x="1503.5" y="2257.1"/><use href="#pl" x="1517.1" y="2257.1"/><use href="#pl" x="1529.3" y="2257.2"/><use href="#pl" x="1544.2" y="2257.2"/><use href="#pl" x="1557.4" y="2257.2"/><use href="#pl" x="1568.7" y="2257.2"/><use href="#pl" x="1584.1" y="2257.3"/><use href="#pl" x="1596.4" y="2257.3"/><use href="#pl" x="1609.6" y="2257.3"/>
</g>
<g color="#0000ff">
<use href="#asb" x="963.1" y="2040.6"/><use href="#asb" x="964.7" y="2058.5"/><use href="#asb" x="966.3" y="2078.3"/><use href="#asb" x="967.9" y="2093.2"/><use href="#asb" x="969.5" y="2105.4"/><use href="#asb" x="971.1" y="2116.2"/><use href="#asb" x="972.7" y="2126.1"/><use href="#asb" x="974.3" y="2135.2"/><use href="#asb" x="975.9" y="2144.4"/><use href="#asb" x="979.3" y="2159.8"/><use href="#asb" x="982.7" y="2170.8"/><use href="#asb" x="986.1" y="2181.4"/><use href="#asb" x="989.4" y="2191.9"/><use href="#asb" x="995.9" y="2205.2"/><use href="#asb" x="1002.5" y="2213.9"/><use href="#asb" x="1009.1" y="2220.9"/><use href="#asb" x="1015.7" y="2226.3"/><use href="#asb" x="1028.8" y="2235.4"/><use href="#asb" x="1042.7" y="2241.1"/><use href="#asb" x="1054.8" y="2244.4"/><use href="#asb" x="1069.0" y="2247.2"/><use href="#asb" x="1080.6" y="2249.1"/><use href="#asb" x="1094.5" y="2250.8"/><use href="#asb" x="1107.8" y="2251.9"/><use href="#asb" x="1120.5" y="2252.9"/><use href="#asb" x="1135.3" y="2253.8"/><use href="#asb" x="1147.3" y="2254.3"/><use href="#asb" x="1161.8" y="2254.9"/><use href="#asb" x="1175.4" y="2255.2"/><use href="#asb" x="1186.7" y="2255.6"/><use href="#asb" x="1201.6" y="2256.0"/><use href="#asb" x="1214.6" y="2256.3"/><use href="#asb" x="1227.4" y="2256.5"/><use href="#asb" x="1238.9" y="2256.6"/><use href="#asb" x="1253.3" y="2256.7"/><use href="#asb" x="1266.9" y="2256.7"/><use href="#asb" x="1279.2" y="2256.8"/><use href="#asb" x="1292.2" y="2256.8"/><use href="#asb" x="1305.6" y="2256.9"/><use href="#asb" x="1318.7" y="2256.9"/><use href="#asb" x="1333.3" y="2256.9"/><use href="#asb" x="1345.3" y="2257.0"/><use href="#asb" x="1358.7" y="2257.0"/><use href="#asb" x="1372.5" y="2257.0"/><use href="#asb" x="1386.5" y="2257.1"/><use href="#asb" x="1398.0" y="2257.1"/><use href="#asb" x="1410.5" y="2257.1"/><use href="#asb" x="1426.1" y="2257.2"/><use href="#asb" x="1439.0" y="2257.2"/><use href="#asb" x="1452.0" y="2257.2"/><use href="#asb" x="1464.5" y="2257.2"/><use href="#asb" x="1477.0" y="2257.2"/><use href="#asb" x="1489.9" y="2257.3"/><use href="#asb" x="1503.5" y="2257.3"/><use href="#asb" x="1517.1" y="2257.3"/><use href="#asb" x="1529.3" y="2257.3"/><use href="#asb" x="1544.2" y="2257.4"/><use href="#asb" x="1557.4" y="2257.4"/><use href="#asb" x="1568.7" y="2257.4"/><use href="#asb" x="1584.1" y="2257.4"/><use href="#asb" x="1596.4" y="2257.4"/><use href="#asb" x="1609.6" y="2257.4"/>
</g>
<g color="#ff00ff">
<use href="#di" x="963.1" y="1803.8"/><use href="#di" x="963.9" y="1828.5"/><use href="#di" x="964.7" y="1854.3"/><use href="#di" x="965.5" y="1872.4"/><use href="#di" x="966.3" y="1888.4"/><use href="#di" x="967.1" y="1904.9"/><use href="#di" x="967.9" y="1924.4"/><use href="#di" x="969.5" y="1956.5"/><use href="#di" x="971.1" y="1984.8"/><use href="#di" x="972.7" y="2008.3"/><use href="#di" x="974.3" y="2026.7"/><use href="#di" x="975.9" y="2048.8"/><use href="#di" x="977.6" y="2068.2"/><use href="#di" x="979.3" y="2083.6"/><use href="#di" x="982.7" y="2109.4"/><use href="#di" x="986.1" y="2134.8"/><use href="#di" x="989.4" y="2151.2"/><use href="#di" x="995.9" y="2178.3"/><use href="#di" x="1002.5" y="2198.8"/><use href="#di" x="1009.1" y="2213.1"/><use href="#di" x="1015.7" y="2224.3"/><use href="#di" x="1028.8" y="2241.1"/><use href="#di" x="1042.7" y="2250.3"/><use href="#di" x="1054.8" y="2254.8"/><use href="#di" x="1069.0" y="2258.8"/><use href="#di" x="1080.6" y="2260.8"/><use href="#di" x="1094.5" y="2262.6"/><use href="#di" x="1107.8" y="2263.3"/><use href="#di" x="1120.5" y="2264.1"/><use href="#di" x="1135.3" y="2264.2"/><use href="#di" x="1147.3" y="2264.2"/><use href="#di" x="1161.8" y="2264.2"/><use href="#di" x="1175.4" y="2264.2"/><use href="#di" x="1186.7" y="2264.2"/><use href="#di" x="1201.6" y="2264.1"/><use href="#di" x="1214.6" y="2263.8"/><use href="#di" x="1227.4" y="2263.6"/><use href="#di" x="1238.9" y="2263.3"/><use href="#di" x="1253.3" y="2263.1"/><use href="#di" x="1266.9" y="2262.8"/><use href="#di" x="1279.2" y="2262.6"/><use href="#di" x="1292.2" y="2262.4"/><use href="#di" x="1305.6" y="2262.2"/><use href="#di" x="1318.7" y="2262.1"/><use href="#di" x="1333.3" y="2262.0"/><use href="#di" x="1345.3" y="2261.8"/><use href="#di" x="1358.7" y="2261.7"/><use href="#di" x="1372.5" y="2261.6"/><use href="#di" x="1386.5" y="2261.5"/><use href="#di" x="1398.0" y="2261.4"/><use href="#di" x="1410.5" y="2261.2"/><use href="#di" x="1426.1" y="2261.1"/><use href="#di" x="1439.0" y="2261.0"/><use href="#di" x="1452.0" y="2260.9"/><use href="#di" x="1464.5" y="2260.7"/><use href="#di" x="1477.0" y="2260.6"/><use href="#di" x="1489.9" y="2260.5"/><use href="#di" x="1503.5" y="2260.4"/><use href="#di" x="1517.1" y="2260.3"/><use href="#di" x="1529.3" y="2260.2"/><use href="#di" x="1544.2" y="2260.0"/><use href="#di" x="1557.4" y="2259.9"/><use href="#di" x="1568.7" y="2259.8"/><use href="#di" x="1584.1" y="2259.7"/><use href="#di" x="1596.4" y="2259.6"/><use href="#di" x="1609.6" y="2259.5"/>
</g>
<polyline points="963.1,2275.7 965.3,2264.5 967.4,2255.9 969.6,2249.1 971.7,2243.8 973.9,2239.5 976.0,2236.6 978.2,2234.4 980.3,2232.6 982.5,2231.2 984.7,2230.3 986.8,2229.4 989.0,2228.7 991.1,2228.2 993.3,2227.8 995.4,2227.5 997.6,2227.3 999.7,2227.1 1001.9,2227.0 1004.0,2226.9 1006.2,2227.0 1008.4,2227.1 1010.5,2227.2 1012.7,2227.4 1014.8,2227.7 1017.0,2227.9 1019.1,2228.3 1021.3,2229.0 1023.4,2229.9 1025.6,2231.0 1027.8,2232.1 1029.9,2233.2 1032.1,2234.1 1034.2,2235.2 1036.4,2236.2 1038.5,2237.3 1040.7,2238.3 1042.8,2239.2 1045.0,2240.0 1047.1,2240.7 1049.3,2241.3 1051.5,2241.9 1053.6,2242.5 1055.8,2243.0 1057.9,2243.5 1060.1,2244.0 1062.2,2244.5 1064.4,2245.0 1066.5,2245.4 1068.7,2245.8 1070.8,2246.2 1073.0,2246.6 1075.2,2247.0 1077.3,2247.3 1079.5,2247.7 1081.6,2248.0 1083.8,2248.3 1085.9,2248.6 1088.1,2248.9 1090.2,2249.2 1092.4,2249.5 1094.6,2249.8 1096.7,2250.1 1098.9,2250.3 1101.0,2250.5 1103.2,2250.7 1105.3,2250.8 1107.5,2251.0 1109.6,2251.1 1111.8,2251.3 1114.0,2251.5 1116.1,2251.7 1118.3,2251.8 1120.4,2252.0 1122.6,2252.1 1124.7,2252.3 1126.9,2252.4 1129.0,2252.6 1131.2,2252.7 1133.3,2252.8 1135.5,2252.9 1137.7,2253.1 1139.8,2253.2 1142.0,2253.3 1144.1,2253.3 1146.3,2253.4 1148.4,2253.5 1150.6,2253.6 1152.7,2253.7 1154.9,2253.8 1157.0,2253.9 1159.2,2254.0 1161.4,2254.1 1163.5,2254.1 1165.7,2254.2 1167.8,2254.3 1170.0,2254.3 1172.1,2254.3 1174.3,2254.4 1176.4,2254.4 1178.6,2254.5 1180.8,2254.5 1182.9,2254.6 1185.1,2254.6 1187.2,2254.7 1189.4,2254.8 1191.5,2254.8 1193.7,2254.9 1195.8,2255.0 1198.0,2255.0 1200.2,2255.1 1202.3,2255.2 1204.5,2255.2 1206.6,2255.3 1208.8,2255.3 1210.9,2255.4 1213.1,2255.4 1215.2,2255.5 1217.4,2255.5 1219.5,2255.6 1221.7,2255.6 1223.9,2255.7 1226.0,2255.7 1228.2,2255.7 1230.3,2255.8 1232.5,2255.8 1234.6,2255.9 1236.8,2255.9 1238.9,2255.9 1241.1,2256.0 1243.2,2256.0 1245.4,2256.0 1247.6,2256.1 1249.7,2256.1 1251.9,2256.1 1254.0,2256.1 1256.2,2256.2 1258.3,2256.2 1260.5,2256.2 1262.6,2256.2 1264.8,2256.3 1267.0,2256.3 1269.1,2256.3 1271.3,2256.3 1273.4,2256.3 1275.6,2256.3 1277.7,2256.3 1279.9,2256.3 1282.0,2256.3 1284.2,2256.3 1286.3,2256.3 1288.5,2256.4 1290.7,2256.4 1292.8,2256.4 1295.0,2256.4 1297.1,2256.4 1299.3,2256.4 1301.4,2256.4 1303.6,2256.4 1305.7,2256.4 1307.9,2256.4 1310.1,2256.4 1312.2,2256.4 1314.4,2256.4 1316.5,2256.4 1318.7,2256.4 1320.8,2256.4 1323.0,2256.4 1325.1,2256.4 1327.3,2256.4 1329.5,2256.4 1331.6,2256.4 1333.8,2256.4 1335.9,2256.4 1338.1,2256.4 1340.2,2256.4 1342.4,2256.4 1344.5,2256.4 1346.7,2256.4 1348.8,2256.4 1351.0,2256.4 1353.2,2256.4 1355.3,2256.4 1357.5,2256.4 1359.6,2256.5 1361.8,2256.5 1363.9,2256.5 1366.1,2256.5 1368.2,2256.5 1370.4,2256.5 1372.5,2256.5 1374.7,2256.5 1376.9,2256.5 1379.0,2256.5 1381.2,2256.5 1383.3,2256.5 1385.5,2256.5 1387.6,2256.5 1389.8,2256.5 1391.9,2256.5 1394.1,2256.5 1396.3,2256.5 1398.4,2256.5 1400.6,2256.5 1402.7,2256.5 1404.9,2256.5 1407.0,2256.5 1409.2,2256.5 1411.3,2256.5 1413.5,2256.5 1415.7,2256.5 1417.8,2256.6 1420.0,2256.6 1422.1,2256.6 1424.3,2256.6 1426.4,2256.6 1428.6,2256.6 1430.7,2256.6 1432.9,2256.6 1435.0,2256.6 1437.2,2256.6 1439.4,2256.6 1441.5,2256.6 1443.7,2256.6 1445.8,2256.6 1448.0,2256.6 1450.1,2256.6 1452.3,2256.6 1454.4,2256.6 1456.6,2256.7 1458.8,2256.7 1460.9,2256.7 1463.1,2256.7 1465.2,2256.7 1467.4,2256.7 1469.5,2256.7 1471.7,2256.7 1473.8,2256.7 1476.0,2256.7 1478.1,2256.7 1480.3,2256.7 1482.5,2256.7 1484.6,2256.7 1486.8,2256.7 1488.9,2256.7 1491.1,2256.8 1493.2,2256.8 1495.4,2256.8 1497.5,2256.8 1499.7,2256.8 1501.8,2256.8 1504.0,2256.8 1506.2,2256.8 1508.3,2256.8 1510.5,2256.8 1512.6,2256.8 1514.8,2256.8 1516.9,2256.8 1519.1,2256.8 1521.2,2256.9 1523.4,2256.9 1525.6,2256.9 1527.7,2256.9 1529.9,2256.9 1532.0,2256.9 1534.2,2256.9 1536.3,2256.9 1538.5,2256.9 1540.6,2256.9 1542.8,2256.9 1545.0,2256.9 1547.1,2256.9 1549.3,2257.0 1551.4,2257.0 1553.6,2257.0 1555.7,2257.0 1557.9,2257.0 1560.0,2257.0 1562.2,2257.0 1564.3,2257.0 1566.5,2257.0 1568.7,2257.0 1570.8,2257.0 1573.0,2257.0 1575.1,2257.1 1577.3,2257.1 1579.4,2257.1 1581.6,2257.1 1583.7,2257.1 1585.9,2257.1 1588.0,2257.1 1590.2,2257.1 1592.4,2257.1 1594.5,2257.1 1596.7,2257.1 1598.8,2257.2 1601.0,2257.2 1603.1,2257.2 1605.3,2257.2 1607.4,2257.2 1609.6,2257.2" fill="none" stroke="#cc3333" stroke-width="2" stroke-linejoin="round"/>
<g color="#00ff00">
<use href="#ci" x="963.1" y="2354.7"/><use href="#ci" x="963.5" y="2347.7"/><use href="#ci" x="963.9" y="2340.6"/><use href="#ci" x="964.7" y="2332.2"/><use href="#ci" x="965.5" y="2326.3"/><use href="#ci" x="966.3" y="2320.4"/><use href="#ci" x="967.1" y="2315.4"/><use href="#ci" x="967.9" y="2311.2"/><use href="#ci" x="969.5" y="2301.4"/><use href="#ci" x="971.1" y="2291.8"/><use href="#ci" x="972.7" y="2283.8"/><use href="#ci" x="974.3" y="2277.6"/><use href="#ci" x="975.9" y="2272.7"/><use href="#ci" x="977.6" y="2267.5"/><use href="#ci" x="979.3" y="2262.2"/><use href="#ci" x="982.7" y="2254.1"/><use href="#ci" x="986.1" y="2247.3"/><use href="#ci" x="989.4" y="2242.7"/><use href="#ci" x="995.9" y="2236.5"/><use href="#ci" x="1002.5" y="2232.5"/><use href="#ci" x="1004.1" y="2231.8"/><use href="#ci" x="1005.8" y="2231.3"/><use href="#ci" x="1007.4" y="2230.8"/><use href="#ci" x="1009.1" y="2230.3"/><use href="#ci" x="1010.8" y="2229.9"/><use href="#ci" x="1012.4" y="2229.6"/><use href="#ci" x="1014.1" y="2229.3"/><use href="#ci" x="1015.7" y="2229.2"/><use href="#ci" x="1017.4" y="2229.1"/><use href="#ci" x="1019.0" y="2229.2"/><use href="#ci" x="1020.6" y="2229.8"/><use href="#ci" x="1022.3" y="2230.5"/><use href="#ci" x="1023.9" y="2231.3"/><use href="#ci" x="1028.8" y="2234.9"/><use href="#ci" x="1042.7" y="2241.1"/><use href="#ci" x="1054.8" y="2244.4"/><use href="#ci" x="1069.0" y="2247.2"/><use href="#ci" x="1080.6" y="2249.2"/><use href="#ci" x="1094.5" y="2250.9"/><use href="#ci" x="1107.8" y="2252.1"/><use href="#ci" x="1120.5" y="2253.0"/><use href="#ci" x="1135.3" y="2254.0"/><use href="#ci" x="1147.3" y="2254.5"/><use href="#ci" x="1161.8" y="2255.1"/><use href="#ci" x="1175.4" y="2255.4"/><use href="#ci" x="1186.7" y="2255.8"/><use href="#ci" x="1201.6" y="2256.2"/><use href="#ci" x="1214.6" y="2256.5"/><use href="#ci" x="1227.4" y="2256.7"/><use href="#ci" x="1238.9" y="2256.8"/><use href="#ci" x="1253.3" y="2256.9"/><use href="#ci" x="1266.9" y="2257.0"/><use href="#ci" x="1279.2" y="2257.0"/><use href="#ci" x="1292.2" y="2257.0"/><use href="#ci" x="1305.6" y="2257.0"/><use href="#ci" x="1318.7" y="2257.0"/><use href="#ci" x="1333.3" y="2257.0"/><use href="#ci" x="1345.3" y="2257.0"/><use href="#ci" x="1358.7" y="2257.1"/><use href="#ci" x="1372.5" y="2257.1"/><use href="#ci" x="1386.5" y="2257.1"/><use href="#ci" x="1398.0" y="2257.1"/><use href="#ci" x="1410.5" y="2257.1"/><use href="#ci" x="1426.1" y="2257.1"/><use href="#ci" x="1439.0" y="2257.1"/><use href="#ci" x="1452.0" y="2257.2"/><use href="#ci" x="1464.5" y="2257.2"/><use href="#ci" x="1477.0" y="2257.2"/><use href="#ci" x="1489.9" y="2257.2"/><use href="#ci" x="1503.5" y="2257.2"/><use href="#ci" x="1517.1" y="2257.3"/><use href="#ci" x="1529.3" y="2257.3"/><use href="#ci" x="1544.2" y="2257.3"/><use href="#ci" x="1557.4" y="2257.3"/><use href="#ci" x="1568.7" y="2257.4"/><use href="#ci" x="1584.1" y="2257.4"/><use href="#ci" x="1596.4" y="2257.4"/><use href="#ci" x="1609.6" y="2257.4"/>
</g>
<rect x="908.3" y="2422.9" width="701.2" height="79.6" fill="none" stroke="#000" stroke-width="2"/>
<use href="#sq" x="946.4" y="2442.4" color="#ff0000"/>
<text x="987.3" y="2453.1" font-family="'Liberation Serif',serif" font-size="29" fill="#000">ρ</text>
<use href="#pl" x="1069.5" y="2442.4" color="#000"/>
<text x="1110.0" y="2453.1" font-family="'Liberation Serif',serif" font-size="29" fill="#000">ρ<tspan dx="5" font-size="30" dy="1">+</tspan><tspan dy="-1" font-size="1"> </tspan><tspan dx="6">p</tspan></text>
<use href="#asb" x="1225.2" y="2442.4" color="#0000ff"/>
<text x="1266.3" y="2453.1" font-family="'Liberation Serif',serif" font-size="29" fill="#000">ρ<tspan dx="5" font-size="30" dy="1">+</tspan><tspan dy="-1" font-size="1"> </tspan></text>
<use href="#di" x="1353.3" y="2442.4" color="#ff00ff"/>
<text x="1393.3" y="2453.1" font-family="'Liberation Serif',serif" font-size="29" fill="#000">ρ<tspan dx="5" font-size="30" dy="1">+</tspan><tspan dy="-1" font-size="1"> </tspan><tspan dx="6">p</tspan><tspan dx="0" font-size="30" dy="1">+</tspan><tspan dy="-1" font-size="1"> </tspan></text>
<path d="M1484.4 2442.4H1546.3" stroke="#cc3333" stroke-width="2.2" fill="none"/>
<text x="1557.0" y="2453.1" font-family="'Liberation Serif',serif" font-size="29" fill="#000"><tspan font-family="'Liberation Sans',sans-serif" font-size="26">.</tspan>ρ<tspan dx="7" font-family="'Liberation Sans',sans-serif" font-size="26">-</tspan></text>
<use href="#ci" x="946.4" y="2479.3" color="#00ff00"/>
<text x="987.3" y="2490.0" font-family="'Liberation Serif',serif" font-size="29" fill="#000">ρ<tspan dx="7" font-family="'Liberation Sans',sans-serif" font-size="26">-</tspan></text>
<text x="891.2" y="2573.0" font-family="'Liberation Serif',serif" font-size="29.5" fill="#000" word-spacing="3" textLength="743.0" lengthAdjust="spacingAndGlyphs" xml:space="preserve"><tspan font-weight="bold" font-size="33">(f)</tspan> This figure depicts the behavior of all EC terms</text>
<text x="891.2" y="2613.7" font-family="'Liberation Serif',serif" font-size="29.5" fill="#000" word-spacing="3" textLength="735.4" lengthAdjust="spacingAndGlyphs" xml:space="preserve">for Model-II in Subcase 12 (<tspan font-style="italic">ξ</tspan><tspan dy="5.5" font-size="21">2</tspan><tspan dy="-5.5" font-size="1"> </tspan> &lt; 0, <tspan font-style="italic">α</tspan><tspan dy="5.5" font-size="21">2</tspan><tspan dy="-5.5" font-size="1"> </tspan> &lt; 0, <tspan font-style="italic">α</tspan> &lt; 0).</text>
<text x="891.2" y="2653.7" font-family="'Liberation Serif',serif" font-size="29.5" fill="#000" word-spacing="3" textLength="739.4" lengthAdjust="spacingAndGlyphs" xml:space="preserve">All ECs are found to be satisfied for every <tspan font-style="italic">r</tspan> &gt; 0.55.</text>
</svg></body></html>
